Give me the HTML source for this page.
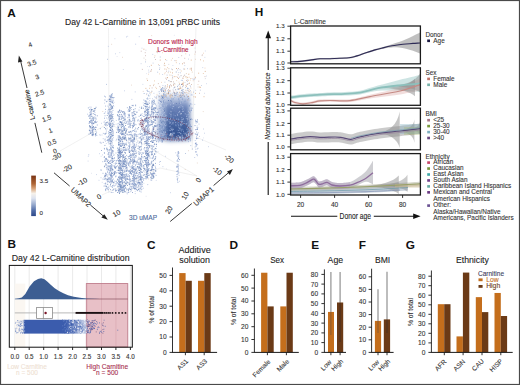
<!DOCTYPE html><html><head><meta charset="utf-8"><style>html,body{margin:0;padding:0;background:#fff;overflow:hidden}svg{display:block}text{font-family:"Liberation Sans",sans-serif}</style></head><body><svg width="520" height="385" viewBox="0 0 520 385" font-family='"Liberation Sans", sans-serif'>
<rect width="520" height="385" fill="#fff"/>
<text x="7.2" y="16.5" font-size="11.8" fill="#111" font-weight="bold">A</text>
<text x="65.0" y="24.6" font-size="9.0" fill="#222" stroke="#222" stroke-width="0.1" textLength="155" lengthAdjust="spacingAndGlyphs">Day 42 L-Carnitine in 13,091 pRBC units</text>
<line x1="108.5" y1="28.0" x2="109.0" y2="122.0" stroke="#ebebeb" stroke-width="0.7"/>
<line x1="196.0" y1="27.0" x2="192.0" y2="150.0" stroke="#ebebeb" stroke-width="0.7"/>
<line x1="60.0" y1="151.0" x2="109.0" y2="123.0" stroke="#ebebeb" stroke-width="0.7"/>
<line x1="155.0" y1="151.0" x2="197.0" y2="176.0" stroke="#ebebeb" stroke-width="0.7"/>
<line x1="196.0" y1="137.0" x2="226.0" y2="150.0" stroke="#ebebeb" stroke-width="0.7"/>
<line x1="102.0" y1="195.0" x2="160.0" y2="168.0" stroke="#ebebeb" stroke-width="0.7"/>
<line x1="109.0" y1="123.0" x2="155.0" y2="151.0" stroke="#ebebeb" stroke-width="0.7"/>
<line x1="160.0" y1="168.0" x2="197.0" y2="176.0" stroke="#ebebeb" stroke-width="0.7"/>
<defs><filter id="blur2" x="-20%" y="-20%" width="140%" height="140%"><feGaussianBlur stdDeviation="2.2"/></filter><filter id="blur05"><feGaussianBlur stdDeviation="0.35"/></filter></defs>
<g filter="url(#blur2)">
<defs><linearGradient id="g1" gradientUnits="userSpaceOnUse" x1="0" y1="90" x2="0" y2="141"><stop offset="0" stop-color="#8aa0cc" stop-opacity="0"/><stop offset="0.35" stop-color="#8aa0cc" stop-opacity="0.55"/><stop offset="1" stop-color="#5a78b2" stop-opacity="0.95"/></linearGradient></defs>
<path d="M158 92 L190 89 L190 140 L170 141 L158 139 Z" fill="url(#g1)"/>
<defs><linearGradient id="g1b" gradientUnits="userSpaceOnUse" x1="0" y1="93" x2="0" y2="140"><stop offset="0" stop-color="#8fa4d0" stop-opacity="0"/><stop offset="0.3" stop-color="#627cb4" stop-opacity="0.9"/><stop offset="0.8" stop-color="#3a5896" stop-opacity="1"/><stop offset="1" stop-color="#34508e" stop-opacity="1"/></linearGradient></defs>
<path d="M164 92 L190 90 L190 138 L166 139 Z" fill="url(#g1b)"/>
</g>
<g filter="url(#blur05)">
<path d="M122.1 57.3h0.8M119.0 165.5h0.8M148.3 179.0h0.8M202.8 111.6h0.8M196.9 163.0h0.8M178.6 82.1h0.8M184.8 169.5h0.8M189.3 112.6h0.8M124.7 140.0h0.8M151.3 35.6h0.8M102.4 111.5h0.8M131.0 85.1h0.8M111.3 44.3h0.8M195.0 59.3h0.8M165.6 141.2h0.8M188.2 150.7h0.8" stroke="#e0c8b8" stroke-width="0.8" fill="none"/>
<path d="M92.2 129.9h0.8M203.2 137.9h0.8M116.7 56.5h0.8M169.8 118.6h0.8M158.1 49.2h0.8M147.1 66.5h0.8M180.4 121.5h0.8M123.9 113.1h0.8M140.5 142.2h0.8M165.4 90.9h0.8M166.1 168.9h0.8M134.7 186.2h0.8M182.0 49.8h0.8M137.6 134.9h0.8M146.0 73.6h0.8M173.9 35.3h0.8M123.1 136.8h0.8M132.8 122.1h0.8M145.7 196.3h0.8M91.0 173.3h0.8" stroke="#d8dcea" stroke-width="0.8" fill="none"/>
<path d="M107.9 46.4h0.8M203.2 129.0h0.8M152.4 54.4h0.8M153.4 136.0h0.8M178.4 57.5h0.8M124.2 90.8h0.8M186.9 79.8h0.8M195.3 90.3h0.8M126.2 134.6h0.8M176.0 98.8h0.8M151.4 180.4h0.8M192.3 78.8h0.8M208.2 146.7h0.8M165.1 156.3h0.8M183.7 97.9h0.8M131.2 112.9h0.8M204.2 133.2h0.8M96.0 174.6h0.8M184.4 65.6h0.8M170.0 192.7h0.8M87.9 156.3h0.8M168.7 121.2h0.8M138.8 121.6h0.8M98.6 180.3h0.8M108.5 192.0h0.8M188.2 59.1h0.8M139.6 150.1h0.8M115.2 53.8h0.8M149.0 66.6h0.8M144.4 172.2h0.8M134.6 161.3h0.8M102.0 154.9h0.8M100.2 135.1h0.8M123.8 139.6h0.8M109.4 182.5h0.8M117.8 189.5h0.8M112.1 165.3h0.8M111.0 136.5h0.8M116.6 183.0h0.8M146.0 178.8h0.8M140.0 176.5h0.8M143.0 132.3h0.8M148.4 155.2h0.8M115.9 120.5h0.8M159.1 140.1h0.8M122.8 182.6h0.8M134.8 191.4h0.8M134.2 183.7h0.8M153.1 127.8h0.8M107.4 171.2h0.8M155.7 136.8h0.8M101.6 135.0h0.8M109.6 156.6h0.8M145.2 164.0h0.8M109.9 141.7h0.8M111.4 139.4h0.8M133.5 171.7h0.8M153.1 130.4h0.8" stroke="#b4c2e0" stroke-width="0.8" fill="none"/>
<path d="M135.2 170.9h0.8M128.4 124.0h0.8M138.3 134.3h0.8M134.8 193.6h0.8M155.4 108.6h0.8M99.7 142.6h0.8M127.0 147.9h0.8M126.2 36.9h0.8M136.4 138.8h0.8M131.5 99.4h0.8M138.8 36.7h0.8M189.2 55.0h0.8M134.8 91.9h0.8M154.2 149.7h0.8M135.3 44.2h0.8M162.5 166.7h0.8M199.0 136.4h0.8M148.5 72.1h0.8M141.7 189.0h0.8M194.4 104.4h0.8M135.5 181.6h0.8M159.8 126.0h0.8M148.0 160.3h0.8M112.2 142.1h0.8M112.8 190.1h0.8M125.5 138.4h0.8M157.2 126.8h0.8M113.0 185.0h0.8M114.3 185.4h0.8M123.1 178.2h0.8M159.0 164.5h0.8M153.8 127.6h0.8M116.1 172.6h0.8M109.3 136.0h0.8M139.5 137.6h0.8M138.5 186.0h0.8M105.6 158.9h0.8M130.1 160.5h0.8M138.0 163.2h0.8M148.7 134.1h0.8M125.1 177.9h0.8M135.5 171.1h0.8M135.8 181.9h0.8M137.9 178.8h0.8M100.6 177.7h0.8" stroke="#a8b8da" stroke-width="0.8" fill="none"/>
<path d="M120.1 169.1h0.8M93.4 128.0h0.8M87.7 161.1h0.8M204.5 57.4h0.8M128.0 127.1h0.8M127.3 36.3h0.8M142.5 84.4h0.8M114.4 171.2h0.8M122.9 69.5h0.8M182.7 111.3h0.8M204.2 93.3h0.8M172.5 65.5h0.8M174.2 60.6h0.8M164.5 120.5h0.8M136.4 178.5h0.8M113.7 102.4h0.8M146.4 178.6h0.8M159.1 162.4h0.8M113.7 126.0h0.8M119.4 52.6h0.8M204.9 51.0h0.8M114.5 38.7h0.8M116.3 166.3h0.8M206.0 76.0h0.8M206.1 83.7h0.8M106.4 129.4h0.8M105.9 143.5h0.8M159.2 131.5h0.8M110.3 174.1h0.8M140.5 168.7h0.8M109.3 129.7h0.8M125.4 162.0h0.8M132.2 150.1h0.8M101.8 182.3h0.8M153.4 158.8h0.8M126.6 129.4h0.8M112.9 179.0h0.8M143.5 183.3h0.8M138.0 153.6h0.8M124.3 161.5h0.8M114.7 172.1h0.8M139.2 190.0h0.8M100.7 156.3h0.8M146.5 143.2h0.8M140.9 160.4h0.8M111.0 133.8h0.8M150.2 137.0h0.8M119.7 189.5h0.8M155.8 180.4h0.8" stroke="#c0cce4" stroke-width="0.8" fill="none"/>
<path d="M168.5 103.8h0.8M140.5 187.1h0.8M181.4 45.8h0.8M179.4 128.3h0.8M88.4 154.8h0.8M143.0 131.0h0.8M107.1 59.3h0.8M159.8 57.0h0.8M192.2 149.0h0.8M147.4 184.6h0.8M185.1 153.5h0.8M145.2 160.3h0.8M158.8 65.5h0.8M202.1 140.1h0.8M190.4 145.6h0.8M159.1 69.4h0.8M192.2 108.2h0.8M106.2 84.4h0.8M145.0 61.9h0.8M137.6 182.7h0.8M132.3 135.9h0.8M131.7 154.7h0.8M142.7 157.9h0.8M109.9 137.9h0.8M105.9 136.9h0.8M131.9 167.0h0.8M129.0 125.8h0.8M124.1 130.1h0.8M155.4 130.8h0.8M143.8 178.5h0.8M154.8 166.2h0.8M131.6 160.9h0.8M124.6 128.2h0.8M139.6 146.9h0.8M122.7 176.4h0.8M107.8 140.8h0.8M120.4 130.5h0.8M122.7 147.6h0.8M105.4 183.8h0.8M123.3 186.8h0.8M133.6 166.7h0.8M123.5 147.4h0.8" stroke="#96aad2" stroke-width="0.8" fill="none"/>
<path d="M183.6 62.7h0.8M164.8 72.7h0.8M193.7 78.4h0.8M176.3 80.6h0.8M155.3 87.3h0.8M189.9 80.1h0.8M203.2 53.2h0.8M204.6 68.1h0.8M197.6 84.6h0.8M194.5 54.2h0.8M192.8 80.8h0.8M162.2 52.7h0.8M163.9 90.1h0.8M164.9 86.8h0.8M148.2 74.2h0.8M159.5 97.1h0.8M158.1 64.5h0.8M170.9 60.2h0.8M188.0 74.3h0.8M172.2 58.4h0.8M189.0 89.3h0.8M179.4 86.9h0.8M179.0 84.1h0.8M186.4 77.9h0.8M181.6 88.0h0.8M164.3 73.8h0.8M186.8 93.0h0.8M188.8 77.2h0.8M191.3 92.1h0.8M181.6 95.3h0.8M173.7 76.5h0.8M161.1 82.4h0.8M183.9 75.3h0.8M175.4 89.9h0.8M171.8 96.9h0.8M166.0 69.3h0.8M170.2 97.5h0.8M190.6 88.0h0.8M186.0 92.3h0.8M159.1 73.9h0.8M170.7 75.3h0.8M173.8 83.6h0.8M169.9 81.6h0.8M159.9 87.8h0.8M174.5 86.9h0.8M179.9 86.2h0.8M181.0 96.1h0.8M171.8 79.1h0.8" stroke="#e8c4a8" stroke-width="0.8" fill="none"/>
<path d="M185.0 50.4h0.8M159.8 60.1h0.8M149.7 85.7h0.8M187.7 90.2h0.8M182.3 84.0h0.8M184.3 69.1h0.8M171.6 95.4h0.8M176.2 68.5h0.8M204.8 71.4h0.8M175.6 60.7h0.8M182.0 63.8h0.8M147.1 80.4h0.8M143.5 49.2h0.8M167.0 84.9h0.8M187.6 99.9h0.8M173.2 84.9h0.8M179.2 88.9h0.8M195.1 77.3h0.8M178.1 78.4h0.8M172.0 72.9h0.8M185.8 86.1h0.8M166.9 86.8h0.8M164.5 69.0h0.8M170.8 81.7h0.8M173.9 92.5h0.8M150.9 65.3h0.8M188.0 96.4h0.8M190.8 68.2h0.8M188.8 83.5h0.8M164.1 63.3h0.8M182.6 83.6h0.8M195.1 97.0h0.8M168.3 93.2h0.8M169.0 87.8h0.8M163.3 95.4h0.8M169.1 86.7h0.8" stroke="#cc9064" stroke-width="0.8" fill="none"/>
<path d="M150.2 71.2h0.8M155.9 98.2h0.8M178.1 68.5h0.8M156.4 51.9h0.8M195.0 52.0h0.8M145.0 55.7h0.8M140.8 51.2h0.8M183.9 63.1h0.8M204.6 76.6h0.8M144.8 52.7h0.8M201.9 54.9h0.8M186.3 94.9h0.8M158.2 50.7h0.8M181.3 55.7h0.8M169.3 87.1h0.8M151.1 69.6h0.8M159.4 86.4h0.8M166.0 71.2h0.8M141.9 69.4h0.8M184.4 58.3h0.8M155.0 59.5h0.8M167.9 93.3h0.8M170.0 84.8h0.8M172.1 77.7h0.8M175.4 94.0h0.8M187.3 84.4h0.8M191.0 69.0h0.8M186.7 84.4h0.8M166.8 77.8h0.8M173.3 85.1h0.8M169.7 90.4h0.8M181.8 84.4h0.8M161.1 90.9h0.8M199.2 93.3h0.8M166.1 79.3h0.8M165.9 88.4h0.8M179.3 95.7h0.8M177.2 77.3h0.8M177.8 74.8h0.8M168.0 89.5h0.8M186.0 80.6h0.8M151.7 87.9h0.8M171.0 85.8h0.8M173.3 91.1h0.8M182.0 78.2h0.8M198.4 81.2h0.8M174.1 94.0h0.8" stroke="#c0a0a0" stroke-width="0.8" fill="none"/>
<path d="M163.7 65.1h0.8M154.2 57.5h0.8M145.5 50.2h0.8M194.6 48.1h0.8M204.9 78.6h0.8M168.4 64.4h0.8M175.8 71.6h0.8M172.4 77.9h0.8M185.2 85.4h0.8M165.6 94.7h0.8" stroke="#c8c8d0" stroke-width="0.8" fill="none"/>
<path d="M156.1 88.4h0.8M171.8 48.2h0.8M188.6 74.2h0.8M170.2 72.2h0.8M167.1 67.6h0.8M202.9 73.5h0.8M203.2 60.9h0.8M154.5 55.9h0.8M185.4 53.8h0.8M186.0 86.3h0.8M175.9 62.7h0.8M156.6 94.9h0.8M154.2 80.9h0.8M165.7 95.3h0.8M183.1 78.2h0.8M180.8 71.0h0.8M182.5 95.1h0.8M164.1 97.4h0.8M179.1 83.8h0.8M175.6 76.6h0.8M153.6 84.4h0.8M171.9 96.1h0.8M184.2 96.4h0.8M171.3 94.8h0.8M180.4 88.3h0.8M163.7 92.7h0.8M178.8 96.9h0.8M169.9 96.8h0.8M174.3 76.7h0.8M184.9 76.9h0.8M168.0 91.1h0.8M167.3 93.9h0.8M149.2 88.3h0.8" stroke="#e2b890" stroke-width="0.8" fill="none"/>
<path d="M157.2 52.7h0.8M182.7 85.2h0.8M142.8 91.4h0.8M172.4 93.6h0.8M156.5 51.4h0.8M186.8 50.6h0.8M197.7 87.0h0.8M146.0 94.6h0.8M180.7 75.5h0.8M143.6 58.1h0.8M145.3 59.8h0.8M201.7 55.6h0.8" stroke="#d0c0b8" stroke-width="0.8" fill="none"/>
<path d="M189.7 85.5h0.8M202.4 67.6h0.8M182.9 51.4h0.8M188.1 98.7h0.8M158.8 52.0h0.8M141.6 48.2h0.8M166.4 60.4h0.8M181.8 51.9h0.8M148.3 70.1h0.8M165.4 96.2h0.8M201.2 85.5h0.8M140.7 63.7h0.8" stroke="#b8c4de" stroke-width="0.8" fill="none"/>
<path d="M199.1 87.1h0.8M203.6 96.7h0.8M200.2 87.3h0.8M191.0 70.2h0.8M164.5 65.6h0.8M195.2 93.4h0.8M145.5 88.4h0.8M190.8 60.1h0.8M165.2 59.6h0.8M200.1 59.8h0.8M198.3 73.2h0.8M189.7 69.0h0.8M158.9 96.5h0.8M188.8 91.3h0.8M168.2 93.9h0.8M168.5 91.2h0.8M182.8 82.2h0.8M167.0 77.5h0.8M182.6 84.2h0.8M165.9 96.1h0.8M193.5 96.8h0.8M164.9 90.6h0.8M181.3 84.2h0.8M187.8 80.3h0.8M150.7 92.7h0.8M187.3 77.4h0.8M184.4 92.4h0.8M179.3 92.3h0.8M190.5 78.5h0.8M178.6 88.6h0.8" stroke="#d8a070" stroke-width="0.8" fill="none"/>
<path d="M189.1 83.0h0.8M167.8 72.7h0.8M174.6 84.1h0.8M180.5 96.5h0.8M161.8 95.5h0.8M146.5 78.8h0.8M185.9 73.6h0.8M191.8 72.1h0.8M170.9 85.9h0.8M178.6 94.0h0.8M181.1 93.0h0.8M185.7 76.6h0.8M165.0 89.7h0.8M151.5 91.2h0.8M151.0 71.0h0.8M188.3 93.2h0.8M169.4 75.0h0.8M161.5 95.3h0.8M170.2 95.3h0.8" stroke="#d8bca0" stroke-width="0.8" fill="none"/>
<path d="M169.6 91.6h0.8M165.4 78.2h0.8M180.3 94.8h0.8M179.5 95.9h0.8M168.5 68.7h0.8M183.2 94.7h0.8M153.1 85.6h0.8M183.2 85.8h0.8M177.4 96.7h0.8M169.6 95.2h0.8M176.5 92.1h0.8M180.0 88.0h0.8M172.2 69.7h0.8M191.2 84.5h0.8M166.5 93.3h0.8M173.2 81.9h0.8M157.9 83.6h0.8M183.0 76.4h0.8M185.5 90.3h0.8M169.5 96.1h0.8M180.2 88.1h0.8" stroke="#c8a898" stroke-width="0.8" fill="none"/>
<path d="M179.2 84.6h0.8M159.4 67.9h0.8M177.3 70.0h0.8M184.3 75.2h0.8M174.0 97.6h0.8M190.1 86.7h0.8M166.7 75.1h0.8M189.6 91.9h0.8M176.5 92.6h0.8M199.9 90.2h0.8M178.7 95.9h0.8M190.2 90.6h0.8M170.2 94.1h0.8M183.5 93.0h0.8M194.7 78.7h0.8M168.1 80.6h0.8" stroke="#a8b4d0" stroke-width="0.8" fill="none"/>
<path d="M173.9 93.3h0.8M173.8 83.4h0.8M152.7 63.1h0.8M187.0 81.5h0.8M193.4 79.7h0.8M180.6 75.8h0.8M180.1 72.8h0.8M178.4 72.6h0.8M167.2 90.7h0.8M162.3 74.5h0.8M169.2 90.6h0.8M160.8 95.5h0.8M162.1 97.4h0.8M193.7 79.6h0.8M184.6 82.4h0.8M181.8 90.5h0.8M179.8 96.1h0.8M160.8 90.4h0.8M165.6 94.2h0.8M179.6 69.7h0.8M178.8 97.4h0.8M164.5 82.2h0.8M179.1 63.7h0.8M188.1 91.2h0.8" stroke="#b0bedc" stroke-width="0.8" fill="none"/>
<path d="M180.9 80.3h0.8M164.9 85.6h0.8M174.4 94.3h0.8M170.7 81.5h0.8M171.3 69.1h0.8M183.3 69.0h0.8M175.8 72.3h0.8M157.3 72.2h0.8M172.2 75.9h0.8M179.3 77.1h0.8M182.2 80.4h0.8M177.8 85.2h0.8M169.0 85.5h0.8M193.2 92.1h0.8M165.4 96.4h0.8M164.5 87.0h0.8M168.4 71.2h0.8M175.0 89.6h0.8M185.2 87.6h0.8M168.8 80.8h0.8M186.9 88.4h0.8M187.0 68.7h0.8" stroke="#9fb2d6" stroke-width="0.8" fill="none"/>
<path d="M91.7 132.2h0.85M91.6 135.1h0.85M90.7 113.2h0.85M92.8 129.4h0.85M92.7 117.3h0.85M91.7 109.5h0.85M92.5 133.1h0.85M89.9 133.4h0.85M90.5 111.0h0.85M91.7 121.1h0.85M95.1 129.5h0.85M95.6 127.4h0.85M92.6 133.0h0.85M92.6 118.0h0.85M95.1 134.0h0.85M89.3 125.8h0.85M91.0 109.8h0.85M110.2 96.8h0.85M108.7 143.8h0.85M108.1 113.9h0.85M110.2 136.3h0.85M108.8 163.2h0.85M105.1 158.9h0.85M109.7 165.7h0.85M111.0 118.4h0.85M110.9 141.5h0.85M105.8 179.0h0.85M110.4 99.2h0.85M110.6 115.9h0.85M110.0 144.0h0.85M110.3 179.4h0.85M108.4 166.4h0.85M109.2 157.0h0.85M112.1 129.7h0.85M109.5 122.2h0.85M111.1 175.8h0.85M112.0 126.2h0.85M109.9 97.1h0.85M107.7 160.3h0.85M111.4 120.5h0.85M111.2 107.2h0.85M112.6 100.2h0.85M109.4 109.7h0.85M112.0 135.7h0.85M111.9 173.5h0.85M112.0 107.4h0.85M107.3 139.9h0.85M110.8 115.8h0.85M110.5 123.7h0.85M105.5 124.6h0.85M112.1 97.7h0.85M119.3 137.3h0.85M120.5 163.7h0.85M123.5 139.0h0.85M122.2 137.0h0.85M124.3 152.3h0.85M122.8 157.2h0.85M120.0 151.4h0.85M118.5 170.4h0.85M124.1 138.5h0.85M117.8 137.9h0.85M121.1 127.6h0.85M118.8 192.6h0.85M123.2 186.5h0.85M124.1 145.4h0.85M122.5 155.4h0.85M118.9 173.5h0.85M119.1 184.8h0.85M121.8 122.1h0.85M120.6 148.9h0.85M119.0 118.7h0.85M119.7 156.4h0.85M121.4 170.3h0.85M125.9 174.2h0.85M123.1 155.0h0.85M125.1 180.2h0.85M124.1 171.3h0.85M119.9 178.0h0.85M123.2 174.9h0.85M119.7 137.7h0.85M120.9 139.5h0.85M118.2 129.6h0.85M123.6 189.7h0.85M121.4 189.8h0.85M118.0 177.4h0.85M120.1 191.2h0.85M119.4 150.6h0.85M117.9 132.5h0.85M125.1 161.4h0.85M124.5 147.2h0.85M118.0 158.5h0.85M119.8 140.2h0.85M121.6 177.7h0.85M118.4 140.1h0.85M124.6 119.1h0.85M120.8 189.0h0.85M118.0 144.7h0.85M118.7 116.3h0.85M119.2 110.3h0.85M122.5 189.7h0.85M123.9 190.9h0.85M122.4 145.2h0.85M119.8 189.6h0.85M125.6 131.0h0.85M122.2 178.0h0.85M122.5 130.5h0.85M121.9 186.6h0.85M141.6 133.7h0.85M132.8 154.5h0.85M128.4 189.2h0.85M129.6 124.4h0.85M128.8 120.0h0.85M130.1 127.3h0.85M138.8 154.4h0.85M130.1 125.2h0.85M129.2 119.8h0.85M133.3 109.7h0.85M128.7 171.0h0.85M141.2 108.5h0.85M129.1 111.2h0.85M139.5 124.7h0.85M134.6 184.1h0.85M129.1 138.4h0.85M132.7 140.5h0.85M140.4 167.8h0.85M129.4 121.2h0.85M142.9 108.2h0.85M141.1 143.3h0.85M133.6 147.7h0.85M129.6 139.7h0.85M132.2 151.3h0.85M139.0 142.2h0.85M138.2 127.6h0.85M132.8 139.5h0.85M130.4 189.5h0.85M132.0 172.2h0.85M134.2 138.7h0.85M136.1 172.6h0.85M139.8 153.0h0.85M136.4 189.4h0.85M135.0 114.6h0.85M130.2 169.8h0.85M134.1 139.6h0.85M128.4 156.5h0.85M134.2 118.9h0.85M140.6 177.4h0.85M130.0 172.4h0.85M134.3 121.2h0.85M132.4 153.7h0.85M134.7 173.2h0.85M133.9 185.8h0.85M141.6 179.0h0.85M135.6 153.6h0.85M130.0 159.2h0.85M133.3 161.6h0.85M132.7 141.6h0.85M132.8 147.4h0.85M131.5 149.9h0.85M133.7 148.5h0.85M134.6 157.1h0.85M155.3 126.3h0.85M152.8 129.6h0.85M155.8 112.6h0.85M154.9 151.1h0.85M152.4 147.1h0.85M146.3 120.1h0.85M144.7 133.1h0.85M146.6 144.2h0.85M150.8 124.6h0.85M146.5 164.4h0.85M146.6 134.6h0.85M153.3 165.3h0.85M147.6 155.4h0.85M146.9 122.9h0.85M151.3 120.4h0.85M146.3 145.3h0.85M153.6 173.5h0.85M146.3 142.0h0.85M148.0 153.7h0.85M151.9 133.7h0.85M147.1 170.9h0.85M148.0 118.5h0.85M144.4 120.0h0.85M147.1 113.5h0.85M151.8 124.5h0.85M147.9 162.3h0.85M153.5 173.0h0.85M147.6 144.7h0.85M145.2 121.0h0.85M148.7 131.6h0.85M154.2 154.0h0.85M154.1 125.7h0.85M145.9 174.5h0.85M152.7 165.1h0.85M144.8 152.1h0.85M146.2 136.8h0.85M147.0 147.3h0.85M143.9 156.5h0.85M145.3 151.4h0.85M146.6 109.6h0.85M146.7 128.7h0.85M153.0 176.4h0.85M155.2 171.1h0.85M144.1 135.0h0.85M147.2 157.4h0.85M147.3 127.4h0.85M151.9 175.0h0.85M152.8 109.1h0.85M145.2 127.9h0.85M148.6 156.1h0.85M144.5 160.7h0.85M149.7 151.8h0.85M146.8 104.5h0.85M150.7 170.3h0.85M143.6 128.9h0.85M146.6 114.8h0.85M145.9 172.9h0.85M150.4 170.2h0.85M147.2 110.1h0.85M145.5 154.2h0.85M153.4 169.5h0.85M150.5 170.7h0.85M134.7 178.5h0.85M124.2 174.9h0.85M138.4 186.9h0.85M139.9 171.1h0.85M140.1 168.6h0.85M107.9 189.8h0.85M137.7 182.5h0.85M138.3 185.2h0.85M140.5 179.5h0.85M124.6 161.0h0.85M108.4 181.2h0.85M105.7 186.5h0.85M107.3 184.3h0.85M112.4 185.6h0.85M118.2 184.7h0.85M138.3 181.9h0.85M129.7 163.7h0.85M137.1 175.9h0.85M139.5 182.4h0.85M111.5 173.2h0.85M133.0 175.4h0.85M141.3 177.0h0.85M105.1 173.3h0.85M113.8 174.1h0.85M121.1 177.7h0.85M139.0 182.6h0.85M134.8 175.3h0.85M160.4 101.3h0.85M171.7 133.6h0.85M162.3 98.1h0.85M169.5 123.5h0.85M162.8 90.7h0.85M163.4 103.0h0.85M169.6 119.6h0.85M161.8 121.8h0.85M171.3 100.3h0.85M162.1 135.6h0.85M161.1 101.2h0.85M180.7 134.0h0.85M181.8 136.3h0.85M163.4 96.8h0.85M169.1 126.8h0.85M181.1 130.2h0.85M175.9 103.5h0.85M182.5 122.3h0.85M174.4 93.2h0.85M183.2 119.0h0.85M164.1 111.9h0.85M164.3 110.5h0.85M175.4 95.5h0.85M171.1 139.0h0.85M187.9 120.6h0.85M162.3 97.3h0.85M173.1 124.7h0.85M165.2 135.0h0.85M161.8 130.0h0.85M168.0 100.5h0.85M165.3 119.6h0.85M162.5 138.7h0.85M161.2 102.4h0.85M178.9 103.2h0.85M163.8 130.3h0.85M162.8 108.3h0.85M172.1 131.0h0.85M163.2 131.1h0.85M178.3 120.4h0.85M163.3 131.1h0.85M180.2 121.3h0.85M165.1 130.5h0.85M179.3 114.6h0.85M171.3 122.2h0.85M163.1 109.6h0.85M162.6 135.6h0.85M170.9 101.7h0.85" stroke="#5a76ae" stroke-width="0.85" fill="none"/>
<path d="M96.8 115.8h0.85M93.8 111.3h0.85M89.7 115.2h0.85M89.6 127.8h0.85M88.9 130.2h0.85M92.6 118.7h0.85M91.5 127.4h0.85M92.8 113.7h0.85M88.6 134.1h0.85M92.8 111.5h0.85M90.0 132.9h0.85M89.2 118.2h0.85M108.5 179.4h0.85M113.0 135.3h0.85M112.5 133.9h0.85M108.4 152.8h0.85M109.9 129.4h0.85M112.6 132.8h0.85M109.2 109.4h0.85M110.7 116.5h0.85M111.2 121.5h0.85M109.1 126.5h0.85M106.4 148.4h0.85M111.8 160.1h0.85M111.8 129.3h0.85M104.5 160.1h0.85M106.8 115.4h0.85M110.1 124.3h0.85M110.8 97.6h0.85M111.5 107.6h0.85M107.3 122.2h0.85M103.9 127.5h0.85M112.2 158.2h0.85M104.5 145.4h0.85M106.3 122.7h0.85M109.7 115.8h0.85M109.6 99.4h0.85M110.4 175.5h0.85M111.4 182.1h0.85M111.1 173.2h0.85M109.7 125.7h0.85M111.9 158.5h0.85M112.1 106.4h0.85M111.1 168.5h0.85M108.5 117.1h0.85M110.5 114.7h0.85M108.3 142.0h0.85M104.8 123.0h0.85M105.7 133.1h0.85M104.6 139.9h0.85M112.4 147.4h0.85M104.5 100.0h0.85M108.5 178.5h0.85M112.3 151.4h0.85M119.1 193.5h0.85M125.5 158.4h0.85M124.4 157.7h0.85M119.3 129.4h0.85M120.9 116.8h0.85M118.4 142.5h0.85M123.0 163.7h0.85M121.6 134.1h0.85M118.4 180.9h0.85M125.7 158.9h0.85M120.3 121.8h0.85M121.9 152.3h0.85M118.0 155.3h0.85M123.3 149.1h0.85M121.8 131.2h0.85M121.7 134.4h0.85M120.1 155.6h0.85M123.3 150.7h0.85M120.0 141.2h0.85M118.6 169.3h0.85M121.1 168.7h0.85M122.5 132.3h0.85M124.4 191.8h0.85M121.5 125.3h0.85M119.6 168.6h0.85M123.4 134.8h0.85M121.2 175.5h0.85M124.5 138.3h0.85M117.4 129.2h0.85M123.8 119.3h0.85M119.3 185.7h0.85M118.6 179.7h0.85M123.5 172.7h0.85M119.2 110.8h0.85M124.2 164.0h0.85M120.9 156.5h0.85M122.4 143.1h0.85M119.4 117.2h0.85M122.7 157.6h0.85M118.9 159.6h0.85M118.6 163.8h0.85M117.5 115.6h0.85M121.1 119.1h0.85M123.7 147.5h0.85M119.0 144.6h0.85M123.5 123.2h0.85M119.9 181.8h0.85M123.4 134.4h0.85M125.2 125.5h0.85M123.7 112.7h0.85M120.4 169.9h0.85M126.1 171.1h0.85M120.5 122.4h0.85M121.8 145.0h0.85M119.1 129.8h0.85M123.7 130.5h0.85M119.8 186.1h0.85M117.7 186.6h0.85M124.2 176.2h0.85M121.4 143.3h0.85M140.1 115.5h0.85M140.3 184.8h0.85M130.8 141.2h0.85M135.2 105.7h0.85M141.5 138.8h0.85M129.2 148.1h0.85M133.4 130.5h0.85M129.3 150.8h0.85M130.7 121.5h0.85M128.7 158.6h0.85M132.6 105.7h0.85M135.7 131.2h0.85M134.2 113.9h0.85M136.3 135.8h0.85M137.6 148.5h0.85M132.5 125.5h0.85M140.2 175.7h0.85M133.9 114.3h0.85M134.4 169.8h0.85M135.3 169.7h0.85M135.8 136.8h0.85M131.0 157.1h0.85M127.0 185.4h0.85M134.2 154.1h0.85M140.6 179.0h0.85M128.3 139.2h0.85M135.7 146.0h0.85M135.9 156.0h0.85M133.6 151.2h0.85M132.1 136.9h0.85M130.3 159.6h0.85M129.2 145.0h0.85M132.3 140.1h0.85M138.4 151.8h0.85M141.2 107.7h0.85M143.2 165.4h0.85M132.1 183.8h0.85M130.0 138.6h0.85M131.8 159.8h0.85M130.0 171.9h0.85M129.6 173.5h0.85M128.9 184.1h0.85M127.5 117.7h0.85M142.0 182.4h0.85M132.3 116.3h0.85M128.9 184.5h0.85M135.5 185.9h0.85M140.4 146.6h0.85M127.5 124.3h0.85M132.3 127.0h0.85M141.1 164.8h0.85M141.1 143.1h0.85M130.1 131.4h0.85M133.0 169.3h0.85M133.1 187.2h0.85M141.2 139.6h0.85M133.3 138.9h0.85M142.2 161.1h0.85M131.8 165.7h0.85M132.7 188.1h0.85M139.5 176.9h0.85M131.0 155.2h0.85M151.6 161.2h0.85M152.3 174.1h0.85M146.0 150.2h0.85M149.4 146.8h0.85M145.2 120.1h0.85M152.3 135.3h0.85M150.4 116.7h0.85M153.2 119.2h0.85M146.3 131.4h0.85M153.4 113.2h0.85M154.7 119.1h0.85M144.9 119.5h0.85M144.0 120.5h0.85M155.9 117.3h0.85M147.3 122.7h0.85M149.7 125.3h0.85M144.6 156.8h0.85M145.5 114.8h0.85M148.0 148.7h0.85M148.7 131.3h0.85M145.2 176.9h0.85M153.4 131.4h0.85M146.9 167.5h0.85M147.4 175.3h0.85M152.1 101.9h0.85M155.1 111.2h0.85M155.2 134.0h0.85M151.7 106.4h0.85M155.1 138.4h0.85M151.5 168.8h0.85M151.9 142.2h0.85M152.3 123.2h0.85M147.9 155.4h0.85M156.0 144.4h0.85M152.9 137.3h0.85M155.0 117.5h0.85M148.1 130.4h0.85M147.1 151.3h0.85M146.6 143.4h0.85M147.1 158.3h0.85M155.6 148.7h0.85M152.9 165.3h0.85M146.4 160.7h0.85M146.6 172.6h0.85M153.4 112.7h0.85M155.3 116.5h0.85M148.6 152.6h0.85M143.8 132.3h0.85M147.5 173.7h0.85M146.3 131.7h0.85M147.3 170.0h0.85M144.9 158.3h0.85M147.8 150.8h0.85M145.1 132.6h0.85M147.9 120.5h0.85M154.2 120.1h0.85M147.7 107.4h0.85M135.5 184.6h0.85M121.4 166.8h0.85M110.4 167.4h0.85M122.8 162.9h0.85M139.7 173.6h0.85M114.7 167.7h0.85M121.1 168.7h0.85M121.0 179.9h0.85M135.1 165.1h0.85M113.9 172.2h0.85M138.7 170.5h0.85M122.5 177.1h0.85M109.1 177.9h0.85M120.9 178.5h0.85M125.6 183.5h0.85M138.9 164.4h0.85M115.9 166.8h0.85M123.3 161.1h0.85M122.1 182.4h0.85M137.7 164.3h0.85M135.9 169.2h0.85M122.2 190.3h0.85M122.5 192.3h0.85M135.3 178.8h0.85M126.8 178.8h0.85M130.0 189.3h0.85M139.6 188.4h0.85M126.6 189.6h0.85M122.9 163.0h0.85M118.8 184.4h0.85M139.7 165.4h0.85M140.1 179.8h0.85M177.7 130.1h0.85M161.6 140.4h0.85M181.8 134.2h0.85M172.7 98.9h0.85M170.5 121.6h0.85M161.3 91.3h0.85M172.9 135.1h0.85M181.2 108.9h0.85M171.7 136.1h0.85M163.3 121.6h0.85M160.2 118.3h0.85M162.5 103.4h0.85M174.9 106.7h0.85M159.6 128.6h0.85M181.5 120.3h0.85M178.8 140.1h0.85M191.0 126.6h0.85M171.0 113.0h0.85M183.9 134.0h0.85M172.3 133.1h0.85M163.2 93.9h0.85M187.3 96.8h0.85M183.2 130.0h0.85M171.7 129.6h0.85M164.1 124.7h0.85M172.8 105.9h0.85M164.9 119.8h0.85M170.5 133.1h0.85M188.6 137.8h0.85M160.5 121.1h0.85M184.1 112.1h0.85M189.3 111.1h0.85M176.2 125.0h0.85M170.6 118.1h0.85M162.7 135.2h0.85M162.1 117.6h0.85M171.4 129.7h0.85M189.1 105.7h0.85M163.7 130.2h0.85M177.7 126.1h0.85M162.7 101.3h0.85M163.7 123.7h0.85M163.3 98.2h0.85M179.0 119.5h0.85M186.8 113.7h0.85M179.3 136.3h0.85M181.6 128.7h0.85M170.8 134.1h0.85M182.5 93.3h0.85" stroke="#6682b6" stroke-width="0.85" fill="none"/>
<path d="M93.2 127.7h0.85M92.3 131.9h0.85M90.8 131.0h0.85M91.2 114.2h0.85M89.0 125.9h0.85M91.4 123.8h0.85M90.9 132.4h0.85M91.2 113.0h0.85M89.7 113.7h0.85M90.6 114.7h0.85M89.8 117.9h0.85M90.2 130.7h0.85M90.1 120.4h0.85M90.4 128.9h0.85M93.3 127.3h0.85M90.6 130.5h0.85M91.2 132.7h0.85M95.5 135.1h0.85M96.7 121.6h0.85M94.5 112.5h0.85M87.1 114.2h0.85M90.8 107.2h0.85M111.7 180.0h0.85M108.8 173.0h0.85M111.6 130.6h0.85M111.4 145.9h0.85M109.7 140.9h0.85M112.7 118.5h0.85M106.1 118.0h0.85M110.5 125.7h0.85M111.3 114.0h0.85M110.8 183.4h0.85M111.1 108.7h0.85M110.0 147.6h0.85M111.9 181.0h0.85M110.7 153.7h0.85M105.7 179.5h0.85M112.4 140.3h0.85M109.1 162.9h0.85M111.3 177.8h0.85M105.5 160.2h0.85M108.7 167.2h0.85M107.8 165.5h0.85M110.8 107.1h0.85M108.8 178.4h0.85M111.1 109.1h0.85M109.6 127.6h0.85M112.3 126.9h0.85M110.9 166.1h0.85M107.5 112.6h0.85M107.9 109.8h0.85M110.2 148.5h0.85M104.4 113.0h0.85M104.2 103.1h0.85M105.8 173.3h0.85M111.7 177.5h0.85M110.9 124.9h0.85M112.2 114.5h0.85M108.6 111.4h0.85M110.3 170.2h0.85M106.6 167.5h0.85M124.4 160.7h0.85M123.8 171.9h0.85M119.8 129.8h0.85M124.2 163.7h0.85M125.9 142.9h0.85M121.4 150.2h0.85M119.3 122.2h0.85M121.9 117.2h0.85M126.4 140.9h0.85M121.3 141.1h0.85M123.0 125.1h0.85M121.4 115.4h0.85M123.4 114.8h0.85M119.5 144.8h0.85M119.6 176.9h0.85M120.7 122.1h0.85M124.0 134.8h0.85M126.4 150.4h0.85M118.7 123.0h0.85M119.1 184.1h0.85M119.3 138.0h0.85M121.5 124.1h0.85M120.3 111.1h0.85M118.5 117.3h0.85M119.7 185.9h0.85M117.5 123.9h0.85M119.6 146.3h0.85M120.6 110.8h0.85M119.4 172.8h0.85M120.0 130.9h0.85M126.4 175.7h0.85M119.2 109.7h0.85M122.4 134.5h0.85M118.4 183.7h0.85M119.0 140.0h0.85M118.9 114.4h0.85M124.5 179.1h0.85M123.8 189.5h0.85M119.4 153.4h0.85M118.9 145.4h0.85M119.3 172.5h0.85M119.4 149.2h0.85M120.3 183.8h0.85M122.7 185.5h0.85M120.7 140.1h0.85M121.3 153.0h0.85M123.2 150.3h0.85M124.2 136.9h0.85M124.9 120.0h0.85M118.2 190.8h0.85M122.1 149.2h0.85M118.1 128.9h0.85M120.3 150.7h0.85M123.1 168.5h0.85M122.8 128.3h0.85M120.9 174.9h0.85M120.6 125.8h0.85M121.0 152.3h0.85M118.9 152.9h0.85M117.8 123.6h0.85M118.7 166.1h0.85M124.5 162.8h0.85M117.7 112.3h0.85M123.5 161.0h0.85M122.3 184.7h0.85M134.4 136.2h0.85M133.7 113.5h0.85M132.7 164.4h0.85M128.7 183.4h0.85M135.2 127.9h0.85M136.3 180.8h0.85M138.8 159.6h0.85M131.4 148.5h0.85M136.5 186.3h0.85M127.2 159.8h0.85M130.4 153.9h0.85M137.7 119.5h0.85M134.3 129.5h0.85M129.3 172.8h0.85M130.0 120.3h0.85M135.2 104.8h0.85M134.6 134.0h0.85M140.0 137.0h0.85M137.0 112.2h0.85M128.9 117.4h0.85M136.4 172.0h0.85M139.2 124.2h0.85M131.6 114.2h0.85M141.2 115.1h0.85M129.4 118.1h0.85M133.9 144.4h0.85M134.8 171.9h0.85M134.4 118.2h0.85M134.1 169.4h0.85M135.6 132.0h0.85M131.9 167.3h0.85M130.9 170.6h0.85M126.7 167.2h0.85M141.0 159.5h0.85M128.5 111.2h0.85M129.7 127.7h0.85M139.3 157.8h0.85M133.4 152.6h0.85M132.8 115.9h0.85M129.1 177.8h0.85M131.6 105.4h0.85M133.4 168.9h0.85M133.5 141.2h0.85M131.6 131.2h0.85M129.7 132.7h0.85M131.5 115.8h0.85M154.9 156.5h0.85M150.7 176.4h0.85M143.8 166.3h0.85M153.3 169.4h0.85M152.9 164.7h0.85M152.0 167.6h0.85M151.6 151.8h0.85M151.9 154.4h0.85M149.4 163.8h0.85M152.2 167.3h0.85M147.9 147.8h0.85M146.1 140.6h0.85M146.7 176.1h0.85M146.8 124.5h0.85M147.6 138.5h0.85M144.3 174.5h0.85M146.0 151.0h0.85M152.1 98.8h0.85M152.8 112.5h0.85M153.9 173.0h0.85M145.9 133.0h0.85M146.3 110.7h0.85M150.7 121.8h0.85M145.8 139.3h0.85M149.5 112.0h0.85M148.5 164.6h0.85M145.8 107.5h0.85M151.2 118.7h0.85M146.1 136.4h0.85M151.6 124.9h0.85M146.2 150.3h0.85M146.7 153.8h0.85M154.0 119.4h0.85M147.3 125.4h0.85M146.4 169.9h0.85M155.5 139.3h0.85M148.2 171.8h0.85M144.2 168.8h0.85M144.5 150.4h0.85M152.9 127.2h0.85M153.3 109.0h0.85M147.4 125.7h0.85M147.1 147.2h0.85M148.6 117.3h0.85M153.3 149.5h0.85M147.2 162.4h0.85M145.0 135.7h0.85M145.1 150.9h0.85M155.8 105.6h0.85M154.9 138.9h0.85M147.8 102.1h0.85M147.6 148.4h0.85M147.4 156.6h0.85M143.9 114.4h0.85M147.5 143.9h0.85M147.2 137.3h0.85M147.4 99.5h0.85M154.6 108.2h0.85M145.7 139.3h0.85M153.2 172.9h0.85M147.2 162.3h0.85M105.9 165.9h0.85M120.5 175.2h0.85M120.5 166.0h0.85M139.9 182.6h0.85M121.0 187.4h0.85M105.9 180.2h0.85M133.7 164.0h0.85M113.7 186.4h0.85M121.5 168.4h0.85M110.1 181.2h0.85M135.6 167.8h0.85M107.4 188.3h0.85M121.0 169.5h0.85M115.3 185.4h0.85M123.7 177.7h0.85M111.4 164.3h0.85M132.8 182.3h0.85M135.6 168.5h0.85M121.5 189.5h0.85M121.6 182.0h0.85M125.7 180.3h0.85M131.4 167.7h0.85M126.8 169.3h0.85M140.4 178.4h0.85M132.7 174.4h0.85M133.3 180.7h0.85M139.7 172.5h0.85M106.3 174.2h0.85M111.3 158.9h0.85M126.2 190.1h0.85M136.7 170.7h0.85M115.1 163.3h0.85M126.4 161.5h0.85M125.3 174.6h0.85M107.0 159.8h0.85M134.7 187.3h0.85M121.7 175.8h0.85M135.1 165.8h0.85M106.3 169.7h0.85M178.9 181.3h0.85M178.3 161.4h0.85M177.5 161.4h0.85M177.9 173.7h0.85M175.3 152.8h0.85M178.7 175.4h0.85M178.0 157.6h0.85M178.0 171.7h0.85M177.1 173.9h0.85M198.6 124.1h0.85M194.8 140.5h0.85M196.8 154.3h0.85M196.1 146.1h0.85M196.9 149.0h0.85M196.0 136.6h0.85M196.6 144.6h0.85M196.7 126.0h0.85M194.3 157.5h0.85M196.8 138.4h0.85M197.8 132.8h0.85M196.2 154.5h0.85M196.4 145.2h0.85M197.4 127.5h0.85M157.4 131.3h0.85M149.5 107.9h0.85M159.8 119.9h0.85M143.6 120.7h0.85M158.6 103.5h0.85M161.0 138.4h0.85M146.4 93.6h0.85M143.4 135.8h0.85M157.2 109.2h0.85M157.9 130.5h0.85M147.6 122.3h0.85M161.7 133.7h0.85M144.0 105.8h0.85M147.5 98.6h0.85M144.5 106.4h0.85M158.8 98.0h0.85M149.1 100.7h0.85M159.6 111.2h0.85M157.9 131.7h0.85M161.0 133.2h0.85M158.0 100.0h0.85M144.6 113.6h0.85M156.7 112.7h0.85M152.6 108.1h0.85M156.0 116.1h0.85M151.4 91.4h0.85M152.0 103.3h0.85M143.1 138.6h0.85M161.6 119.0h0.85M166.5 104.5h0.85M165.3 136.8h0.85M160.0 116.0h0.85M163.4 127.0h0.85M159.8 124.5h0.85M164.8 132.1h0.85M176.3 119.1h0.85M190.4 120.4h0.85M163.6 133.1h0.85M170.9 133.9h0.85M170.1 104.8h0.85M164.7 138.9h0.85M186.6 114.9h0.85M165.6 134.4h0.85M164.4 134.7h0.85M187.5 131.7h0.85M188.5 101.5h0.85M188.8 128.2h0.85M165.3 136.2h0.85M178.0 107.6h0.85M165.0 125.6h0.85M160.9 129.5h0.85M163.7 126.0h0.85M182.5 111.5h0.85M186.3 94.9h0.85M184.5 124.0h0.85M183.6 133.1h0.85M171.4 100.7h0.85M162.5 85.6h0.85M162.9 110.5h0.85M182.0 123.9h0.85M162.0 118.1h0.85M162.0 135.1h0.85M164.6 132.1h0.85M183.4 95.7h0.85M166.0 137.6h0.85M163.0 89.0h0.85M174.7 97.2h0.85M162.3 115.1h0.85M176.8 140.3h0.85M180.3 94.6h0.85M164.9 97.0h0.85M177.2 115.2h0.85M188.1 133.6h0.85M170.2 134.5h0.85M179.1 111.4h0.85M163.2 129.3h0.85M181.4 121.2h0.85M189.5 112.1h0.85M163.0 109.1h0.85M172.2 134.7h0.85M187.1 90.2h0.85" stroke="#b2c1e0" stroke-width="0.85" fill="none"/>
<path d="M95.1 120.9h0.85M95.4 131.2h0.85M88.9 122.1h0.85M92.6 129.0h0.85M90.9 118.8h0.85M95.0 135.9h0.85M94.9 122.2h0.85M96.4 135.4h0.85M89.9 118.3h0.85M90.3 120.8h0.85M89.5 107.1h0.85M95.4 117.9h0.85M110.3 140.1h0.85M108.4 107.2h0.85M108.1 163.4h0.85M109.7 161.0h0.85M111.8 169.8h0.85M110.9 136.6h0.85M110.0 147.3h0.85M111.4 175.9h0.85M109.6 130.0h0.85M111.2 115.0h0.85M109.9 118.4h0.85M112.1 102.5h0.85M108.6 123.9h0.85M111.3 172.0h0.85M108.5 168.4h0.85M112.8 179.1h0.85M103.8 113.5h0.85M109.4 112.8h0.85M110.6 105.2h0.85M109.8 170.6h0.85M109.8 105.0h0.85M109.9 124.4h0.85M109.9 107.9h0.85M110.1 180.7h0.85M112.6 110.4h0.85M110.2 127.6h0.85M109.3 110.9h0.85M111.4 149.9h0.85M111.7 108.6h0.85M109.8 115.5h0.85M111.4 181.5h0.85M107.7 118.9h0.85M113.2 98.0h0.85M103.6 177.9h0.85M106.9 137.6h0.85M109.1 166.8h0.85M110.7 154.0h0.85M111.5 162.2h0.85M112.1 114.9h0.85M111.1 165.9h0.85M107.8 136.5h0.85M106.4 148.1h0.85M110.5 161.0h0.85M119.3 185.6h0.85M117.5 126.2h0.85M120.4 169.0h0.85M124.1 129.9h0.85M124.5 118.0h0.85M120.2 166.1h0.85M119.6 181.8h0.85M121.5 134.5h0.85M121.2 146.2h0.85M122.2 163.1h0.85M118.5 148.7h0.85M123.7 127.9h0.85M118.9 182.1h0.85M119.8 184.8h0.85M119.8 157.1h0.85M120.4 192.0h0.85M121.7 144.7h0.85M123.4 127.1h0.85M119.7 119.4h0.85M119.9 167.4h0.85M117.0 152.2h0.85M121.3 187.9h0.85M120.9 185.2h0.85M118.1 118.9h0.85M119.1 119.1h0.85M118.6 154.7h0.85M121.1 163.3h0.85M120.7 152.2h0.85M122.0 164.0h0.85M119.9 173.3h0.85M125.5 175.5h0.85M126.3 122.6h0.85M122.4 186.7h0.85M123.6 154.7h0.85M118.9 177.7h0.85M121.3 174.1h0.85M120.3 146.1h0.85M117.5 111.8h0.85M117.3 156.9h0.85M116.3 139.3h0.85M125.0 144.6h0.85M119.4 150.3h0.85M122.1 173.6h0.85M119.9 143.5h0.85M122.0 164.8h0.85M119.3 173.6h0.85M119.3 156.9h0.85M119.7 168.5h0.85M118.4 167.4h0.85M124.2 129.4h0.85M123.1 113.9h0.85M118.4 145.2h0.85M119.3 154.0h0.85M124.0 144.7h0.85M137.3 136.4h0.85M136.3 152.2h0.85M142.2 186.3h0.85M127.8 170.8h0.85M128.3 149.8h0.85M128.9 146.3h0.85M133.1 162.7h0.85M135.4 114.2h0.85M134.1 178.0h0.85M129.1 116.0h0.85M128.2 163.1h0.85M132.6 112.9h0.85M140.6 136.6h0.85M131.2 134.2h0.85M141.2 139.9h0.85M138.7 153.2h0.85M132.1 163.7h0.85M141.5 177.9h0.85M133.7 187.9h0.85M134.7 135.7h0.85M141.4 186.4h0.85M133.9 160.7h0.85M133.4 162.6h0.85M135.0 186.1h0.85M140.3 118.5h0.85M140.8 128.9h0.85M127.9 123.0h0.85M134.5 147.1h0.85M129.0 178.0h0.85M141.1 146.2h0.85M140.8 146.9h0.85M133.4 173.0h0.85M132.4 118.5h0.85M128.2 145.9h0.85M137.9 172.9h0.85M133.5 168.6h0.85M132.4 139.9h0.85M141.3 140.1h0.85M130.6 181.8h0.85M135.7 153.2h0.85M131.6 151.2h0.85M138.6 138.0h0.85M131.9 160.1h0.85M135.2 128.8h0.85M148.2 113.0h0.85M148.1 131.0h0.85M146.0 119.6h0.85M146.5 168.5h0.85M155.6 171.0h0.85M151.2 152.4h0.85M146.7 142.3h0.85M147.8 109.8h0.85M155.4 168.5h0.85M153.5 169.8h0.85M152.8 102.7h0.85M152.0 105.9h0.85M145.3 100.5h0.85M147.3 116.2h0.85M147.0 120.7h0.85M151.2 121.6h0.85M150.5 115.6h0.85M149.3 155.0h0.85M152.2 158.6h0.85M152.0 148.8h0.85M143.7 130.0h0.85M144.9 176.5h0.85M146.9 130.4h0.85M146.3 171.6h0.85M154.7 138.6h0.85M144.3 143.8h0.85M151.5 132.0h0.85M145.5 159.9h0.85M144.2 169.3h0.85M145.6 103.7h0.85M156.0 146.3h0.85M146.2 158.7h0.85M151.7 135.5h0.85M146.9 164.2h0.85M144.8 118.4h0.85M149.1 121.9h0.85M147.6 104.5h0.85M145.5 150.5h0.85M145.4 141.8h0.85M146.5 136.7h0.85M144.7 168.8h0.85M152.5 134.0h0.85M155.6 118.4h0.85M149.4 163.6h0.85M149.3 156.3h0.85M155.0 167.4h0.85M146.6 148.4h0.85M153.5 108.8h0.85M152.3 151.5h0.85M156.1 141.7h0.85M152.4 136.0h0.85M146.6 165.9h0.85M148.3 114.5h0.85M147.1 128.5h0.85M149.2 107.3h0.85M155.6 108.3h0.85M155.6 152.8h0.85M146.5 173.1h0.85M154.9 132.5h0.85M146.1 101.3h0.85M105.2 161.3h0.85M108.3 177.9h0.85M124.1 181.7h0.85M127.3 162.9h0.85M140.8 183.2h0.85M125.5 177.2h0.85M123.6 170.7h0.85M105.1 175.5h0.85M137.6 168.0h0.85M118.7 183.9h0.85M140.0 169.4h0.85M130.8 161.1h0.85M117.5 186.9h0.85M106.5 187.2h0.85M112.1 186.1h0.85M132.3 170.9h0.85M119.4 161.0h0.85M136.2 189.8h0.85M115.2 176.8h0.85M109.6 174.3h0.85M112.1 187.5h0.85M133.0 180.5h0.85M121.6 191.4h0.85M116.1 161.0h0.85M140.7 192.0h0.85M137.7 166.5h0.85M136.8 182.0h0.85M125.7 165.2h0.85M122.0 176.5h0.85M128.9 179.1h0.85M112.5 192.5h0.85M126.6 174.1h0.85M107.2 179.8h0.85M140.0 169.5h0.85M177.2 156.6h0.85M176.9 160.7h0.85M177.2 155.1h0.85M177.7 172.2h0.85M178.4 172.9h0.85M177.7 154.2h0.85M178.4 157.0h0.85M177.9 151.5h0.85M177.5 178.1h0.85M196.5 127.8h0.85M196.2 132.0h0.85M195.2 134.3h0.85M195.5 144.1h0.85M197.2 134.0h0.85M197.2 122.2h0.85M197.5 138.5h0.85M194.7 147.0h0.85M194.9 143.7h0.85M195.5 121.8h0.85M196.9 155.7h0.85M195.4 149.2h0.85M195.7 123.0h0.85M194.8 133.7h0.85M195.4 121.4h0.85M146.9 117.6h0.85M151.6 104.4h0.85M151.5 137.6h0.85M161.0 110.2h0.85M152.0 135.4h0.85M156.3 117.1h0.85M151.4 113.8h0.85M143.1 105.2h0.85M147.1 98.0h0.85M141.6 119.8h0.85M157.4 131.9h0.85M159.0 125.8h0.85M161.6 125.7h0.85M151.5 101.8h0.85M160.0 132.0h0.85M146.1 121.7h0.85M144.3 133.5h0.85M148.1 137.6h0.85M151.6 100.9h0.85M143.1 127.2h0.85M157.7 112.6h0.85M157.4 124.4h0.85M152.8 114.6h0.85M159.8 107.8h0.85M159.1 129.5h0.85M160.0 116.3h0.85M161.0 125.6h0.85M190.2 140.6h0.85M161.8 140.9h0.85M161.4 123.6h0.85M164.7 91.7h0.85M165.8 97.6h0.85M184.7 93.0h0.85M161.9 126.3h0.85M182.0 86.6h0.85M162.8 129.9h0.85M183.0 118.7h0.85M173.3 92.4h0.85M161.1 118.0h0.85M165.4 139.5h0.85M187.2 88.3h0.85M163.2 96.0h0.85M168.1 138.6h0.85M190.5 130.8h0.85M188.7 104.9h0.85M163.6 103.1h0.85M164.7 130.0h0.85M178.4 130.5h0.85M188.2 136.2h0.85M180.5 125.9h0.85M182.2 98.5h0.85M162.2 130.4h0.85M164.0 139.0h0.85M172.2 135.5h0.85M188.6 134.8h0.85M182.7 119.6h0.85M182.1 123.2h0.85M169.8 126.2h0.85M161.7 111.7h0.85M179.3 101.3h0.85M180.3 133.8h0.85M161.1 110.1h0.85M163.2 131.2h0.85M169.1 123.1h0.85M162.6 137.2h0.85M162.3 129.5h0.85M188.8 124.8h0.85M190.0 112.1h0.85M182.1 109.7h0.85M179.9 114.3h0.85M161.9 134.8h0.85M163.0 118.5h0.85M162.2 108.0h0.85M170.0 141.2h0.85M171.7 137.0h0.85M178.2 112.6h0.85M180.4 124.6h0.85M164.3 116.0h0.85M161.6 99.4h0.85M167.4 98.1h0.85M185.1 137.9h0.85M188.4 132.8h0.85" stroke="#9cb0d6" stroke-width="0.85" fill="none"/>
<path d="M95.4 122.6h0.85M95.1 127.1h0.85M90.5 133.3h0.85M90.4 116.8h0.85M90.6 111.6h0.85M92.9 110.3h0.85M89.2 121.6h0.85M96.2 132.2h0.85M88.9 115.1h0.85M88.4 116.2h0.85M95.5 133.8h0.85M112.4 119.0h0.85M108.1 162.8h0.85M105.0 96.9h0.85M105.7 158.3h0.85M109.5 121.0h0.85M108.8 104.2h0.85M112.7 114.4h0.85M110.1 181.9h0.85M104.6 115.8h0.85M110.8 174.7h0.85M109.9 141.0h0.85M105.1 109.4h0.85M107.5 149.6h0.85M110.0 157.1h0.85M111.0 135.0h0.85M112.7 131.0h0.85M110.5 115.2h0.85M103.9 166.8h0.85M111.5 102.6h0.85M110.9 164.5h0.85M107.6 106.1h0.85M112.2 139.0h0.85M110.8 145.8h0.85M108.9 115.4h0.85M109.1 101.4h0.85M113.9 172.8h0.85M108.0 131.8h0.85M109.8 155.3h0.85M105.2 106.1h0.85M109.5 103.6h0.85M112.6 169.7h0.85M109.7 109.1h0.85M107.9 112.8h0.85M112.4 147.6h0.85M109.3 133.0h0.85M118.8 151.7h0.85M121.1 132.7h0.85M121.0 154.5h0.85M118.3 150.5h0.85M122.2 188.0h0.85M118.7 112.2h0.85M124.2 122.2h0.85M121.1 186.5h0.85M120.1 152.9h0.85M117.3 150.3h0.85M119.0 184.0h0.85M120.3 187.2h0.85M119.5 138.2h0.85M119.6 158.2h0.85M120.3 129.5h0.85M119.5 126.0h0.85M120.9 126.7h0.85M120.1 112.5h0.85M119.6 116.3h0.85M119.2 140.2h0.85M120.7 128.1h0.85M122.7 155.8h0.85M120.3 172.7h0.85M122.5 172.8h0.85M120.5 151.4h0.85M121.4 118.2h0.85M122.4 166.6h0.85M119.3 129.8h0.85M125.3 150.3h0.85M118.6 141.2h0.85M123.9 130.5h0.85M126.4 145.1h0.85M119.7 176.6h0.85M121.1 181.5h0.85M118.6 149.3h0.85M123.5 127.2h0.85M117.5 148.0h0.85M119.9 152.9h0.85M124.3 112.3h0.85M123.7 120.5h0.85M124.5 133.4h0.85M126.2 140.2h0.85M117.8 128.9h0.85M121.4 138.6h0.85M117.8 116.0h0.85M122.1 164.9h0.85M123.0 125.5h0.85M124.5 156.9h0.85M119.8 154.7h0.85M122.3 111.9h0.85M119.1 147.3h0.85M119.4 168.9h0.85M121.4 150.5h0.85M121.4 174.9h0.85M124.9 113.9h0.85M122.2 156.3h0.85M124.6 137.3h0.85M117.1 165.8h0.85M124.2 139.2h0.85M118.3 131.0h0.85M122.3 116.6h0.85M125.0 116.1h0.85M117.0 148.3h0.85M118.1 112.7h0.85M119.6 153.3h0.85M118.1 170.3h0.85M119.1 161.2h0.85M118.7 191.4h0.85M117.8 131.8h0.85M126.2 155.4h0.85M117.9 139.6h0.85M117.7 126.2h0.85M119.3 162.8h0.85M128.7 119.8h0.85M139.0 147.9h0.85M140.6 179.3h0.85M133.3 157.2h0.85M137.1 120.8h0.85M136.0 178.9h0.85M138.7 116.3h0.85M134.3 160.5h0.85M134.9 184.3h0.85M133.0 180.2h0.85M132.2 115.3h0.85M128.2 115.2h0.85M129.3 176.5h0.85M143.0 175.4h0.85M130.8 132.2h0.85M128.8 158.5h0.85M129.7 134.5h0.85M130.4 137.4h0.85M140.9 118.0h0.85M129.0 111.2h0.85M143.2 180.1h0.85M140.0 130.7h0.85M130.1 155.3h0.85M132.6 119.0h0.85M131.9 105.5h0.85M133.8 137.0h0.85M134.7 147.7h0.85M132.1 146.5h0.85M129.4 183.4h0.85M134.8 175.5h0.85M134.3 170.0h0.85M133.8 182.6h0.85M135.5 117.2h0.85M132.5 148.6h0.85M140.9 149.0h0.85M136.7 173.5h0.85M134.8 108.7h0.85M131.4 174.7h0.85M129.3 151.1h0.85M126.9 107.7h0.85M129.7 173.5h0.85M129.8 158.0h0.85M129.1 115.1h0.85M155.2 104.2h0.85M147.7 134.5h0.85M155.0 125.8h0.85M147.9 121.9h0.85M145.0 106.3h0.85M149.0 146.0h0.85M151.2 146.7h0.85M154.4 109.2h0.85M143.9 174.8h0.85M147.2 165.7h0.85M146.4 114.3h0.85M146.6 159.8h0.85M153.2 114.9h0.85M151.0 124.5h0.85M146.4 143.2h0.85M154.8 159.8h0.85M147.3 142.7h0.85M143.4 100.0h0.85M153.3 177.5h0.85M151.3 173.8h0.85M147.2 111.8h0.85M143.7 160.4h0.85M145.7 176.2h0.85M148.1 109.4h0.85M153.5 176.7h0.85M146.7 121.5h0.85M147.2 168.9h0.85M144.4 127.4h0.85M154.6 112.5h0.85M155.8 116.5h0.85M144.2 169.6h0.85M154.4 154.3h0.85M146.0 174.6h0.85M143.9 129.1h0.85M153.2 127.5h0.85M145.8 141.0h0.85M155.7 151.4h0.85M146.7 153.8h0.85M147.7 166.5h0.85M145.8 147.7h0.85M146.8 118.0h0.85M152.2 154.0h0.85M146.5 133.6h0.85M148.2 141.2h0.85M148.0 164.3h0.85M153.3 176.9h0.85M148.6 170.6h0.85M148.1 122.2h0.85M147.0 151.5h0.85M152.0 136.1h0.85M151.6 122.8h0.85M149.1 129.0h0.85M146.2 177.5h0.85M151.3 175.0h0.85M152.9 134.8h0.85M146.8 118.7h0.85M122.4 188.9h0.85M138.4 164.2h0.85M140.0 179.0h0.85M122.0 180.8h0.85M109.4 166.3h0.85M134.2 161.4h0.85M111.4 180.3h0.85M111.4 167.7h0.85M109.1 161.5h0.85M138.9 167.3h0.85M114.7 188.8h0.85M139.5 183.8h0.85M105.3 174.8h0.85M116.1 181.3h0.85M139.8 188.9h0.85M138.3 189.6h0.85M141.0 189.7h0.85M132.0 176.6h0.85M121.1 187.3h0.85M124.4 163.1h0.85M140.3 166.0h0.85M129.2 161.3h0.85M139.5 184.6h0.85M122.2 174.4h0.85M126.7 192.8h0.85M136.9 184.0h0.85M121.7 170.7h0.85M176.5 167.3h0.85M177.1 180.8h0.85M176.6 155.2h0.85M176.6 161.0h0.85M177.9 169.2h0.85M177.0 179.1h0.85M177.7 153.1h0.85M176.7 171.2h0.85M178.3 155.9h0.85M177.5 182.4h0.85M177.9 153.2h0.85M177.4 159.4h0.85M196.4 134.3h0.85M197.0 128.8h0.85M195.5 146.0h0.85M197.5 148.3h0.85M196.9 134.9h0.85M148.4 95.7h0.85M143.7 93.5h0.85M159.3 96.2h0.85M153.7 116.5h0.85M158.8 122.0h0.85M160.2 126.6h0.85M146.5 98.7h0.85M157.5 138.9h0.85M160.2 103.9h0.85M149.4 93.1h0.85M154.8 133.0h0.85M160.7 97.1h0.85M144.0 123.4h0.85M147.3 108.6h0.85M147.3 91.4h0.85M145.5 129.8h0.85M152.1 132.6h0.85M148.5 125.3h0.85M147.1 140.0h0.85M160.0 135.2h0.85M159.6 108.5h0.85M158.7 139.0h0.85M152.9 100.4h0.85M150.9 134.0h0.85M158.3 124.6h0.85M145.2 118.7h0.85M145.9 110.6h0.85M158.8 106.1h0.85M147.9 95.1h0.85M150.4 120.9h0.85M153.0 112.9h0.85M156.4 114.4h0.85M153.9 101.3h0.85M157.1 117.4h0.85M174.0 95.6h0.85M186.6 136.2h0.85M165.6 134.2h0.85M181.9 93.8h0.85M187.5 99.8h0.85M182.8 123.5h0.85M173.1 133.0h0.85M181.8 119.4h0.85M169.3 119.6h0.85M160.9 135.3h0.85M187.7 88.4h0.85M181.1 131.0h0.85M162.7 122.9h0.85M178.0 89.2h0.85M161.4 125.2h0.85M180.1 95.6h0.85M179.3 140.1h0.85M164.3 127.9h0.85M163.3 102.3h0.85M160.2 129.0h0.85M191.2 119.3h0.85M160.1 135.2h0.85M189.5 100.1h0.85M181.1 125.2h0.85M183.0 131.5h0.85M166.2 125.0h0.85M170.5 116.2h0.85M161.6 128.0h0.85M164.5 94.7h0.85M161.8 142.1h0.85M164.5 92.1h0.85M181.7 137.8h0.85M160.5 116.5h0.85M164.7 126.7h0.85M160.2 131.0h0.85M177.1 86.6h0.85M181.7 124.3h0.85M178.4 98.4h0.85M181.4 129.7h0.85M190.6 118.4h0.85M181.1 96.8h0.85M160.5 89.7h0.85M186.7 136.5h0.85M173.1 138.0h0.85M163.0 94.4h0.85M162.3 99.9h0.85M171.7 108.7h0.85M162.6 126.8h0.85M179.8 123.1h0.85M170.0 134.1h0.85M165.2 111.0h0.85M187.5 109.7h0.85M171.4 124.3h0.85M170.6 115.9h0.85M169.3 113.4h0.85M164.9 102.1h0.85" stroke="#8ba3ce" stroke-width="0.85" fill="none"/>
<path d="M93.0 123.6h0.85M90.2 126.5h0.85M92.6 119.1h0.85M93.0 126.8h0.85M91.9 134.5h0.85M93.9 108.5h0.85M94.4 110.2h0.85M89.0 126.1h0.85M94.9 108.6h0.85M90.8 120.1h0.85M108.0 169.4h0.85M112.3 116.5h0.85M108.9 99.4h0.85M109.9 143.1h0.85M112.0 126.5h0.85M108.0 156.9h0.85M111.1 106.0h0.85M110.5 96.0h0.85M110.2 130.5h0.85M111.8 158.7h0.85M112.1 169.3h0.85M106.6 149.6h0.85M111.4 128.1h0.85M109.4 140.8h0.85M109.9 116.9h0.85M108.7 117.1h0.85M110.5 170.4h0.85M111.6 117.5h0.85M108.6 109.1h0.85M114.0 158.0h0.85M109.6 119.5h0.85M110.1 169.0h0.85M109.6 130.6h0.85M109.8 124.1h0.85M105.0 128.8h0.85M110.0 175.9h0.85M110.1 132.6h0.85M104.3 176.6h0.85M110.2 127.4h0.85M113.0 161.2h0.85M124.6 185.6h0.85M117.1 114.8h0.85M122.6 166.2h0.85M122.0 112.1h0.85M120.0 160.9h0.85M123.4 163.6h0.85M118.5 168.5h0.85M121.5 190.6h0.85M119.4 167.2h0.85M124.1 159.3h0.85M119.4 151.8h0.85M121.9 133.7h0.85M119.0 182.3h0.85M125.3 137.7h0.85M118.8 149.6h0.85M125.9 130.4h0.85M124.3 129.8h0.85M123.4 161.0h0.85M118.4 139.6h0.85M119.6 124.6h0.85M121.5 131.4h0.85M121.0 152.8h0.85M123.4 111.6h0.85M121.8 170.1h0.85M118.0 153.0h0.85M122.5 124.4h0.85M120.2 138.4h0.85M123.0 147.5h0.85M119.0 163.4h0.85M124.6 149.4h0.85M119.5 173.7h0.85M123.3 137.1h0.85M125.4 132.3h0.85M118.9 152.5h0.85M123.8 186.3h0.85M118.5 163.6h0.85M118.5 119.9h0.85M118.5 142.9h0.85M122.7 187.6h0.85M125.0 183.3h0.85M125.8 144.2h0.85M117.0 179.8h0.85M119.4 157.6h0.85M118.2 167.1h0.85M121.5 124.5h0.85M124.0 162.0h0.85M122.8 129.2h0.85M119.5 153.3h0.85M120.3 122.3h0.85M122.7 166.5h0.85M119.3 160.3h0.85M119.9 146.0h0.85M118.4 161.8h0.85M121.8 124.6h0.85M129.7 108.4h0.85M132.6 168.9h0.85M135.7 161.8h0.85M133.2 168.1h0.85M138.0 189.2h0.85M134.4 111.4h0.85M131.7 135.4h0.85M130.9 173.7h0.85M130.5 123.4h0.85M142.0 120.7h0.85M137.9 168.0h0.85M133.3 123.6h0.85M140.6 142.2h0.85M130.4 141.0h0.85M131.4 188.8h0.85M136.9 166.9h0.85M134.0 153.7h0.85M141.0 139.9h0.85M141.1 166.1h0.85M128.6 143.1h0.85M140.6 158.3h0.85M134.2 120.1h0.85M133.6 174.7h0.85M130.1 155.4h0.85M132.3 167.5h0.85M129.2 152.4h0.85M133.8 188.5h0.85M135.8 184.9h0.85M129.0 152.2h0.85M133.9 137.8h0.85M133.6 185.8h0.85M130.6 107.5h0.85M141.9 172.3h0.85M132.9 178.3h0.85M129.3 106.6h0.85M133.1 155.2h0.85M133.9 177.0h0.85M133.4 118.0h0.85M129.5 110.2h0.85M134.5 161.9h0.85M130.3 171.8h0.85M128.0 190.3h0.85M141.6 129.2h0.85M132.5 112.7h0.85M139.3 179.9h0.85M144.8 131.8h0.85M153.6 131.6h0.85M153.1 160.7h0.85M152.4 165.7h0.85M146.2 166.1h0.85M147.3 154.1h0.85M154.8 148.4h0.85M152.8 122.4h0.85M145.1 111.4h0.85M150.4 177.7h0.85M149.5 164.7h0.85M145.4 118.2h0.85M152.2 136.5h0.85M145.6 143.0h0.85M146.4 104.6h0.85M151.2 109.2h0.85M145.7 120.4h0.85M152.3 112.0h0.85M147.2 153.7h0.85M146.0 125.9h0.85M151.5 109.5h0.85M147.3 159.5h0.85M145.5 143.5h0.85M152.7 137.4h0.85M155.3 136.9h0.85M147.5 149.8h0.85M151.4 178.1h0.85M145.7 153.7h0.85M150.1 173.0h0.85M147.8 145.6h0.85M151.7 178.6h0.85M154.5 140.5h0.85M146.7 103.8h0.85M151.0 107.9h0.85M152.5 169.5h0.85M144.7 141.5h0.85M146.9 171.4h0.85M147.6 104.1h0.85M151.3 169.6h0.85M150.3 141.5h0.85M145.3 162.7h0.85M147.4 113.7h0.85M149.8 115.8h0.85M146.2 118.2h0.85M144.3 103.6h0.85M151.4 148.9h0.85M155.1 158.3h0.85M153.2 175.2h0.85M151.8 166.2h0.85M153.0 164.3h0.85M146.3 126.6h0.85M147.6 111.6h0.85M145.0 103.8h0.85M148.8 145.6h0.85M146.7 171.7h0.85M152.4 138.5h0.85M147.6 115.2h0.85M150.6 145.4h0.85M146.2 155.6h0.85M145.3 126.1h0.85M146.9 115.3h0.85M151.3 134.5h0.85M114.0 173.6h0.85M132.5 161.9h0.85M133.1 184.6h0.85M122.1 187.2h0.85M121.7 173.4h0.85M112.9 182.7h0.85M137.5 162.6h0.85M140.9 169.4h0.85M126.6 178.2h0.85M115.4 190.2h0.85M126.4 163.8h0.85M112.0 181.1h0.85M107.1 179.7h0.85M118.6 188.5h0.85M105.5 165.0h0.85M132.3 178.6h0.85M124.0 177.8h0.85M139.0 170.3h0.85M140.2 161.3h0.85M137.3 166.6h0.85M121.4 175.3h0.85M110.1 184.3h0.85M125.1 164.8h0.85M136.4 178.0h0.85M137.8 180.3h0.85M139.9 179.2h0.85M137.8 159.1h0.85M135.3 170.0h0.85M118.8 191.0h0.85M126.5 170.2h0.85M122.2 183.7h0.85M122.1 177.6h0.85M110.9 176.1h0.85M104.2 166.2h0.85M140.3 163.0h0.85M126.5 179.2h0.85M121.6 174.6h0.85M120.4 181.9h0.85M134.4 161.2h0.85M120.2 186.4h0.85M181.9 113.5h0.85M180.9 131.7h0.85M164.8 136.3h0.85M163.1 91.4h0.85M167.1 128.4h0.85M189.0 125.7h0.85M189.8 139.0h0.85M172.3 112.7h0.85M182.1 138.2h0.85M160.9 122.4h0.85M168.2 130.0h0.85M181.8 122.7h0.85M190.1 119.5h0.85M162.3 87.7h0.85M162.4 121.4h0.85M163.7 115.8h0.85M176.4 93.9h0.85M163.7 126.8h0.85M170.7 109.0h0.85M173.5 113.1h0.85M162.1 132.0h0.85M162.5 106.4h0.85M162.0 97.0h0.85M185.7 136.2h0.85M166.5 127.6h0.85M159.0 124.6h0.85M188.1 138.6h0.85M180.4 127.5h0.85M177.0 116.8h0.85M181.4 90.3h0.85M162.5 138.1h0.85M181.5 129.9h0.85M180.7 135.3h0.85M176.6 130.1h0.85M168.2 92.8h0.85M162.0 141.2h0.85M162.9 130.1h0.85M181.3 110.6h0.85M169.0 139.4h0.85M181.2 135.0h0.85M166.0 127.8h0.85M180.9 140.3h0.85M163.7 125.3h0.85M187.9 139.2h0.85M182.0 108.2h0.85M161.7 112.7h0.85M167.4 123.5h0.85M190.6 130.6h0.85M179.9 109.1h0.85M169.6 120.3h0.85" stroke="#5270a8" stroke-width="0.85" fill="none"/>
<path d="M94.2 129.0h0.85M94.5 127.6h0.85M90.4 114.6h0.85M91.1 109.6h0.85M91.7 126.0h0.85M94.2 122.9h0.85M95.4 133.8h0.85M91.2 122.1h0.85M93.1 120.1h0.85M89.0 130.4h0.85M93.2 134.8h0.85M91.6 116.4h0.85M91.2 123.2h0.85M95.1 134.7h0.85M91.5 128.4h0.85M90.3 114.4h0.85M90.0 127.4h0.85M94.3 114.4h0.85M92.5 130.7h0.85M94.6 121.7h0.85M92.9 120.3h0.85M110.1 168.5h0.85M113.0 147.9h0.85M110.0 138.5h0.85M108.7 123.4h0.85M110.2 104.3h0.85M109.9 124.4h0.85M112.5 120.4h0.85M109.2 138.0h0.85M103.7 179.4h0.85M109.8 109.5h0.85M109.1 99.3h0.85M110.1 125.3h0.85M108.5 135.2h0.85M111.2 108.7h0.85M111.9 123.7h0.85M107.6 154.2h0.85M109.3 118.8h0.85M112.6 124.0h0.85M110.0 133.9h0.85M107.0 172.1h0.85M113.7 165.9h0.85M109.7 152.9h0.85M111.1 126.8h0.85M110.4 137.1h0.85M104.1 156.8h0.85M109.0 132.4h0.85M112.2 102.7h0.85M108.7 174.8h0.85M109.2 182.1h0.85M122.1 126.5h0.85M123.2 138.6h0.85M120.1 164.5h0.85M123.4 190.3h0.85M122.3 141.6h0.85M118.0 155.9h0.85M119.2 148.1h0.85M124.7 135.4h0.85M119.4 114.6h0.85M119.5 168.0h0.85M124.0 128.3h0.85M120.1 185.3h0.85M123.9 166.5h0.85M121.4 174.7h0.85M120.1 172.7h0.85M118.1 149.8h0.85M119.9 160.4h0.85M119.3 189.9h0.85M125.4 133.2h0.85M119.3 150.8h0.85M122.7 120.6h0.85M122.2 159.0h0.85M120.3 133.0h0.85M120.9 185.8h0.85M119.5 144.0h0.85M123.7 150.4h0.85M123.5 144.1h0.85M124.3 113.5h0.85M121.0 122.4h0.85M117.8 127.6h0.85M119.9 122.1h0.85M125.6 131.5h0.85M126.1 140.2h0.85M122.3 137.4h0.85M119.6 121.5h0.85M124.2 159.3h0.85M125.1 158.8h0.85M119.6 188.8h0.85M120.2 177.9h0.85M118.1 157.2h0.85M118.1 160.9h0.85M123.7 182.2h0.85M125.7 184.4h0.85M119.7 172.0h0.85M123.4 117.7h0.85M117.4 155.8h0.85M121.5 123.5h0.85M123.2 118.2h0.85M121.0 130.0h0.85M123.7 126.6h0.85M121.5 134.8h0.85M119.4 184.6h0.85M117.8 183.2h0.85M117.3 154.5h0.85M126.2 183.1h0.85M120.6 145.8h0.85M118.7 130.9h0.85M119.9 165.6h0.85M128.3 109.3h0.85M141.6 123.2h0.85M142.6 162.6h0.85M129.4 156.5h0.85M135.1 155.7h0.85M134.2 135.2h0.85M133.4 181.4h0.85M133.4 125.3h0.85M133.4 166.5h0.85M132.6 143.9h0.85M132.0 171.2h0.85M141.9 124.3h0.85M138.4 177.6h0.85M128.4 127.0h0.85M136.9 128.8h0.85M133.9 138.7h0.85M133.8 181.8h0.85M134.2 125.2h0.85M141.7 135.8h0.85M133.3 115.5h0.85M138.8 149.3h0.85M139.4 147.0h0.85M133.5 160.9h0.85M131.1 171.4h0.85M130.7 186.6h0.85M141.8 177.5h0.85M133.4 123.1h0.85M131.7 125.4h0.85M128.7 132.1h0.85M132.0 168.5h0.85M130.9 150.3h0.85M128.7 171.3h0.85M128.6 189.1h0.85M142.2 122.9h0.85M134.0 144.8h0.85M138.8 147.2h0.85M128.8 179.5h0.85M133.7 150.7h0.85M135.2 188.5h0.85M135.8 173.6h0.85M134.1 179.5h0.85M128.2 138.0h0.85M132.3 158.2h0.85M149.2 147.1h0.85M147.6 156.7h0.85M146.7 130.8h0.85M152.1 109.1h0.85M145.0 164.4h0.85M151.1 111.9h0.85M147.5 119.3h0.85M153.3 129.2h0.85M144.2 168.3h0.85M151.3 114.0h0.85M147.6 123.6h0.85M146.8 151.3h0.85M147.0 177.1h0.85M145.3 133.2h0.85M154.2 110.2h0.85M151.6 106.7h0.85M146.5 169.4h0.85M144.4 131.1h0.85M147.9 169.0h0.85M145.7 152.9h0.85M147.8 169.7h0.85M157.0 112.4h0.85M150.9 174.1h0.85M151.0 103.0h0.85M151.9 151.9h0.85M151.9 121.7h0.85M146.5 157.8h0.85M146.4 152.7h0.85M145.8 160.6h0.85M155.4 156.9h0.85M151.3 162.0h0.85M147.1 117.2h0.85M152.1 142.4h0.85M150.2 136.3h0.85M148.3 160.6h0.85M153.4 108.1h0.85M151.5 154.3h0.85M147.1 140.2h0.85M143.4 170.9h0.85M147.9 138.3h0.85M150.1 138.1h0.85M152.9 104.1h0.85M148.8 175.1h0.85M151.6 176.9h0.85M154.3 126.4h0.85M154.8 107.7h0.85M153.2 178.0h0.85M152.4 135.4h0.85M153.0 140.7h0.85M151.1 154.0h0.85M147.2 173.9h0.85M147.4 131.2h0.85M154.7 126.1h0.85M154.1 159.2h0.85M154.3 103.7h0.85M153.0 129.7h0.85M145.7 103.0h0.85M144.7 110.1h0.85M146.7 176.1h0.85M152.5 141.0h0.85M155.1 108.3h0.85M147.9 139.2h0.85M145.3 170.1h0.85M137.2 190.6h0.85M125.2 187.8h0.85M140.0 174.4h0.85M117.5 179.0h0.85M122.2 172.0h0.85M120.7 167.8h0.85M114.7 172.1h0.85M133.2 176.6h0.85M136.5 177.7h0.85M111.8 181.9h0.85M114.1 167.7h0.85M125.6 162.2h0.85M139.0 166.8h0.85M124.6 179.1h0.85M125.3 188.1h0.85M114.6 171.6h0.85M118.2 170.6h0.85M107.5 178.2h0.85M122.5 161.4h0.85M105.8 186.6h0.85M122.5 192.4h0.85M123.8 188.2h0.85M115.6 176.1h0.85M138.4 176.7h0.85M106.1 159.0h0.85M136.6 187.5h0.85M124.9 166.6h0.85M119.4 164.2h0.85M139.4 158.8h0.85M138.4 182.6h0.85M133.5 171.8h0.85M128.3 164.8h0.85M132.1 170.6h0.85M140.2 163.0h0.85M118.8 173.6h0.85M106.9 161.3h0.85M181.8 99.3h0.85M162.8 114.7h0.85M184.5 134.9h0.85M188.4 98.3h0.85M181.4 136.5h0.85M183.9 121.3h0.85M168.6 139.3h0.85M161.5 123.0h0.85M164.3 109.0h0.85M190.8 108.1h0.85M161.6 140.2h0.85M186.9 123.4h0.85M185.7 118.5h0.85M163.4 100.3h0.85M161.3 96.2h0.85M178.2 127.4h0.85M161.1 138.8h0.85M160.6 89.9h0.85M189.1 134.7h0.85M186.4 132.4h0.85M163.5 115.2h0.85M161.4 88.6h0.85M164.4 121.9h0.85M162.8 113.3h0.85M181.4 125.0h0.85M161.8 104.9h0.85M169.8 111.2h0.85M161.5 128.0h0.85M165.4 128.6h0.85M164.0 122.9h0.85M180.2 130.1h0.85M170.1 110.8h0.85M172.5 122.8h0.85M167.4 134.7h0.85M160.8 98.6h0.85M183.8 96.2h0.85M182.6 91.6h0.85M182.6 89.6h0.85M178.3 141.2h0.85M170.2 130.7h0.85M165.0 134.3h0.85M166.8 130.6h0.85M163.7 115.6h0.85M172.6 106.6h0.85M164.8 139.4h0.85M161.5 89.1h0.85M164.4 129.7h0.85" stroke="#6e89ba" stroke-width="0.85" fill="none"/>
<path d="M89.7 131.8h0.85M89.6 112.4h0.85M90.8 116.2h0.85M91.3 110.2h0.85M92.0 127.6h0.85M87.9 107.9h0.85M93.3 134.3h0.85M94.5 118.7h0.85M95.7 119.1h0.85M90.4 109.1h0.85M88.7 123.4h0.85M92.2 131.3h0.85M96.8 125.0h0.85M94.4 117.1h0.85M91.8 124.9h0.85M91.6 130.0h0.85M92.2 123.1h0.85M91.9 134.8h0.85M93.1 126.5h0.85M95.1 115.0h0.85M90.1 122.1h0.85M111.5 140.3h0.85M111.0 132.7h0.85M108.5 124.2h0.85M110.1 174.2h0.85M105.1 134.0h0.85M112.5 158.5h0.85M106.9 125.3h0.85M112.1 93.9h0.85M111.6 144.0h0.85M113.5 124.5h0.85M108.9 125.2h0.85M110.9 172.7h0.85M111.1 153.3h0.85M112.9 151.0h0.85M110.1 137.5h0.85M112.4 101.3h0.85M104.7 133.5h0.85M111.5 152.7h0.85M114.1 166.4h0.85M113.7 174.5h0.85M109.9 118.5h0.85M104.0 118.2h0.85M104.0 153.1h0.85M110.8 165.5h0.85M108.4 154.7h0.85M106.4 122.4h0.85M109.4 115.0h0.85M110.3 101.6h0.85M112.2 117.9h0.85M110.6 167.2h0.85M109.8 101.4h0.85M109.0 96.0h0.85M109.8 125.2h0.85M104.7 175.3h0.85M123.1 188.0h0.85M121.6 137.7h0.85M125.5 148.8h0.85M120.0 161.6h0.85M119.0 182.1h0.85M119.2 155.1h0.85M125.1 132.9h0.85M122.8 143.6h0.85M119.1 136.0h0.85M126.4 167.6h0.85M117.8 135.8h0.85M122.9 178.0h0.85M121.5 190.6h0.85M119.1 157.4h0.85M119.2 124.4h0.85M124.1 166.3h0.85M119.2 178.6h0.85M125.3 123.5h0.85M122.5 190.7h0.85M118.1 144.0h0.85M120.5 162.8h0.85M123.4 164.0h0.85M125.1 180.0h0.85M120.4 145.2h0.85M117.7 127.6h0.85M118.6 130.0h0.85M118.8 180.2h0.85M122.5 131.3h0.85M118.2 181.1h0.85M122.6 160.1h0.85M123.5 174.6h0.85M120.8 185.0h0.85M122.0 139.1h0.85M119.7 141.5h0.85M117.2 182.7h0.85M118.4 181.6h0.85M120.1 154.4h0.85M119.3 151.9h0.85M123.4 185.3h0.85M125.0 152.8h0.85M121.4 133.9h0.85M117.7 190.1h0.85M124.6 143.4h0.85M118.2 151.9h0.85M120.9 165.2h0.85M124.3 114.5h0.85M121.4 175.8h0.85M119.6 187.2h0.85M119.1 131.6h0.85M121.7 118.3h0.85M122.1 175.7h0.85M123.8 182.7h0.85M120.4 187.8h0.85M123.8 145.7h0.85M122.7 165.3h0.85M124.4 185.4h0.85M119.9 141.8h0.85M122.1 170.1h0.85M125.2 168.8h0.85M120.5 182.8h0.85M120.2 174.5h0.85M121.6 183.0h0.85M128.5 116.1h0.85M133.6 160.1h0.85M131.1 139.0h0.85M128.5 148.8h0.85M132.1 155.8h0.85M132.5 137.6h0.85M140.7 133.5h0.85M132.8 186.8h0.85M142.4 121.1h0.85M130.3 157.4h0.85M133.6 169.5h0.85M134.4 189.2h0.85M133.6 183.7h0.85M129.8 181.4h0.85M141.4 154.7h0.85M140.5 114.4h0.85M141.0 154.8h0.85M132.1 127.9h0.85M132.5 120.1h0.85M130.6 180.4h0.85M134.3 131.4h0.85M129.1 147.1h0.85M132.7 154.1h0.85M132.1 142.1h0.85M132.0 180.4h0.85M132.8 126.6h0.85M128.7 146.7h0.85M140.5 163.9h0.85M132.1 167.2h0.85M129.1 115.1h0.85M134.8 184.0h0.85M134.1 188.3h0.85M134.1 159.2h0.85M138.9 172.8h0.85M132.9 168.4h0.85M142.9 137.6h0.85M134.4 147.2h0.85M145.2 129.7h0.85M145.2 122.1h0.85M144.3 116.3h0.85M146.5 138.5h0.85M147.3 132.9h0.85M146.4 129.8h0.85M148.7 168.7h0.85M152.7 112.0h0.85M152.9 156.7h0.85M142.5 135.0h0.85M144.1 164.6h0.85M147.4 113.1h0.85M152.6 157.5h0.85M145.7 170.8h0.85M146.5 161.9h0.85M147.4 157.9h0.85M146.5 176.5h0.85M146.8 177.1h0.85M145.8 131.1h0.85M155.0 115.0h0.85M154.9 123.2h0.85M151.1 163.7h0.85M152.2 173.3h0.85M144.7 119.5h0.85M143.9 134.2h0.85M145.3 132.2h0.85M146.7 112.5h0.85M154.1 154.0h0.85M146.5 112.5h0.85M148.1 162.0h0.85M145.1 108.2h0.85M145.8 121.5h0.85M151.6 158.2h0.85M155.0 163.4h0.85M153.9 107.8h0.85M150.8 162.3h0.85M146.3 126.3h0.85M146.3 116.1h0.85M145.2 161.4h0.85M144.4 132.3h0.85M145.5 106.6h0.85M145.2 115.4h0.85M151.0 151.8h0.85M147.4 139.4h0.85M153.2 142.4h0.85M149.6 119.3h0.85M148.0 165.2h0.85M147.6 164.9h0.85M144.3 160.6h0.85M144.7 134.8h0.85M153.0 173.6h0.85M155.5 126.2h0.85M146.5 125.8h0.85M148.3 175.5h0.85M151.8 101.2h0.85M146.4 158.0h0.85M146.8 120.6h0.85M147.8 112.7h0.85M144.9 103.2h0.85M145.9 174.0h0.85M143.7 148.9h0.85M145.9 106.7h0.85M152.2 106.7h0.85M146.8 155.1h0.85M152.9 109.2h0.85M148.3 126.9h0.85M145.9 147.8h0.85M132.0 168.0h0.85M140.3 178.6h0.85M123.0 164.1h0.85M125.2 185.7h0.85M105.0 189.4h0.85M140.3 158.6h0.85M127.0 182.1h0.85M125.5 171.2h0.85M114.9 164.1h0.85M120.5 188.3h0.85M139.4 183.5h0.85M139.3 176.5h0.85M111.3 166.8h0.85M122.5 180.9h0.85M110.1 189.6h0.85M121.7 166.2h0.85M129.4 170.3h0.85M140.6 171.7h0.85M118.4 190.2h0.85M110.8 192.4h0.85M106.9 161.4h0.85M126.1 162.4h0.85M116.4 183.9h0.85M123.4 185.9h0.85M106.4 174.6h0.85M121.0 187.7h0.85M113.1 189.2h0.85M120.2 164.6h0.85M122.5 166.5h0.85M121.3 172.5h0.85M105.3 190.6h0.85M112.4 170.2h0.85M128.4 176.4h0.85M119.9 179.1h0.85M113.5 174.9h0.85M104.9 178.6h0.85M129.6 179.0h0.85M106.9 181.8h0.85M126.1 168.2h0.85M176.8 179.2h0.85M176.6 171.5h0.85M176.8 165.9h0.85M176.6 176.7h0.85M176.7 166.9h0.85M178.5 153.0h0.85M196.4 121.4h0.85M195.7 151.9h0.85M196.4 144.5h0.85M195.2 129.7h0.85M195.9 138.1h0.85M196.5 121.7h0.85M195.2 120.2h0.85M151.9 137.8h0.85M160.1 125.4h0.85M143.3 116.5h0.85M159.6 132.7h0.85M149.0 137.4h0.85M158.1 112.2h0.85M153.2 121.7h0.85M148.2 126.7h0.85M148.1 124.2h0.85M144.4 131.4h0.85M150.5 114.5h0.85M158.8 108.4h0.85M159.1 100.3h0.85M159.1 117.7h0.85M148.3 111.8h0.85M144.5 101.0h0.85M156.9 125.2h0.85M153.1 102.3h0.85M148.1 138.8h0.85M155.6 131.9h0.85M160.1 101.8h0.85M159.3 124.8h0.85M151.8 131.3h0.85M161.2 122.0h0.85M158.5 116.6h0.85M159.4 121.1h0.85M161.2 136.0h0.85M173.6 115.6h0.85M181.7 95.6h0.85M173.3 114.1h0.85M178.2 124.7h0.85M171.8 130.5h0.85M162.5 138.6h0.85M164.4 112.7h0.85M164.4 112.2h0.85M166.3 118.0h0.85M189.9 126.4h0.85M170.1 128.3h0.85M188.8 106.1h0.85M170.2 107.6h0.85M191.5 95.0h0.85M180.5 123.0h0.85M164.1 108.7h0.85M175.7 125.8h0.85M172.5 132.8h0.85M162.6 105.6h0.85M178.5 128.0h0.85M166.1 137.0h0.85M179.5 129.3h0.85M162.0 134.1h0.85M178.4 125.7h0.85M163.5 104.5h0.85M160.5 108.0h0.85M190.7 110.6h0.85M169.2 130.2h0.85M178.7 101.2h0.85M163.0 101.9h0.85M160.8 119.4h0.85M164.6 95.9h0.85M178.1 125.7h0.85M184.0 109.9h0.85M177.3 124.0h0.85M181.8 129.8h0.85M189.5 134.0h0.85M161.5 141.8h0.85M189.0 123.0h0.85M165.0 117.9h0.85M166.1 135.1h0.85M180.2 133.3h0.85M171.7 130.1h0.85M160.4 118.7h0.85M188.3 115.2h0.85" stroke="#7b94c6" stroke-width="0.85" fill="none"/>
<path d="M89.2 109.7h0.85M89.6 122.4h0.85M91.5 120.6h0.85M92.7 123.6h0.85M92.5 122.7h0.85M92.3 135.6h0.85M89.4 121.6h0.85M92.4 129.2h0.85M94.5 121.7h0.85M95.6 107.3h0.85M95.8 122.3h0.85M92.1 127.4h0.85M92.1 130.8h0.85M88.7 116.1h0.85M109.2 139.1h0.85M108.2 139.2h0.85M103.8 157.3h0.85M105.9 167.8h0.85M108.7 150.6h0.85M111.8 176.0h0.85M109.2 149.5h0.85M110.8 177.6h0.85M109.2 124.7h0.85M111.2 96.8h0.85M110.4 180.6h0.85M110.9 151.9h0.85M109.9 104.7h0.85M111.4 131.3h0.85M109.5 111.3h0.85M111.3 142.9h0.85M111.3 168.9h0.85M111.1 155.6h0.85M110.4 134.6h0.85M108.2 136.7h0.85M110.1 163.4h0.85M111.8 135.6h0.85M110.3 118.0h0.85M111.5 181.2h0.85M109.3 139.3h0.85M112.0 150.6h0.85M112.3 108.3h0.85M108.1 162.5h0.85M112.2 162.3h0.85M109.3 116.2h0.85M111.9 156.7h0.85M110.9 154.6h0.85M109.1 120.4h0.85M113.5 97.5h0.85M111.4 130.9h0.85M104.2 161.3h0.85M106.7 140.5h0.85M118.3 111.4h0.85M125.2 176.6h0.85M117.7 158.2h0.85M122.0 151.8h0.85M121.8 139.9h0.85M126.5 170.3h0.85M118.1 144.8h0.85M123.6 161.0h0.85M117.3 160.1h0.85M117.2 192.5h0.85M121.6 152.7h0.85M125.2 136.0h0.85M118.3 139.2h0.85M118.7 186.7h0.85M119.6 184.5h0.85M120.9 123.3h0.85M124.4 115.9h0.85M119.5 165.9h0.85M124.1 137.8h0.85M118.4 160.5h0.85M118.6 163.1h0.85M118.7 136.2h0.85M121.1 111.1h0.85M119.5 177.3h0.85M116.0 132.4h0.85M119.8 182.1h0.85M126.5 149.7h0.85M120.2 152.9h0.85M118.2 127.4h0.85M124.0 189.3h0.85M119.8 167.8h0.85M121.1 161.1h0.85M122.8 133.5h0.85M122.7 157.7h0.85M121.2 114.4h0.85M120.2 187.7h0.85M123.9 164.6h0.85M119.7 136.7h0.85M121.5 134.2h0.85M125.4 166.0h0.85M122.0 116.2h0.85M125.4 139.2h0.85M120.4 157.0h0.85M122.5 162.8h0.85M119.7 151.3h0.85M124.8 156.6h0.85M118.4 152.5h0.85M123.0 156.7h0.85M118.2 190.7h0.85M121.6 161.7h0.85M119.4 170.7h0.85M125.4 128.7h0.85M120.6 170.5h0.85M124.9 153.2h0.85M121.9 155.1h0.85M125.7 121.8h0.85M119.7 133.7h0.85M124.7 119.7h0.85M128.8 175.5h0.85M140.8 163.8h0.85M133.5 184.2h0.85M133.8 149.4h0.85M135.4 188.9h0.85M136.8 161.1h0.85M129.0 188.2h0.85M132.8 117.8h0.85M134.2 178.8h0.85M131.4 140.5h0.85M133.8 153.5h0.85M134.5 149.4h0.85M128.7 132.2h0.85M129.5 111.0h0.85M128.4 150.0h0.85M128.6 182.8h0.85M129.4 134.6h0.85M128.8 171.8h0.85M141.1 156.5h0.85M129.1 107.6h0.85M133.1 177.1h0.85M133.4 145.9h0.85M134.4 177.5h0.85M128.4 165.1h0.85M143.2 168.4h0.85M129.1 146.6h0.85M136.2 112.2h0.85M129.9 161.3h0.85M139.1 167.8h0.85M140.2 159.9h0.85M132.8 179.4h0.85M134.8 134.3h0.85M136.1 162.9h0.85M131.2 147.4h0.85M134.3 180.6h0.85M140.9 172.4h0.85M133.2 126.5h0.85M139.5 184.0h0.85M132.3 184.0h0.85M131.6 141.6h0.85M139.9 134.5h0.85M133.1 111.6h0.85M132.5 150.8h0.85M128.3 163.7h0.85M133.9 171.8h0.85M139.8 138.1h0.85M127.6 134.9h0.85M144.2 147.6h0.85M146.4 167.2h0.85M151.8 142.4h0.85M145.2 134.1h0.85M152.1 116.3h0.85M153.7 100.2h0.85M147.6 124.9h0.85M151.6 105.7h0.85M148.3 130.0h0.85M152.6 128.3h0.85M151.1 122.5h0.85M148.0 136.9h0.85M153.2 155.8h0.85M151.8 167.8h0.85M151.4 140.6h0.85M148.0 132.1h0.85M147.1 171.9h0.85M145.9 137.9h0.85M148.2 154.4h0.85M147.1 154.2h0.85M145.4 101.5h0.85M144.2 141.8h0.85M144.6 112.5h0.85M151.8 175.3h0.85M153.6 122.0h0.85M147.5 163.9h0.85M152.4 138.9h0.85M146.4 109.8h0.85M151.0 141.3h0.85M146.4 163.4h0.85M153.9 144.6h0.85M153.5 116.3h0.85M150.6 180.0h0.85M147.4 177.9h0.85M155.7 144.3h0.85M146.1 165.3h0.85M153.9 102.0h0.85M146.6 143.5h0.85M151.3 111.9h0.85M148.6 164.4h0.85M146.4 151.9h0.85M152.7 176.4h0.85M145.8 140.9h0.85M145.3 153.4h0.85M146.1 117.5h0.85M147.8 163.0h0.85M145.0 158.1h0.85M146.5 134.5h0.85M152.2 142.3h0.85M149.6 158.0h0.85M144.4 134.0h0.85M148.2 143.5h0.85M154.8 117.0h0.85M145.9 162.8h0.85M151.4 154.9h0.85M153.3 146.4h0.85M149.0 103.2h0.85M147.0 122.0h0.85M146.2 165.0h0.85M146.3 158.2h0.85M155.2 138.6h0.85M154.4 173.8h0.85M151.3 167.0h0.85M145.3 106.4h0.85M152.2 136.6h0.85M144.3 121.1h0.85M153.4 134.7h0.85M150.6 174.1h0.85M154.7 120.3h0.85M151.8 135.9h0.85M146.8 129.3h0.85M147.7 170.5h0.85M126.2 167.7h0.85M140.2 177.1h0.85M111.2 174.9h0.85M128.9 180.8h0.85M121.8 180.7h0.85M113.3 182.4h0.85M139.0 172.5h0.85M131.7 183.5h0.85M128.5 179.4h0.85M128.3 192.5h0.85M105.2 183.2h0.85M121.1 175.5h0.85M115.2 167.4h0.85M118.2 177.1h0.85M128.8 162.4h0.85M116.3 163.4h0.85M115.5 173.2h0.85M133.6 172.5h0.85M126.8 182.4h0.85M138.8 168.2h0.85M105.2 163.8h0.85M110.6 160.3h0.85M130.9 168.2h0.85M125.7 166.2h0.85M126.9 176.4h0.85M126.4 175.9h0.85M126.0 165.3h0.85M107.6 169.8h0.85M125.4 160.4h0.85M105.0 176.8h0.85M123.8 186.3h0.85M121.2 179.5h0.85M105.7 188.8h0.85M107.7 187.3h0.85M119.3 189.7h0.85M104.8 175.5h0.85M132.5 162.4h0.85M107.6 181.8h0.85M178.0 158.5h0.85M179.1 159.6h0.85M176.6 174.6h0.85M178.0 166.1h0.85M177.9 168.0h0.85M177.6 164.3h0.85M177.7 152.1h0.85M176.6 166.6h0.85M177.6 170.6h0.85M197.0 119.9h0.85M196.1 138.7h0.85M197.1 129.3h0.85M196.4 129.5h0.85M196.7 135.0h0.85M195.0 143.3h0.85M195.8 143.1h0.85M195.4 151.9h0.85M194.6 125.6h0.85M158.5 139.0h0.85M159.8 101.4h0.85M156.3 125.9h0.85M149.7 124.4h0.85M151.7 136.6h0.85M157.2 133.4h0.85M153.0 112.7h0.85M151.9 130.1h0.85M157.1 114.7h0.85M152.5 126.6h0.85M144.2 111.5h0.85M146.7 90.3h0.85M155.2 120.4h0.85M159.0 126.3h0.85M148.6 137.2h0.85M149.2 133.5h0.85M151.4 110.8h0.85M157.1 129.3h0.85M159.2 131.6h0.85M148.0 109.7h0.85M146.9 106.3h0.85M142.6 124.3h0.85M160.0 120.2h0.85M161.2 137.3h0.85M159.7 99.9h0.85M147.3 109.8h0.85M181.0 84.5h0.85M177.5 89.1h0.85M178.2 119.9h0.85M162.5 127.0h0.85M181.6 138.9h0.85M189.8 125.0h0.85M190.9 110.0h0.85M160.9 123.9h0.85M168.9 126.6h0.85M180.3 97.5h0.85M170.0 100.6h0.85M181.9 107.8h0.85M169.0 134.8h0.85M165.0 119.1h0.85M169.8 138.7h0.85M170.1 123.3h0.85M163.5 126.7h0.85M173.2 117.6h0.85M187.8 134.9h0.85M174.3 87.3h0.85M181.6 92.4h0.85M167.0 134.1h0.85M163.5 111.9h0.85M173.4 106.6h0.85M176.6 113.7h0.85M173.7 108.0h0.85M170.4 117.8h0.85M183.6 115.9h0.85M174.3 110.3h0.85M181.3 123.2h0.85M175.6 111.3h0.85M189.9 103.9h0.85M184.3 138.8h0.85M184.6 101.3h0.85M162.5 126.3h0.85M163.5 135.2h0.85M178.4 99.3h0.85M162.6 131.7h0.85M177.2 114.1h0.85M181.2 102.2h0.85M162.5 122.9h0.85M188.1 134.0h0.85" stroke="#7088be" stroke-width="0.85" fill="none"/>
<path d="M110.0 124.7h0.85M103.5 122.2h0.85M111.0 137.6h0.85M107.5 163.7h0.85M104.8 120.5h0.85M109.0 177.7h0.85M110.2 155.0h0.85M110.5 180.6h0.85M113.4 106.6h0.85M109.3 109.2h0.85M109.7 110.3h0.85M109.1 171.8h0.85M106.9 101.4h0.85M111.1 113.3h0.85M110.8 112.3h0.85M111.8 125.8h0.85M105.9 174.0h0.85M109.5 112.3h0.85M109.1 150.0h0.85M111.0 165.4h0.85M111.2 107.4h0.85M109.9 180.5h0.85M111.2 99.0h0.85M109.0 171.0h0.85M109.8 179.0h0.85M111.2 94.5h0.85M111.4 96.4h0.85M109.5 117.6h0.85M112.5 131.3h0.85M110.2 116.4h0.85M110.1 133.6h0.85M110.3 95.9h0.85M105.0 141.5h0.85M110.8 178.1h0.85M104.2 134.1h0.85M107.5 142.1h0.85M109.4 157.0h0.85M112.2 123.3h0.85M110.5 169.8h0.85M111.8 112.5h0.85M129.8 191.7h0.85M141.6 134.4h0.85M131.3 160.3h0.85M141.7 113.6h0.85M140.6 140.2h0.85M133.4 151.2h0.85M138.2 157.3h0.85M134.2 153.5h0.85M132.4 147.7h0.85M131.7 131.6h0.85M132.6 136.9h0.85M143.3 174.2h0.85M130.5 166.3h0.85M133.4 157.6h0.85M134.0 114.9h0.85M134.4 179.2h0.85M137.6 129.4h0.85M133.5 168.7h0.85M129.2 180.0h0.85M132.5 130.5h0.85M136.5 183.0h0.85M141.1 118.5h0.85M127.7 114.4h0.85M133.2 111.5h0.85M134.9 187.6h0.85M133.1 139.0h0.85M130.4 171.6h0.85M141.3 106.6h0.85M138.7 162.4h0.85M133.6 124.1h0.85M140.5 139.7h0.85M129.8 123.8h0.85M132.4 168.2h0.85M129.9 163.2h0.85M138.4 174.8h0.85M132.8 176.9h0.85M128.4 140.3h0.85M134.4 147.1h0.85M139.2 107.3h0.85M140.6 161.9h0.85M129.8 127.0h0.85M131.6 112.9h0.85M141.2 154.6h0.85M134.0 112.1h0.85M140.9 146.3h0.85M133.0 122.6h0.85M135.1 168.2h0.85M130.4 144.4h0.85M139.6 174.5h0.85M138.7 164.5h0.85M133.4 154.8h0.85M132.0 118.7h0.85M130.2 122.0h0.85M133.2 142.3h0.85M126.5 162.9h0.85M120.3 165.7h0.85M119.0 191.4h0.85M126.8 160.9h0.85M137.1 161.2h0.85M123.8 189.2h0.85M106.8 162.2h0.85M137.2 161.1h0.85M140.1 167.4h0.85M121.2 162.9h0.85M111.6 171.2h0.85M122.0 186.8h0.85M122.3 171.9h0.85M139.4 173.8h0.85M124.6 167.9h0.85M122.4 186.2h0.85M127.1 168.3h0.85M122.6 177.4h0.85M113.6 163.3h0.85M140.7 172.4h0.85M131.4 166.6h0.85M122.2 163.6h0.85M138.9 162.8h0.85M127.9 176.6h0.85M140.8 181.4h0.85M126.3 161.2h0.85M125.7 162.8h0.85M105.4 160.3h0.85M133.7 186.9h0.85M126.5 162.5h0.85M111.3 165.8h0.85M139.7 191.2h0.85M107.3 189.5h0.85M111.4 177.5h0.85M130.0 191.1h0.85M110.0 161.3h0.85M139.3 189.1h0.85M124.6 172.0h0.85M111.4 168.9h0.85M149.4 118.7h0.85M142.8 102.9h0.85M158.4 102.2h0.85M152.6 117.3h0.85M158.9 117.9h0.85M152.5 137.8h0.85M160.8 103.0h0.85M143.5 124.2h0.85M153.4 122.4h0.85M151.2 141.0h0.85M143.6 137.5h0.85M159.0 121.1h0.85M149.9 94.8h0.85M153.5 102.5h0.85M160.0 118.9h0.85M149.0 118.9h0.85M157.6 124.8h0.85M158.3 136.9h0.85M156.7 131.5h0.85M145.2 133.4h0.85M151.5 113.5h0.85M147.9 127.5h0.85M151.4 122.4h0.85M159.6 133.0h0.85M158.0 97.0h0.85M179.9 103.2h0.85M163.8 124.2h0.85M173.2 106.4h0.85M172.9 119.2h0.85M170.7 135.0h0.85M173.1 103.6h0.85M164.2 93.7h0.85M162.2 103.9h0.85M165.6 115.5h0.85M164.0 112.4h0.85M179.5 128.3h0.85M170.5 114.4h0.85M164.7 88.0h0.85M171.5 129.5h0.85M182.0 137.1h0.85M164.6 116.8h0.85M187.6 83.5h0.85M186.7 118.5h0.85M169.8 134.4h0.85M162.4 122.0h0.85M163.8 120.9h0.85M180.5 113.5h0.85M177.9 122.0h0.85M186.3 116.4h0.85M161.7 141.0h0.85M177.8 135.7h0.85M190.4 95.1h0.85M162.9 132.2h0.85M162.6 103.5h0.85M180.3 124.8h0.85M181.3 100.0h0.85M170.1 133.6h0.85M163.3 126.1h0.85M175.8 97.2h0.85M165.9 105.8h0.85M167.7 138.4h0.85M182.3 138.2h0.85M187.1 127.3h0.85M162.5 133.6h0.85M189.6 93.8h0.85M160.4 109.0h0.85M162.0 114.5h0.85M191.7 132.5h0.85M181.2 113.7h0.85M162.5 139.1h0.85M175.6 96.2h0.85M170.6 111.7h0.85M179.5 137.6h0.85M169.4 135.5h0.85M160.8 124.1h0.85" stroke="#c0cce4" stroke-width="0.85" fill="none"/>
<path d="M110.7 95.1h0.85M104.1 96.2h0.85M110.7 119.7h0.85M112.0 97.5h0.85M110.6 102.2h0.85M110.6 112.1h0.85M105.9 101.4h0.85M110.2 169.1h0.85M110.9 149.9h0.85M112.6 153.7h0.85M110.2 106.9h0.85M112.2 101.9h0.85M105.5 123.3h0.85M104.0 148.6h0.85M110.3 145.2h0.85M112.0 161.9h0.85M110.4 127.2h0.85M110.1 163.4h0.85M109.7 140.9h0.85M109.5 112.8h0.85M111.2 149.7h0.85M112.3 161.4h0.85M110.3 148.4h0.85M112.8 145.5h0.85M112.4 152.4h0.85M109.8 134.3h0.85M109.1 134.8h0.85M111.2 95.2h0.85M113.2 155.2h0.85M112.3 131.3h0.85M103.9 148.4h0.85M109.4 105.3h0.85M112.9 175.3h0.85M108.6 173.1h0.85M110.4 140.3h0.85M112.2 126.0h0.85M111.0 96.7h0.85M112.5 173.1h0.85M107.7 99.9h0.85M111.0 148.3h0.85M110.1 179.2h0.85M105.9 131.0h0.85M110.1 178.7h0.85M109.2 172.5h0.85M111.1 94.3h0.85M106.1 101.7h0.85M106.0 164.2h0.85M111.5 147.3h0.85M111.5 95.6h0.85M109.6 98.3h0.85M113.1 105.4h0.85M108.0 133.3h0.85M129.3 109.2h0.85M140.0 179.9h0.85M140.8 149.7h0.85M135.9 144.3h0.85M134.3 124.3h0.85M132.5 115.5h0.85M142.8 153.3h0.85M132.9 123.3h0.85M141.6 152.8h0.85M128.4 151.9h0.85M130.0 134.7h0.85M131.0 187.2h0.85M126.9 121.1h0.85M133.6 156.0h0.85M134.0 145.2h0.85M130.1 173.6h0.85M138.6 110.1h0.85M134.6 183.9h0.85M130.0 154.1h0.85M133.1 159.4h0.85M127.1 134.3h0.85M132.5 120.7h0.85M128.4 114.8h0.85M132.8 163.2h0.85M129.8 151.3h0.85M129.3 123.7h0.85M127.8 142.1h0.85M130.8 134.8h0.85M134.1 183.7h0.85M129.4 145.8h0.85M140.5 170.9h0.85M136.0 172.9h0.85M133.6 168.2h0.85M129.4 162.7h0.85M131.8 180.7h0.85M141.4 144.6h0.85M139.2 133.9h0.85M135.6 150.7h0.85M141.4 127.0h0.85M133.8 139.7h0.85M131.7 135.3h0.85M141.6 156.8h0.85M133.0 177.0h0.85M129.8 155.8h0.85M127.8 111.3h0.85M129.9 179.3h0.85M132.9 176.2h0.85M133.9 173.6h0.85M135.1 151.4h0.85M141.5 165.0h0.85M141.4 175.2h0.85M142.9 153.0h0.85M141.5 166.1h0.85M134.3 141.2h0.85M125.8 171.5h0.85M141.9 181.5h0.85M108.6 179.6h0.85M127.3 182.7h0.85M129.8 186.9h0.85M112.2 176.9h0.85M105.6 185.3h0.85M132.3 186.1h0.85M120.3 167.2h0.85M116.2 190.6h0.85M125.6 170.7h0.85M112.2 190.2h0.85M138.1 174.9h0.85M139.3 191.2h0.85M107.3 168.1h0.85M127.9 191.0h0.85M110.4 168.4h0.85M119.4 182.9h0.85M126.2 171.1h0.85M118.2 173.0h0.85M140.2 176.9h0.85M125.7 174.2h0.85M124.1 188.8h0.85M124.9 178.7h0.85M135.0 176.0h0.85M111.3 166.3h0.85M111.3 186.7h0.85M123.4 177.2h0.85M107.0 166.1h0.85M114.2 160.4h0.85M133.2 175.1h0.85M122.6 190.7h0.85M115.1 168.2h0.85M125.1 161.7h0.85M115.2 168.5h0.85M115.3 191.3h0.85M160.5 134.0h0.85M158.3 115.7h0.85M147.4 120.8h0.85M157.0 118.8h0.85M148.7 114.3h0.85M158.4 140.9h0.85M148.8 125.3h0.85M158.9 129.1h0.85M146.6 108.9h0.85M152.1 133.4h0.85M143.2 123.6h0.85M155.5 97.7h0.85M153.3 108.3h0.85M152.7 136.2h0.85M160.3 130.2h0.85M158.9 128.8h0.85M148.5 91.5h0.85M149.4 137.0h0.85M148.8 125.7h0.85M158.4 111.0h0.85M158.7 91.7h0.85M158.2 129.3h0.85M159.5 138.7h0.85M159.5 114.5h0.85M151.7 116.3h0.85M145.5 126.4h0.85M142.3 130.6h0.85M153.1 117.2h0.85M147.3 110.7h0.85M143.6 139.3h0.85M146.5 102.3h0.85M141.9 129.9h0.85M180.4 93.0h0.85M181.6 97.4h0.85M180.4 133.3h0.85M161.7 113.7h0.85M170.1 134.0h0.85M162.7 104.3h0.85M163.8 103.9h0.85M171.0 98.2h0.85M162.4 137.9h0.85M179.1 137.7h0.85M188.8 117.6h0.85M159.4 140.8h0.85M161.2 114.5h0.85M173.4 133.6h0.85M179.7 107.2h0.85M165.3 103.2h0.85M176.3 136.6h0.85M163.8 88.8h0.85M161.7 112.7h0.85M170.7 133.7h0.85M183.3 102.1h0.85M178.8 100.7h0.85M180.3 121.9h0.85M161.7 90.0h0.85M161.9 104.5h0.85M186.4 129.3h0.85M181.8 135.5h0.85M185.0 133.2h0.85M165.5 120.8h0.85M164.0 124.5h0.85M176.0 140.9h0.85M177.6 132.7h0.85M164.4 99.7h0.85M175.1 125.0h0.85M186.2 135.0h0.85M188.1 141.6h0.85M191.0 130.1h0.85M182.2 106.6h0.85M163.7 139.6h0.85M162.8 116.4h0.85M184.9 100.1h0.85M163.8 126.0h0.85M176.3 138.3h0.85M174.9 115.7h0.85M161.5 107.4h0.85M161.2 121.1h0.85M171.9 95.5h0.85M181.1 122.7h0.85M172.2 123.1h0.85M179.8 137.4h0.85M171.1 138.3h0.85M160.1 121.6h0.85M162.0 128.2h0.85M177.1 92.6h0.85M162.4 136.6h0.85" stroke="#96aad2" stroke-width="0.85" fill="none"/>
<path d="M108.3 109.7h0.85M105.0 125.5h0.85M110.8 175.9h0.85M109.0 157.2h0.85M110.8 128.7h0.85M110.9 113.5h0.85M111.1 101.3h0.85M110.5 122.3h0.85M111.8 111.0h0.85M110.8 100.8h0.85M111.8 116.0h0.85M112.1 160.7h0.85M109.1 113.9h0.85M109.5 100.3h0.85M107.7 140.1h0.85M108.5 123.1h0.85M112.8 103.5h0.85M108.0 170.0h0.85M108.6 109.5h0.85M110.8 111.5h0.85M111.6 138.6h0.85M110.2 138.2h0.85M110.0 166.5h0.85M109.6 111.6h0.85M108.5 155.2h0.85M110.8 149.8h0.85M109.0 170.2h0.85M140.0 132.1h0.85M128.9 166.2h0.85M132.2 140.5h0.85M129.3 108.3h0.85M131.4 155.3h0.85M133.8 182.1h0.85M132.4 181.1h0.85M129.2 126.8h0.85M138.0 120.2h0.85M132.6 120.8h0.85M141.1 184.9h0.85M140.0 141.8h0.85M140.6 186.3h0.85M130.1 162.7h0.85M129.7 167.1h0.85M129.3 155.5h0.85M130.8 140.9h0.85M127.8 121.4h0.85M132.8 105.3h0.85M131.2 166.9h0.85M129.5 155.0h0.85M130.3 184.1h0.85M134.3 146.0h0.85M134.1 122.8h0.85M142.8 167.1h0.85M134.8 124.4h0.85M131.7 136.7h0.85M143.1 178.4h0.85M141.9 153.0h0.85M133.9 157.2h0.85M131.7 146.3h0.85M132.5 170.0h0.85M133.7 143.4h0.85M128.0 165.5h0.85M140.7 187.8h0.85M134.2 158.0h0.85M140.2 150.6h0.85M140.8 149.8h0.85M131.6 184.0h0.85M131.0 174.4h0.85M132.9 166.5h0.85M139.2 179.1h0.85M132.6 147.2h0.85M141.7 184.6h0.85M126.0 181.9h0.85M104.7 185.1h0.85M125.5 178.8h0.85M126.0 163.2h0.85M108.8 170.2h0.85M108.7 188.3h0.85M125.3 191.7h0.85M136.8 171.6h0.85M131.1 190.8h0.85M111.7 168.6h0.85M107.3 181.0h0.85M114.1 166.4h0.85M129.6 179.7h0.85M141.0 176.4h0.85M123.3 176.1h0.85M109.7 168.3h0.85M118.1 183.6h0.85M126.4 188.6h0.85M120.8 176.1h0.85M104.7 178.6h0.85M115.2 166.3h0.85M115.2 183.9h0.85M137.2 183.6h0.85M121.6 180.3h0.85M124.4 182.5h0.85M125.2 178.2h0.85M125.6 181.3h0.85M127.6 164.2h0.85M108.3 166.8h0.85M122.2 181.1h0.85M116.2 182.2h0.85M140.1 164.6h0.85M122.7 167.5h0.85M132.0 170.5h0.85M138.0 183.6h0.85M133.1 184.8h0.85M135.7 185.9h0.85M106.7 168.8h0.85M106.6 188.5h0.85M139.3 163.6h0.85M138.2 169.8h0.85M157.8 138.4h0.85M156.1 96.8h0.85M156.7 140.1h0.85M161.4 105.1h0.85M157.5 109.2h0.85M159.0 108.6h0.85M143.7 135.6h0.85M160.9 101.4h0.85M160.3 124.3h0.85M160.5 128.2h0.85M148.5 139.6h0.85M144.0 112.3h0.85M156.0 107.1h0.85M145.2 132.9h0.85M154.3 96.9h0.85M144.7 133.2h0.85M149.1 121.4h0.85M149.5 114.2h0.85M149.1 106.2h0.85M152.0 104.8h0.85M143.4 135.4h0.85M149.5 98.4h0.85M147.0 119.9h0.85M158.6 100.4h0.85M149.3 137.1h0.85M148.5 115.7h0.85M161.7 113.4h0.85M148.1 139.4h0.85M161.3 129.1h0.85M160.8 137.1h0.85M188.1 133.5h0.85M165.0 139.7h0.85M181.4 122.1h0.85M164.7 123.4h0.85M182.3 140.6h0.85M162.5 124.0h0.85M177.0 114.7h0.85M179.3 111.9h0.85M181.8 121.6h0.85M164.4 134.2h0.85M163.0 127.5h0.85M162.1 107.3h0.85M186.0 125.0h0.85M164.3 94.4h0.85M181.6 119.4h0.85M162.6 131.4h0.85M166.7 120.0h0.85M174.2 133.1h0.85M181.7 102.4h0.85M162.9 114.0h0.85M163.4 105.0h0.85M172.5 106.3h0.85M162.3 112.4h0.85M162.0 98.6h0.85M160.3 110.2h0.85M172.8 122.9h0.85M171.8 108.3h0.85M177.5 94.8h0.85M185.9 123.5h0.85M160.6 98.1h0.85M181.4 117.7h0.85M171.2 135.8h0.85M191.8 119.5h0.85M163.1 108.4h0.85M161.1 133.4h0.85M190.1 140.8h0.85M187.9 114.7h0.85M169.8 130.3h0.85M182.6 137.4h0.85M163.8 134.0h0.85M163.3 115.9h0.85M165.2 140.5h0.85M182.6 108.6h0.85M174.3 120.4h0.85M162.9 134.6h0.85M185.6 102.0h0.85M188.3 125.9h0.85M171.9 134.1h0.85M180.7 105.8h0.85M187.1 119.8h0.85M173.6 102.4h0.85M163.4 135.5h0.85M163.0 113.5h0.85M182.4 101.2h0.85M161.6 138.0h0.85M183.7 123.6h0.85" stroke="#a8b8da" stroke-width="0.85" fill="none"/>
<path d="M104.7 134.0h0.85M104.7 138.9h0.85M112.6 166.0h0.85M103.9 121.9h0.85M109.3 96.3h0.85M110.9 169.1h0.85M107.2 111.1h0.85M109.5 149.7h0.85M109.9 171.6h0.85M109.4 105.0h0.85M107.2 113.5h0.85M109.8 179.6h0.85M112.3 136.6h0.85M107.8 137.1h0.85M110.4 100.4h0.85M109.0 173.2h0.85M108.3 109.9h0.85M112.9 137.7h0.85M109.1 178.9h0.85M109.8 134.5h0.85M111.8 101.9h0.85M109.5 155.4h0.85M106.7 128.2h0.85M110.8 167.4h0.85M112.8 132.9h0.85M110.4 165.7h0.85M109.5 146.7h0.85M105.8 175.9h0.85M110.8 154.2h0.85M110.1 171.4h0.85M109.8 177.5h0.85M112.4 123.0h0.85M111.7 157.0h0.85M110.3 178.8h0.85M112.4 131.1h0.85M111.4 155.9h0.85M110.5 96.2h0.85M105.1 111.8h0.85M132.7 141.7h0.85M141.2 157.5h0.85M139.8 174.8h0.85M129.4 142.6h0.85M138.3 164.3h0.85M131.2 109.5h0.85M132.5 182.0h0.85M128.8 114.1h0.85M129.1 139.8h0.85M142.9 166.5h0.85M127.5 156.6h0.85M128.1 174.6h0.85M139.0 152.9h0.85M142.6 157.2h0.85M135.0 153.3h0.85M141.5 125.4h0.85M132.2 118.4h0.85M129.8 142.9h0.85M127.8 110.5h0.85M133.3 186.7h0.85M140.7 140.9h0.85M133.9 147.3h0.85M129.2 162.0h0.85M140.9 143.5h0.85M135.6 164.5h0.85M129.3 189.0h0.85M135.4 157.6h0.85M133.3 169.0h0.85M141.9 184.3h0.85M132.6 183.2h0.85M129.4 124.1h0.85M131.5 186.4h0.85M129.1 121.9h0.85M133.7 144.9h0.85M135.8 124.7h0.85M128.5 121.8h0.85M140.8 108.2h0.85M135.6 169.1h0.85M129.4 146.3h0.85M129.4 158.7h0.85M132.9 124.3h0.85M132.5 135.3h0.85M129.3 183.1h0.85M134.5 133.6h0.85M142.2 115.7h0.85M141.9 182.0h0.85M141.3 181.8h0.85M128.5 171.4h0.85M111.0 162.6h0.85M124.8 183.1h0.85M131.8 184.2h0.85M122.4 186.3h0.85M134.2 174.9h0.85M133.2 177.9h0.85M113.0 172.4h0.85M115.4 162.3h0.85M111.2 167.2h0.85M139.7 161.2h0.85M124.9 174.6h0.85M126.8 193.9h0.85M130.9 184.6h0.85M115.3 181.4h0.85M141.5 183.2h0.85M112.5 181.6h0.85M106.0 175.2h0.85M124.7 187.0h0.85M136.1 184.5h0.85M124.8 167.2h0.85M106.8 188.6h0.85M122.8 190.0h0.85M143.6 129.2h0.85M158.1 116.7h0.85M152.6 110.5h0.85M159.4 123.8h0.85M159.2 136.0h0.85M147.7 128.5h0.85M157.8 95.6h0.85M148.7 108.9h0.85M147.0 117.2h0.85M142.4 137.8h0.85M159.3 104.3h0.85M161.4 99.2h0.85M158.1 102.9h0.85M158.4 96.6h0.85M148.6 96.2h0.85M149.2 139.4h0.85M147.7 137.2h0.85M150.7 122.8h0.85M147.9 126.3h0.85M145.4 129.6h0.85M152.4 113.2h0.85M158.9 113.0h0.85M142.0 136.1h0.85M153.5 93.3h0.85M145.0 130.9h0.85M147.2 135.8h0.85M150.3 132.9h0.85M152.0 106.3h0.85M159.2 93.6h0.85M160.4 141.0h0.85M159.9 133.2h0.85M161.1 112.8h0.85M158.4 127.4h0.85M151.3 134.4h0.85M175.3 122.6h0.85M178.0 139.9h0.85M190.6 103.7h0.85M169.9 135.8h0.85M165.6 120.1h0.85M178.8 106.9h0.85M184.8 113.9h0.85M164.1 95.5h0.85M163.4 123.2h0.85M167.1 119.8h0.85M188.7 116.8h0.85M163.5 119.6h0.85M161.4 124.2h0.85M162.5 112.2h0.85M178.9 132.6h0.85M177.9 119.2h0.85M164.3 118.7h0.85M174.1 120.1h0.85M171.5 128.2h0.85M165.2 89.7h0.85M163.4 128.1h0.85M187.6 136.2h0.85M162.3 107.2h0.85M188.8 125.6h0.85M191.3 94.2h0.85M191.4 104.4h0.85M188.1 111.4h0.85M164.7 122.0h0.85M170.0 119.0h0.85M172.6 89.9h0.85M185.6 134.0h0.85M182.5 107.0h0.85M161.3 118.7h0.85M165.0 132.2h0.85M164.2 95.8h0.85M164.2 124.9h0.85M173.4 88.0h0.85M169.8 122.6h0.85M165.4 118.1h0.85M171.6 120.0h0.85M172.9 129.3h0.85M164.6 115.1h0.85" stroke="#b4c2e0" stroke-width="0.85" fill="none"/>
<path d="M136.4 175.8h0.8M129.6 185.8h0.8M111.3 134.4h0.8M104.1 124.4h0.8M105.8 125.9h0.8M108.8 152.0h0.8M118.0 177.6h0.8M140.3 188.1h0.8M112.9 158.9h0.8M111.1 150.9h0.8M116.7 129.2h0.8M140.9 133.8h0.8M136.5 142.6h0.8M122.1 179.2h0.8M112.5 126.2h0.8M122.2 171.7h0.8M143.2 179.9h0.8M128.6 138.5h0.8M122.1 151.9h0.8M117.6 172.5h0.8M153.4 171.1h0.8M128.2 157.9h0.8M117.9 136.8h0.8M119.6 178.6h0.8M143.8 120.8h0.8M113.8 182.9h0.8M122.4 143.3h0.8M148.1 138.6h0.8M102.8 138.7h0.8M139.5 124.8h0.8M137.4 141.2h0.8" stroke="#9cb0d6" stroke-width="0.8" fill="none"/>
<path d="M100.7 170.4h0.8M115.8 160.5h0.8M100.6 169.7h0.8M119.2 176.1h0.8M155.7 175.4h0.8M141.1 126.5h0.8M110.1 149.9h0.8M151.9 150.2h0.8M152.2 164.2h0.8M121.8 160.7h0.8M102.9 133.4h0.8M139.6 120.8h0.8M103.9 152.8h0.8M140.4 137.8h0.8M130.3 155.5h0.8M132.9 168.6h0.8M111.9 179.9h0.8M116.8 170.3h0.8M102.4 161.7h0.8M145.2 151.4h0.8M113.6 121.9h0.8M131.3 173.3h0.8M158.0 141.9h0.8M140.6 159.2h0.8M115.6 153.0h0.8M111.1 178.8h0.8" stroke="#8ba3ce" stroke-width="0.8" fill="none"/>
<path d="M137.8 146.1h0.8M115.5 190.2h0.8M125.5 150.5h0.8M100.7 143.1h0.8M145.4 178.7h0.8M101.0 150.5h0.8M132.2 192.5h0.8M141.0 180.8h0.8M136.4 134.5h0.8M99.9 128.7h0.8M132.8 151.7h0.8M154.2 143.9h0.8M156.4 141.2h0.8M142.8 121.3h0.8M132.5 160.2h0.8M153.0 134.9h0.8M133.7 134.2h0.8M132.8 146.3h0.8M102.8 142.4h0.8M109.9 185.9h0.8M106.3 159.2h0.8M147.5 141.2h0.8M103.7 186.1h0.8M131.5 170.4h0.8M141.6 139.1h0.8" stroke="#7088be" stroke-width="0.8" fill="none"/>
<path d="M126.4 123.3h0.8M146.9 132.6h0.8M128.0 132.5h0.8M108.5 186.2h0.8M127.6 171.3h0.8M140.6 172.2h0.8M119.8 177.2h0.8M119.7 154.6h0.8M118.4 168.6h0.8M103.8 183.5h0.8M102.3 179.1h0.8M119.9 171.1h0.8M124.1 188.5h0.8M143.0 188.2h0.8M157.6 151.8h0.8M131.8 160.7h0.8M101.2 123.3h0.8M104.2 149.3h0.8M107.6 181.3h0.8M99.0 134.8h0.8M147.1 125.2h0.8M128.7 122.6h0.8M104.2 175.4h0.8M114.3 154.9h0.8M117.8 156.8h0.8M99.1 153.7h0.8M130.1 127.0h0.8M142.8 167.2h0.8M114.2 181.1h0.8M115.7 140.7h0.8M148.0 130.5h0.8M128.9 148.6h0.8M115.7 124.2h0.8M99.8 142.1h0.8M141.2 182.6h0.8M150.8 138.1h0.8M137.2 162.1h0.8M128.5 131.6h0.8" stroke="#b2c1e0" stroke-width="0.8" fill="none"/>
<path d="M120.3 168.9h0.8M155.2 170.2h0.8M149.0 143.7h0.8M149.2 139.3h0.8M152.9 128.0h0.8M126.5 129.3h0.8M121.2 146.6h0.8M132.6 130.7h0.8M117.5 130.4h0.8M123.4 147.2h0.8M112.4 146.4h0.8M107.1 151.0h0.8M111.2 157.9h0.8M159.8 161.5h0.8M123.7 169.9h0.8M108.2 153.1h0.8M107.3 176.2h0.8M111.4 134.8h0.8M138.5 143.2h0.8M152.3 145.8h0.8M122.2 141.4h0.8M124.6 191.7h0.8M117.5 186.0h0.8M108.0 140.1h0.8M102.6 173.3h0.8M127.2 179.5h0.8M130.9 161.4h0.8M135.0 147.4h0.8M151.5 170.2h0.8M110.2 127.9h0.8" stroke="#7b94c6" stroke-width="0.8" fill="none"/>
</g>
<g filter="url(#blur05)">
<path d="M190.2 132.9h0.8M151.4 132.9h0.8M186.8 137.5h0.8M175.1 137.6h0.8M143.9 131.4h0.8M148.6 133.0h0.8M184.4 135.8h0.8M167.6 138.2h0.8M171.9 136.0h0.8M156.9 136.5h0.8M186.4 135.2h0.8M177.2 137.8h0.8M166.8 137.2h0.8M142.9 127.5h0.8M140.9 123.0h0.8M151.6 135.5h0.8M167.4 139.7h0.8M144.3 131.1h0.8M162.7 139.4h0.8M144.6 129.0h0.8M169.7 136.7h0.8M163.4 139.7h0.8M147.3 133.1h0.8M153.8 135.4h0.8M176.0 135.3h0.8" stroke="#6a5070" stroke-width="0.8" fill="none"/>
<path d="M141.5 126.3h0.8M175.6 137.9h0.8M143.2 121.0h0.8M184.9 140.6h0.8M143.4 122.2h0.8M142.3 126.0h0.8M154.8 132.7h0.8M156.7 134.2h0.8M150.4 133.6h0.8M141.6 119.8h0.8M140.3 120.5h0.8M192.0 133.6h0.8M172.3 136.9h0.8M186.0 138.5h0.8M183.7 136.7h0.8M177.9 138.3h0.8M142.4 124.3h0.8M141.6 126.7h0.8M141.6 120.2h0.8" stroke="#7a4a68" stroke-width="0.8" fill="none"/>
<path d="M141.6 120.1h0.8M181.8 141.0h0.8M142.9 125.6h0.8M141.8 124.5h0.8M166.3 134.0h0.8M188.0 132.6h0.8M154.8 135.8h0.8M153.4 128.9h0.8M152.3 134.2h0.8M178.1 139.1h0.8M140.0 122.3h0.8M191.6 134.9h0.8M143.9 129.1h0.8M185.1 139.2h0.8M189.7 128.3h0.8M170.9 138.0h0.8M157.6 137.8h0.8M186.4 137.6h0.8M183.5 139.5h0.8M141.7 124.3h0.8M188.3 136.3h0.8M192.5 132.9h0.8M188.6 137.3h0.8" stroke="#8a4a62" stroke-width="0.8" fill="none"/>
<path d="M191.9 133.7h0.8M141.9 122.7h0.8M170.9 140.2h0.8M148.3 131.1h0.8M186.5 134.2h0.8M148.7 133.2h0.8M141.7 127.2h0.8M171.0 139.0h0.8M172.4 136.1h0.8M163.7 137.3h0.8M138.7 123.9h0.8M159.3 135.6h0.8M150.3 134.3h0.8M147.3 131.3h0.8M166.7 139.3h0.8M150.9 133.1h0.8M139.7 123.4h0.8M143.2 124.9h0.8M157.8 133.6h0.8M161.1 135.4h0.8M159.6 138.7h0.8" stroke="#c0a0b0" stroke-width="0.8" fill="none"/>
<path d="M179.7 136.8h0.8M157.3 135.6h0.8M180.1 137.9h0.8M164.7 139.8h0.8M145.6 129.6h0.8M159.4 135.0h0.8M142.3 127.7h0.8M146.1 130.4h0.8M162.5 135.2h0.8M150.0 135.1h0.8M174.9 140.9h0.8M187.9 134.6h0.8M190.0 133.8h0.8M176.8 137.8h0.8M188.0 135.3h0.8M170.3 134.1h0.8M178.9 137.1h0.8M142.8 127.9h0.8M165.0 140.0h0.8M153.0 134.0h0.8M186.0 135.1h0.8M145.9 129.1h0.8" stroke="#e8e0e8" stroke-width="0.8" fill="none"/>
</g>
<ellipse cx="166" cy="128.5" rx="25.8" ry="10.5" transform="rotate(12 166 128.5)" fill="none" stroke="#6a2440" stroke-width="0.8" stroke-opacity="0.75" stroke-dasharray="1.2 1.1"/>
<text x="172.9" y="43.6" font-size="6.7" fill="#b81848" stroke="#b81848" stroke-width="0.1" text-anchor="middle" textLength="49.6" lengthAdjust="spacingAndGlyphs">Donors with high</text>
<text x="172.9" y="51.6" font-size="6.5" fill="#b81848" stroke="#b81848" stroke-width="0.1" text-anchor="middle" textLength="31.2" lengthAdjust="spacingAndGlyphs">L-Carnitine</text>
<line x1="27.0" y1="88.0" x2="20.4" y2="60.0" stroke="#222" stroke-width="0.9"/>
<path d="M18.9 55.4 L22.4 61.5 L18.0 62.5 Z" fill="#222"/>
<line x1="34.9" y1="122.9" x2="41.8" y2="152.7" stroke="#222" stroke-width="0.9"/>
<text x="31.9" y="104.2" font-size="6.7" fill="#222" stroke="#222" stroke-width="0.1" text-anchor="middle" textLength="30.8" lengthAdjust="spacingAndGlyphs" transform="rotate(-102 31.9 104.2)">L-carnitine</text>
<text x="31.0" y="46.8" font-size="6.6" fill="#333" stroke="#333" stroke-width="0.1" text-anchor="middle" transform="rotate(-20 31.0 46.8)">4</text>
<text x="32.6" y="65.2" font-size="6.6" fill="#333" stroke="#333" stroke-width="0.1" text-anchor="middle" transform="rotate(-20 32.6 65.2)">3.5</text>
<text x="38.0" y="79.2" font-size="6.6" fill="#333" stroke="#333" stroke-width="0.1" text-anchor="middle" transform="rotate(-20 38.0 79.2)">3</text>
<text x="40.4" y="95.2" font-size="6.6" fill="#333" stroke="#333" stroke-width="0.1" text-anchor="middle" transform="rotate(-20 40.4 95.2)">2.5</text>
<text x="45.0" y="107.7" font-size="6.6" fill="#333" stroke="#333" stroke-width="0.1" text-anchor="middle" transform="rotate(-20 45.0 107.7)">2</text>
<text x="47.4" y="120.6" font-size="6.6" fill="#333" stroke="#333" stroke-width="0.1" text-anchor="middle" transform="rotate(-20 47.4 120.6)">1.5</text>
<text x="51.2" y="132.5" font-size="6.6" fill="#333" stroke="#333" stroke-width="0.1" text-anchor="middle" transform="rotate(-20 51.2 132.5)">1</text>
<text x="52.7" y="144.6" font-size="6.6" fill="#333" stroke="#333" stroke-width="0.1" text-anchor="middle" transform="rotate(-20 52.7 144.6)">0.5</text>
<text x="55.8" y="153.2" font-size="6.6" fill="#333" stroke="#333" stroke-width="0.1" text-anchor="middle" transform="rotate(-20 55.8 153.2)">0</text>
<line x1="54.0" y1="172.8" x2="69.6" y2="186.0" stroke="#222" stroke-width="0.9"/>
<text x="79.2" y="199.0" font-size="7.4" fill="#333" stroke="#333" stroke-width="0.1" text-anchor="middle" textLength="24.6" lengthAdjust="spacingAndGlyphs" transform="rotate(43 79.2 199.0)">UMAP2</text>
<line x1="90.4" y1="205.0" x2="104.5" y2="217.0" stroke="#222" stroke-width="0.9"/>
<path d="M107.8 219.8 L101.4 217.6 L104.3 214.2 Z" fill="#222"/>
<text x="57.4" y="158.8" font-size="7.0" fill="#333" stroke="#333" stroke-width="0.1" text-anchor="middle" transform="rotate(-30 57.4 158.8)">-30</text>
<text x="68.3" y="170.5" font-size="7.0" fill="#333" stroke="#333" stroke-width="0.1" text-anchor="middle" transform="rotate(-30 68.3 170.5)">-20</text>
<text x="83.4" y="183.9" font-size="7.0" fill="#333" stroke="#333" stroke-width="0.1" text-anchor="middle" transform="rotate(-30 83.4 183.9)">-10</text>
<text x="100.2" y="198.7" font-size="7.0" fill="#333" stroke="#333" stroke-width="0.1" text-anchor="middle" transform="rotate(-30 100.2 198.7)">0</text>
<text x="117.7" y="215.6" font-size="7.0" fill="#333" stroke="#333" stroke-width="0.1" text-anchor="middle" transform="rotate(-30 117.7 215.6)">10</text>
<line x1="170.2" y1="221.5" x2="191.8" y2="203.5" stroke="#222" stroke-width="0.9"/>
<text x="205.4" y="198.3" font-size="7.4" fill="#333" stroke="#333" stroke-width="0.1" text-anchor="middle" textLength="24.4" lengthAdjust="spacingAndGlyphs" transform="rotate(-42 205.4 198.3)">UMAP1</text>
<line x1="213.6" y1="185.5" x2="229.8" y2="171.6" stroke="#222" stroke-width="0.9"/>
<path d="M232.9 168.9 L229.9 175.0 L227.0 171.6 Z" fill="#222"/>
<text x="171.0" y="211.2" font-size="7.0" fill="#333" stroke="#333" stroke-width="0.1" text-anchor="middle" transform="rotate(-60 171.0 211.2)">20</text>
<text x="187.3" y="196.9" font-size="7.0" fill="#333" stroke="#333" stroke-width="0.1" text-anchor="middle" transform="rotate(-60 187.3 196.9)">10</text>
<text x="200.5" y="181.2" font-size="7.0" fill="#333" stroke="#333" stroke-width="0.1" text-anchor="middle" transform="rotate(-60 200.5 181.2)">0</text>
<text x="215.6" y="172.4" font-size="7.0" fill="#333" stroke="#333" stroke-width="0.1" text-anchor="middle" transform="rotate(40 215.6 172.4)">-10</text>
<text x="227.5" y="160.6" font-size="7.0" fill="#333" stroke="#333" stroke-width="0.1" text-anchor="middle" transform="rotate(40 227.5 160.6)">-20</text>
<defs><linearGradient id="cb" x1="0" y1="0" x2="0" y2="1"><stop offset="0" stop-color="#7a3414"/><stop offset="0.2" stop-color="#ad6434"/><stop offset="0.32" stop-color="#d8a47a"/><stop offset="0.44" stop-color="#f6f1ea"/><stop offset="0.56" stop-color="#dde3f0"/><stop offset="0.72" stop-color="#95a8cc"/><stop offset="0.87" stop-color="#4e6aa6"/><stop offset="1" stop-color="#2d4888"/></linearGradient></defs>
<rect x="31.20" y="175.60" width="4.70" height="40.50" fill="url(#cb)"/>
<text x="39.5" y="183.4" font-size="6.2" fill="#333" stroke="#333" stroke-width="0.1">3.5</text>
<text x="39.5" y="214.6" font-size="6.2" fill="#333" stroke="#333" stroke-width="0.1">0</text>
<text x="129.0" y="219.9" font-size="6.5" fill="#4a6a9a" stroke="#4a6a9a" stroke-width="0.1" textLength="28" lengthAdjust="spacingAndGlyphs">3D uMAP</text>
<text x="254.8" y="16.3" font-size="11.8" fill="#111" font-weight="bold">H</text>
<text x="294.0" y="23.6" font-size="6.3" fill="#333" stroke="#333" stroke-width="0.1" textLength="32" lengthAdjust="spacingAndGlyphs">L-Carnitine</text>
<path d="M291.0 61.0 C292.5 60.9 296.8 60.9 300.0 60.6 C303.2 60.3 306.7 59.7 310.0 59.3 C313.3 58.9 316.7 58.2 320.0 58.0 C323.3 57.8 325.2 58.1 330.0 57.9 C334.8 57.7 344.5 57.5 349.0 57.0 C353.5 56.5 354.2 55.9 357.0 55.1 C359.8 54.3 363.0 53.0 366.0 52.0 C369.0 51.0 372.0 50.0 375.0 49.1 C378.0 48.2 381.2 47.6 384.0 46.8 C386.8 46.0 389.5 45.0 392.0 44.2 C394.5 43.4 396.7 42.8 399.0 42.0 C401.3 41.2 403.7 40.2 406.0 39.2 C408.3 38.2 410.7 37.1 413.0 36.0 C415.3 34.9 418.8 33.2 420.0 32.6 L420.0 53.6 C418.8 53.1 415.3 51.6 413.0 50.8 C410.7 50.0 408.3 49.3 406.0 48.8 C403.7 48.3 401.3 47.8 399.0 47.6 C396.7 47.4 394.5 47.3 392.0 47.4 C389.5 47.5 386.8 47.9 384.0 48.4 C381.2 48.9 378.0 49.8 375.0 50.7 C372.0 51.6 369.0 52.6 366.0 53.6 C363.0 54.6 359.8 55.9 357.0 56.7 C354.2 57.5 353.5 58.1 349.0 58.6 C344.5 59.1 334.8 59.3 330.0 59.5 C325.2 59.7 323.3 59.4 320.0 59.6 C316.7 59.8 313.3 60.5 310.0 60.9 C306.7 61.3 303.2 61.9 300.0 62.2 C296.8 62.5 292.5 62.5 291.0 62.6 Z" fill="#8c8c8c" fill-opacity="0.55" stroke="none"/>
<path d="M291.0 61.8 C292.5 61.7 296.8 61.7 300.0 61.4 C303.2 61.1 306.7 60.5 310.0 60.1 C313.3 59.7 316.7 59.0 320.0 58.8 C323.3 58.6 325.2 58.9 330.0 58.7 C334.8 58.5 344.5 58.3 349.0 57.8 C353.5 57.3 354.2 56.7 357.0 55.9 C359.8 55.1 363.0 53.8 366.0 52.8 C369.0 51.8 372.0 50.8 375.0 49.9 C378.0 49.0 381.2 48.3 384.0 47.6 C386.8 46.9 389.5 46.3 392.0 45.8 C394.5 45.3 396.7 45.1 399.0 44.8 C401.3 44.5 403.7 44.2 406.0 44.0 C408.3 43.8 410.7 43.6 413.0 43.4 C415.3 43.2 418.8 43.1 420.0 43.0" fill="none" stroke="#2d2a55" stroke-width="1.15" stroke-opacity="1" stroke-linejoin="round"/>
<path d="M291.0 95.6 C292.5 95.4 296.8 94.8 300.0 94.4 C303.2 94.1 305.0 93.8 310.0 93.5 C315.0 93.2 324.2 92.7 330.0 92.4 C335.8 92.2 340.0 92.3 345.0 92.0 C350.0 91.7 354.5 91.9 360.0 90.8 C365.5 89.7 371.3 87.4 378.0 85.6 C384.7 83.8 393.0 81.6 400.0 79.8 C407.0 78.0 416.7 75.8 420.0 75.0 L420.0 92.0 C416.7 91.8 407.0 91.0 400.0 90.8 C393.0 90.6 384.7 90.2 378.0 90.8 C371.3 91.4 365.5 93.6 360.0 94.4 C354.5 95.2 350.0 95.3 345.0 95.6 C340.0 95.9 335.8 95.8 330.0 96.0 C324.2 96.2 315.0 96.8 310.0 97.1 C305.0 97.4 303.2 97.7 300.0 98.0 C296.8 98.3 292.5 99.0 291.0 99.2 Z" fill="#9ccac8" fill-opacity="0.5" stroke="none"/>
<path d="M291.0 99.3 C291.8 99.7 294.0 101.0 296.0 101.5 C298.0 102.0 300.3 102.5 303.0 102.5 C305.7 102.5 309.2 101.8 312.0 101.3 C314.8 100.8 317.0 100.0 320.0 99.6 C323.0 99.3 325.0 99.2 330.0 99.2 C335.0 99.2 343.3 100.0 350.0 99.3 C356.7 98.6 361.7 96.8 370.0 94.8 C378.3 92.8 391.7 90.2 400.0 87.5 C408.3 84.8 416.7 80.1 420.0 78.6 L420.0 90.6 C416.7 91.2 408.3 93.2 400.0 94.5 C391.7 95.8 378.3 97.2 370.0 98.4 C361.7 99.6 356.7 101.3 350.0 101.9 C343.3 102.5 335.0 101.8 330.0 101.8 C325.0 101.8 323.0 101.9 320.0 102.2 C317.0 102.5 314.8 103.4 312.0 103.9 C309.2 104.4 305.7 105.1 303.0 105.1 C300.3 105.1 298.0 104.6 296.0 104.1 C294.0 103.6 291.8 102.3 291.0 101.9 Z" fill="#dcaaa8" fill-opacity="0.4" stroke="none"/>
<path d="M383.0 88.0 Q407.0 87.0 415.0 78.8 L415.0 96.3 Q407.0 89.0 383.0 88.0 Z" fill="#8c8c8c" fill-opacity="0.5"/>
<path d="M390.0 86.0 Q413.0 85.0 420.0 73.5 L420.0 92.3 Q413.0 87.0 390.0 86.0 Z" fill="#8c8c8c" fill-opacity="0.45"/>
<path d="M291.0 97.4 C292.5 97.2 296.8 96.6 300.0 96.2 C303.2 95.8 305.0 95.6 310.0 95.3 C315.0 95.0 324.2 94.5 330.0 94.2 C335.8 94.0 340.0 94.1 345.0 93.8 C350.0 93.5 354.5 93.5 360.0 92.6 C365.5 91.7 371.3 89.4 378.0 88.2 C384.7 87.0 393.0 86.1 400.0 85.3 C407.0 84.5 416.7 83.8 420.0 83.5" fill="none" stroke="#8cc0bc" stroke-width="1.8" stroke-opacity="1" stroke-linejoin="round"/>
<path d="M291.0 100.6 C291.8 101.0 294.0 102.3 296.0 102.8 C298.0 103.3 300.3 103.8 303.0 103.8 C305.7 103.8 309.2 103.1 312.0 102.6 C314.8 102.1 317.0 101.2 320.0 100.9 C323.0 100.6 325.0 100.5 330.0 100.5 C335.0 100.5 343.3 101.2 350.0 100.6 C356.7 99.9 361.7 98.2 370.0 96.6 C378.3 95.0 391.7 93.0 400.0 91.0 C408.3 89.0 416.7 85.7 420.0 84.6" fill="none" stroke="#c48a84" stroke-width="1.15" stroke-opacity="1" stroke-linejoin="round"/>
<path d="M291.0 134.0 C292.5 133.8 296.8 133.0 300.0 132.6 C303.2 132.2 306.7 131.6 310.0 131.6 C313.3 131.6 315.8 132.3 320.0 132.4 C324.2 132.5 331.3 132.0 335.0 132.0 C338.7 132.0 339.3 132.2 342.0 132.6 C344.7 133.0 348.0 134.4 351.0 134.3 C354.0 134.2 355.2 132.8 360.0 131.8 C364.8 130.8 373.3 129.2 380.0 128.2 C386.7 127.2 393.3 126.8 400.0 126.0 C406.7 125.2 416.7 124.0 420.0 123.6 L420.0 133.8 C416.7 134.2 406.7 135.4 400.0 136.2 C393.3 137.0 386.7 137.4 380.0 138.4 C373.3 139.4 364.8 141.0 360.0 142.0 C355.2 143.0 354.0 144.4 351.0 144.5 C348.0 144.6 344.7 143.2 342.0 142.8 C339.3 142.4 338.7 142.2 335.0 142.2 C331.3 142.2 324.2 142.7 320.0 142.6 C315.8 142.5 313.3 141.8 310.0 141.8 C306.7 141.8 303.2 142.4 300.0 142.8 C296.8 143.2 292.5 144.0 291.0 144.2 Z" fill="#8c8c8c" fill-opacity="0.45" stroke="none"/>
<path d="M376.0 133.0 Q395.9 132.0 399.7 111.6 L399.7 148.0 Q395.9 134.0 376.0 133.0 Z" fill="#8c8c8c" fill-opacity="0.5"/>
<path d="M396.0 131.0 Q413.2 130.0 414.4 119.5 L414.4 142.7 Q413.2 132.0 396.0 131.0 Z" fill="#8c8c8c" fill-opacity="0.5"/>
<path d="M405.0 130.0 Q420.5 129.0 420.0 120.0 L420.0 135.0 Q420.5 131.0 405.0 130.0 Z" fill="#8c8c8c" fill-opacity="0.45"/>
<rect x="400" y="124" width="20" height="10" fill="#7fb0c0" fill-opacity="0.35"/>
<rect x="404" y="127" width="16" height="8" fill="#a8b868" fill-opacity="0.3"/>
<path d="M291.0 139.0 C292.5 138.8 296.8 138.0 300.0 137.6 C303.2 137.2 306.7 136.6 310.0 136.6 C313.3 136.6 315.8 137.3 320.0 137.4 C324.2 137.5 331.3 137.0 335.0 137.0 C338.7 137.0 339.3 137.2 342.0 137.6 C344.7 138.0 348.0 139.4 351.0 139.3 C354.0 139.2 355.2 137.8 360.0 136.8 C364.8 135.8 373.3 134.2 380.0 133.2 C386.7 132.2 393.3 131.8 400.0 131.0 C406.7 130.2 416.7 129.0 420.0 128.6" fill="none" stroke="#5a4a78" stroke-width="1.2" stroke-opacity="1" stroke-linejoin="round"/>
<path d="M291.0 140.4 C292.5 140.2 296.8 139.4 300.0 139.0 C303.2 138.6 306.7 138.0 310.0 138.0 C313.3 138.0 315.8 138.7 320.0 138.8 C324.2 138.9 331.3 138.4 335.0 138.4 C338.7 138.4 339.3 138.6 342.0 139.0 C344.7 139.4 348.0 140.8 351.0 140.7 C354.0 140.6 355.2 139.2 360.0 138.2 C364.8 137.2 373.3 135.6 380.0 134.6 C386.7 133.6 393.3 133.2 400.0 132.4 C406.7 131.6 416.7 130.4 420.0 130.0" fill="none" stroke="#9a8aa0" stroke-width="1.0" stroke-opacity="0.8" stroke-linejoin="round"/>
<path d="M351.0 138.3 C352.5 137.9 355.2 136.8 360.0 135.8 C364.8 134.8 373.3 133.2 380.0 132.2 C386.7 131.2 393.3 130.8 400.0 130.0 C406.7 129.2 416.7 128.0 420.0 127.6" fill="none" stroke="#7aa0b0" stroke-width="1.0" stroke-opacity="0.7" stroke-linejoin="round"/>
<path d="M291.0 188.3 C295.8 188.2 310.2 188.0 320.0 187.8 C329.8 187.6 340.0 187.4 350.0 187.1 C360.0 186.8 370.3 186.5 380.0 186.0 C389.7 185.5 403.3 184.6 408.0 184.3 L408.0 190.5 C403.3 190.8 389.7 191.7 380.0 192.2 C370.3 192.7 360.0 193.0 350.0 193.3 C340.0 193.6 329.8 193.8 320.0 194.0 C310.2 194.2 295.8 194.4 291.0 194.5 Z" fill="#8296ac" fill-opacity="0.45" stroke="none"/>
<path d="M291.0 187.0 C297.5 186.8 316.8 186.4 330.0 186.0 C343.2 185.6 358.3 185.0 370.0 184.5 C381.7 184.0 391.7 183.4 400.0 183.0 C408.3 182.6 416.7 182.0 420.0 181.8 L420.0 185.8 C416.7 186.0 408.3 186.6 400.0 187.0 C391.7 187.4 381.7 188.0 370.0 188.5 C358.3 189.0 343.2 189.6 330.0 190.0 C316.8 190.4 297.5 190.8 291.0 191.0 Z" fill="#a8a890" fill-opacity="0.45" stroke="none"/>
<path d="M291.0 182.8 C292.5 182.7 297.3 182.8 300.0 182.3 C302.7 181.8 304.8 180.6 307.0 179.6 C309.2 178.6 311.8 176.5 313.3 176.2 C314.8 175.9 315.1 177.2 316.0 178.0 C316.9 178.8 317.5 180.7 318.5 181.2 C319.5 181.7 320.6 181.3 322.0 181.0 C323.4 180.7 325.3 179.1 327.0 179.3 C328.7 179.5 329.8 181.4 332.0 182.0 C334.2 182.6 337.0 183.0 340.0 183.0 C343.0 183.0 347.2 182.7 350.0 181.9 C352.8 181.1 354.3 180.0 357.0 178.2 C359.7 176.4 363.3 174.1 366.0 171.2 C368.7 168.3 371.8 162.4 373.0 160.7 L373.0 184.4 C371.8 183.9 368.7 181.5 366.0 181.7 C363.3 181.9 359.7 184.4 357.0 185.5 C354.3 186.6 352.8 187.4 350.0 188.0 C347.2 188.6 343.0 189.0 340.0 189.0 C337.0 189.0 334.2 188.6 332.0 188.0 C329.8 187.4 328.7 185.5 327.0 185.3 C325.3 185.1 323.4 186.7 322.0 187.0 C320.6 187.3 319.5 187.7 318.5 187.2 C317.5 186.7 316.9 184.8 316.0 184.0 C315.1 183.2 314.8 181.9 313.3 182.2 C311.8 182.5 309.2 184.6 307.0 185.6 C304.8 186.6 302.7 187.8 300.0 188.3 C297.3 188.8 292.5 188.7 291.0 188.8 Z" fill="#a0a0a8" fill-opacity="0.5" stroke="none"/>
<path d="M291.0 182.8 C292.5 182.7 297.3 182.8 300.0 182.3 C302.7 181.8 304.8 180.6 307.0 179.6 C309.2 178.6 311.8 176.5 313.3 176.2 C314.8 175.9 315.1 177.2 316.0 178.0 C316.9 178.8 317.5 180.7 318.5 181.2 C319.5 181.7 320.6 181.3 322.0 181.0 C323.4 180.7 325.3 179.1 327.0 179.3 C328.7 179.5 329.8 181.4 332.0 182.0 C334.2 182.6 337.0 183.0 340.0 183.0 C343.0 183.0 348.3 182.3 350.0 182.2 L350.0 188.2 C348.3 188.3 343.0 189.0 340.0 189.0 C337.0 189.0 334.2 188.6 332.0 188.0 C329.8 187.4 328.7 185.5 327.0 185.3 C325.3 185.1 323.4 186.7 322.0 187.0 C320.6 187.3 319.5 187.7 318.5 187.2 C317.5 186.7 316.9 184.8 316.0 184.0 C315.1 183.2 314.8 181.9 313.3 182.2 C311.8 182.5 309.2 184.6 307.0 185.6 C304.8 186.6 302.7 187.8 300.0 188.3 C297.3 188.8 292.5 188.7 291.0 188.8 Z" fill="#b098bc" fill-opacity="0.45" stroke="none"/>
<path d="M365.0 186.0 Q389.9 185.0 398.8 175.6 L398.8 194.0 Q389.9 187.0 365.0 186.0 Z" fill="#8c8c8c" fill-opacity="0.5"/>
<path d="M380.0 185.0 Q401.8 184.0 407.5 174.8 L407.5 192.0 Q401.8 186.0 380.0 185.0 Z" fill="#8c8c8c" fill-opacity="0.45"/>
<rect x="395" y="184" width="25" height="3.5" fill="#c8b890" fill-opacity="0.6"/>
<path d="M291.0 189.0 C297.5 188.8 316.8 188.4 330.0 188.0 C343.2 187.6 358.3 187.0 370.0 186.5 C381.7 186.0 391.7 185.4 400.0 185.0 C408.3 184.6 416.7 184.0 420.0 183.8" fill="none" stroke="#98a068" stroke-width="1.1" stroke-opacity="1" stroke-linejoin="round"/>
<path d="M291.0 191.5 C295.8 191.4 310.2 191.2 320.0 191.0 C329.8 190.8 340.0 190.6 350.0 190.3 C360.0 190.0 370.3 189.7 380.0 189.2 C389.7 188.7 403.3 187.8 408.0 187.5" fill="none" stroke="#6a98a8" stroke-width="1.0" stroke-opacity="0.7" stroke-linejoin="round"/>
<path d="M291.0 193.0 C297.5 192.9 316.8 192.8 330.0 192.6 C343.2 192.3 358.3 191.9 370.0 191.5 C381.7 191.1 395.0 190.2 400.0 190.0" fill="none" stroke="#7a8ab0" stroke-width="1.0" stroke-opacity="0.6" stroke-linejoin="round"/>
<path d="M291.0 185.8 C292.5 185.7 297.3 185.8 300.0 185.3 C302.7 184.8 304.8 183.6 307.0 182.6 C309.2 181.6 311.8 179.5 313.3 179.2 C314.8 178.9 315.1 180.2 316.0 181.0 C316.9 181.8 317.5 183.7 318.5 184.2 C319.5 184.7 320.6 184.3 322.0 184.0 C323.4 183.7 325.3 182.1 327.0 182.3 C328.7 182.5 329.8 184.4 332.0 185.0 C334.2 185.6 337.0 186.0 340.0 186.0 C343.0 186.0 347.2 185.8 350.0 185.2 C352.8 184.6 354.3 183.9 357.0 182.7 C359.7 181.5 363.3 179.9 366.0 178.2 C368.7 176.5 371.8 173.6 373.0 172.7" fill="none" stroke="#8e6c9c" stroke-width="1.3" stroke-opacity="1" stroke-linejoin="round"/>
<rect x="290.60" y="26.00" width="129.80" height="37.80" fill="none" stroke="#1c1c1c" stroke-width="1.3"/>
<line x1="287.4" y1="26.2" x2="290.6" y2="26.2" stroke="#1c1c1c" stroke-width="0.9"/>
<text x="284.6" y="28.4" font-size="6.2" fill="#333" stroke="#333" stroke-width="0.1" text-anchor="end">1.3</text>
<line x1="287.4" y1="38.8" x2="290.6" y2="38.8" stroke="#1c1c1c" stroke-width="0.9"/>
<text x="284.6" y="41.0" font-size="6.2" fill="#333" stroke="#333" stroke-width="0.1" text-anchor="end">1.2</text>
<line x1="287.4" y1="51.2" x2="290.6" y2="51.2" stroke="#1c1c1c" stroke-width="0.9"/>
<text x="284.6" y="53.4" font-size="6.2" fill="#333" stroke="#333" stroke-width="0.1" text-anchor="end">1.1</text>
<line x1="287.4" y1="63.0" x2="290.6" y2="63.0" stroke="#1c1c1c" stroke-width="0.9"/>
<text x="284.6" y="65.2" font-size="6.2" fill="#333" stroke="#333" stroke-width="0.1" text-anchor="end">1.0</text>
<rect x="290.60" y="67.80" width="129.80" height="37.50" fill="none" stroke="#1c1c1c" stroke-width="1.3"/>
<line x1="287.4" y1="68.2" x2="290.6" y2="68.2" stroke="#1c1c1c" stroke-width="0.9"/>
<text x="284.6" y="70.4" font-size="6.2" fill="#333" stroke="#333" stroke-width="0.1" text-anchor="end">1.3</text>
<line x1="287.4" y1="80.7" x2="290.6" y2="80.7" stroke="#1c1c1c" stroke-width="0.9"/>
<text x="284.6" y="82.9" font-size="6.2" fill="#333" stroke="#333" stroke-width="0.1" text-anchor="end">1.2</text>
<line x1="287.4" y1="93.0" x2="290.6" y2="93.0" stroke="#1c1c1c" stroke-width="0.9"/>
<text x="284.6" y="95.2" font-size="6.2" fill="#333" stroke="#333" stroke-width="0.1" text-anchor="end">1.1</text>
<line x1="287.4" y1="104.8" x2="290.6" y2="104.8" stroke="#1c1c1c" stroke-width="0.9"/>
<text x="284.6" y="107.0" font-size="6.2" fill="#333" stroke="#333" stroke-width="0.1" text-anchor="end">1.0</text>
<rect x="290.60" y="108.20" width="129.80" height="41.60" fill="none" stroke="#1c1c1c" stroke-width="1.3"/>
<line x1="287.4" y1="110.9" x2="290.6" y2="110.9" stroke="#1c1c1c" stroke-width="0.9"/>
<text x="284.6" y="113.1" font-size="6.2" fill="#333" stroke="#333" stroke-width="0.1" text-anchor="end">1.3</text>
<line x1="287.4" y1="123.4" x2="290.6" y2="123.4" stroke="#1c1c1c" stroke-width="0.9"/>
<text x="284.6" y="125.6" font-size="6.2" fill="#333" stroke="#333" stroke-width="0.1" text-anchor="end">1.2</text>
<line x1="287.4" y1="135.2" x2="290.6" y2="135.2" stroke="#1c1c1c" stroke-width="0.9"/>
<text x="284.6" y="137.4" font-size="6.2" fill="#333" stroke="#333" stroke-width="0.1" text-anchor="end">1.1</text>
<line x1="287.4" y1="146.9" x2="290.6" y2="146.9" stroke="#1c1c1c" stroke-width="0.9"/>
<text x="284.6" y="149.1" font-size="6.2" fill="#333" stroke="#333" stroke-width="0.1" text-anchor="end">1.0</text>
<rect x="290.60" y="153.60" width="129.80" height="41.40" fill="none" stroke="#1c1c1c" stroke-width="1.3"/>
<line x1="287.4" y1="157.2" x2="290.6" y2="157.2" stroke="#1c1c1c" stroke-width="0.9"/>
<text x="284.6" y="159.4" font-size="6.2" fill="#333" stroke="#333" stroke-width="0.1" text-anchor="end">1.3</text>
<line x1="287.4" y1="169.6" x2="290.6" y2="169.6" stroke="#1c1c1c" stroke-width="0.9"/>
<text x="284.6" y="171.8" font-size="6.2" fill="#333" stroke="#333" stroke-width="0.1" text-anchor="end">1.2</text>
<line x1="287.4" y1="182.1" x2="290.6" y2="182.1" stroke="#1c1c1c" stroke-width="0.9"/>
<text x="284.6" y="184.3" font-size="6.2" fill="#333" stroke="#333" stroke-width="0.1" text-anchor="end">1.1</text>
<line x1="287.4" y1="194.3" x2="290.6" y2="194.3" stroke="#1c1c1c" stroke-width="0.9"/>
<text x="284.6" y="196.5" font-size="6.2" fill="#333" stroke="#333" stroke-width="0.1" text-anchor="end">1.0</text>
<line x1="300.6" y1="195.0" x2="300.6" y2="197.9" stroke="#1c1c1c" stroke-width="0.9"/>
<text x="300.6" y="206.9" font-size="6.5" fill="#333" stroke="#333" stroke-width="0.1" text-anchor="middle">20</text>
<line x1="334.6" y1="195.0" x2="334.6" y2="197.9" stroke="#1c1c1c" stroke-width="0.9"/>
<text x="334.6" y="206.9" font-size="6.5" fill="#333" stroke="#333" stroke-width="0.1" text-anchor="middle">40</text>
<line x1="368.6" y1="195.0" x2="368.6" y2="197.9" stroke="#1c1c1c" stroke-width="0.9"/>
<text x="368.6" y="206.9" font-size="6.5" fill="#333" stroke="#333" stroke-width="0.1" text-anchor="middle">60</text>
<line x1="402.6" y1="195.0" x2="402.6" y2="197.9" stroke="#1c1c1c" stroke-width="0.9"/>
<text x="402.6" y="206.9" font-size="6.5" fill="#333" stroke="#333" stroke-width="0.1" text-anchor="middle">80</text>
<line x1="268.2" y1="37.0" x2="268.2" y2="70.0" stroke="#111" stroke-width="1.1"/>
<line x1="268.2" y1="142.0" x2="268.2" y2="195.0" stroke="#111" stroke-width="1.1"/>
<path d="M268.2 30.6 L271.0 38.3 L265.4 38.3 Z" fill="#111"/>
<text x="269.6" y="106.2" font-size="7.3" fill="#222" stroke="#222" stroke-width="0.1" text-anchor="middle" textLength="67" lengthAdjust="spacingAndGlyphs" font-style="italic" transform="rotate(-90 269.6 106.2)">Normalized abundance</text>
<line x1="291.0" y1="216.3" x2="337.3" y2="216.3" stroke="#111" stroke-width="1.1"/>
<line x1="373.8" y1="216.3" x2="415.0" y2="216.3" stroke="#111" stroke-width="1.1"/>
<path d="M420.6 216.3 L413.2 213.6 L413.2 219.0 Z" fill="#111"/>
<text x="339.6" y="219.2" font-size="8.4" fill="#222" stroke="#222" stroke-width="0.1" textLength="31.4" lengthAdjust="spacingAndGlyphs">Donor age</text>
<text x="425.4" y="37.2" font-size="6.6" fill="#333" stroke="#333" stroke-width="0.1" textLength="17.4" lengthAdjust="spacingAndGlyphs">Donor</text>
<rect x="427.20" y="39.50" width="2.80" height="2.60" fill="#1a1840"/>
<text x="433.3" y="42.6" font-size="6.6" fill="#333" stroke="#333" stroke-width="0.1" textLength="11.4" lengthAdjust="spacingAndGlyphs">Age</text>
<text x="425.4" y="75.0" font-size="6.6" fill="#333" stroke="#333" stroke-width="0.1" textLength="11.0" lengthAdjust="spacingAndGlyphs">Sex</text>
<rect x="427.20" y="77.60" width="2.80" height="2.60" fill="#c07468"/>
<text x="433.3" y="80.7" font-size="6.6" fill="#333" stroke="#333" stroke-width="0.1" textLength="21.3" lengthAdjust="spacingAndGlyphs">Female</text>
<rect x="427.20" y="83.50" width="2.80" height="2.60" fill="#78b2aa"/>
<text x="433.3" y="86.6" font-size="6.6" fill="#333" stroke="#333" stroke-width="0.1" textLength="13.9" lengthAdjust="spacingAndGlyphs">Male</text>
<text x="425.4" y="116.3" font-size="6.6" fill="#333" stroke="#333" stroke-width="0.1" textLength="11.4" lengthAdjust="spacingAndGlyphs">BMI</text>
<rect x="427.20" y="118.90" width="2.80" height="2.60" fill="#a87888"/>
<text x="433.3" y="122.0" font-size="6.6" fill="#333" stroke="#333" stroke-width="0.1" textLength="10.9" lengthAdjust="spacingAndGlyphs">&lt;25</text>
<rect x="427.20" y="124.80" width="2.80" height="2.60" fill="#7a9a3c"/>
<text x="433.3" y="127.9" font-size="6.6" fill="#333" stroke="#333" stroke-width="0.1" textLength="16.4" lengthAdjust="spacingAndGlyphs">25-30</text>
<rect x="427.20" y="130.80" width="2.80" height="2.60" fill="#7fb0c0"/>
<text x="433.3" y="133.9" font-size="6.6" fill="#333" stroke="#333" stroke-width="0.1" textLength="16.4" lengthAdjust="spacingAndGlyphs">30-40</text>
<rect x="427.20" y="136.70" width="2.80" height="2.60" fill="#6a4a80"/>
<text x="433.3" y="139.8" font-size="6.6" fill="#333" stroke="#333" stroke-width="0.1" textLength="10.9" lengthAdjust="spacingAndGlyphs">&gt;40</text>
<text x="425.4" y="158.8" font-size="6.6" fill="#333" stroke="#333" stroke-width="0.1" textLength="24.2" lengthAdjust="spacingAndGlyphs">Ethnicity</text>
<rect x="427.20" y="161.30" width="2.80" height="2.60" fill="#c8466a"/>
<text x="433.3" y="164.4" font-size="6.6" fill="#333" stroke="#333" stroke-width="0.1" textLength="19.9" lengthAdjust="spacingAndGlyphs">African</text>
<rect x="427.20" y="167.25" width="2.80" height="2.60" fill="#7a9640"/>
<text x="433.3" y="170.3" font-size="6.6" fill="#333" stroke="#333" stroke-width="0.1" textLength="30.2" lengthAdjust="spacingAndGlyphs">Caucasian</text>
<rect x="427.20" y="173.20" width="2.80" height="2.60" fill="#40a8a8"/>
<text x="433.3" y="176.3" font-size="6.6" fill="#333" stroke="#333" stroke-width="0.1" textLength="30.2" lengthAdjust="spacingAndGlyphs">East Asian</text>
<rect x="427.20" y="179.15" width="2.80" height="2.60" fill="#70408a"/>
<text x="433.3" y="182.2" font-size="6.6" fill="#333" stroke="#333" stroke-width="0.1" textLength="34.2" lengthAdjust="spacingAndGlyphs">South Asian</text>
<rect x="427.20" y="185.10" width="2.80" height="2.60" fill="#68aca4"/>
<text x="433.3" y="188.2" font-size="6.6" fill="#333" stroke="#333" stroke-width="0.1" textLength="77.9" lengthAdjust="spacingAndGlyphs">Caribbean Island Hispanics</text>
<rect x="427.20" y="191.05" width="2.80" height="2.60" fill="#6a3a82"/>
<text x="433.3" y="194.1" font-size="6.6" fill="#333" stroke="#333" stroke-width="0.1" textLength="58.7" lengthAdjust="spacingAndGlyphs">Mexican and Central</text>
<text x="433.3" y="200.8" font-size="6.6" fill="#333" stroke="#333" stroke-width="0.1" textLength="56.6" lengthAdjust="spacingAndGlyphs">American Hispanics</text>
<rect x="427.20" y="204.30" width="2.80" height="2.60" fill="#6a5292"/>
<text x="433.3" y="207.4" font-size="6.6" fill="#333" stroke="#333" stroke-width="0.1" textLength="17.8" lengthAdjust="spacingAndGlyphs">Other:</text>
<text x="433.3" y="213.8" font-size="6.6" fill="#333" stroke="#333" stroke-width="0.1" textLength="67.2" lengthAdjust="spacingAndGlyphs">Alaska/Hawaiian/Native</text>
<text x="433.3" y="220.1" font-size="6.6" fill="#333" stroke="#333" stroke-width="0.1" textLength="80.4" lengthAdjust="spacingAndGlyphs">Americans, Pacific Islanders</text>
<text x="7.4" y="248.0" font-size="11.8" fill="#111" font-weight="bold">B</text>
<text x="11.8" y="260.5" font-size="8.8" fill="#222" stroke="#222" stroke-width="0.1" textLength="117.8" lengthAdjust="spacingAndGlyphs">Day 42 L-Carnitine distribution</text>
<line x1="14.8" y1="266.0" x2="14.8" y2="347.0" stroke="#e4e4e4" stroke-width="0.8"/>
<line x1="29.2" y1="266.0" x2="29.2" y2="347.0" stroke="#e4e4e4" stroke-width="0.8"/>
<line x1="43.7" y1="266.0" x2="43.7" y2="347.0" stroke="#e4e4e4" stroke-width="0.8"/>
<line x1="58.1" y1="266.0" x2="58.1" y2="347.0" stroke="#e4e4e4" stroke-width="0.8"/>
<line x1="72.6" y1="266.0" x2="72.6" y2="347.0" stroke="#e4e4e4" stroke-width="0.8"/>
<line x1="87.0" y1="266.0" x2="87.0" y2="347.0" stroke="#e4e4e4" stroke-width="0.8"/>
<line x1="101.5" y1="266.0" x2="101.5" y2="347.0" stroke="#e4e4e4" stroke-width="0.8"/>
<line x1="115.9" y1="266.0" x2="115.9" y2="347.0" stroke="#e4e4e4" stroke-width="0.8"/>
<line x1="130.4" y1="266.0" x2="130.4" y2="347.0" stroke="#e4e4e4" stroke-width="0.8"/>
<rect x="14.80" y="283.60" width="10.50" height="63.40" fill="#fbf7f2"/>
<rect x="86.30" y="283.60" width="41.50" height="63.40" fill="#e8c0c7" stroke="#b87080" stroke-width="0.8"/>
<line x1="87.0" y1="284.0" x2="87.0" y2="347.0" stroke="#d8a8b2" stroke-width="0.7"/>
<line x1="101.5" y1="284.0" x2="101.5" y2="347.0" stroke="#d8a8b2" stroke-width="0.7"/>
<line x1="115.9" y1="284.0" x2="115.9" y2="347.0" stroke="#d8a8b2" stroke-width="0.7"/>
<path d="M14.8 298.9 L18.0 298.6 L21.8 297.4 L25.3 294.0 L29.6 286.4 L34.0 281.2 L38.0 278.9 L41.2 278.3 L44.5 279.3 L47.8 282.0 L51.0 285.0 L54.7 288.2 L59.0 291.0 L63.4 293.3 L68.0 295.2 L73.8 296.8 L80.0 297.8 L86.0 298.4 L95.0 298.8 L100.0 298.9 Z" fill="#3d5e92"/>
<line x1="14.8" y1="299.0" x2="86.3" y2="299.0" stroke="#3d5e92" stroke-width="0.6"/>
<line x1="86.3" y1="299.0" x2="127.8" y2="299.0" stroke="#7a4050" stroke-width="0.6"/>
<line x1="14.8" y1="312.9" x2="75.5" y2="312.9" stroke="#b0b0b0" stroke-width="0.9"/>
<rect x="36.60" y="307.50" width="15.90" height="11.00" fill="#fff" stroke="#8c8c8c" stroke-width="0.8"/>
<line x1="43.4" y1="307.5" x2="43.4" y2="318.5" stroke="#8c8c8c" stroke-width="0.8"/>
<circle cx="45.6" cy="313" r="1.2" fill="#7a1426"/>
<line x1="75.5" y1="312.9" x2="103.5" y2="312.9" stroke="#1a1012" stroke-width="1.9"/>
<circle cx="104.6" cy="312.9" r="0.95" fill="#1a1012"/>
<circle cx="106.3" cy="312.9" r="0.95" fill="#1a1012"/>
<circle cx="108.2" cy="312.9" r="0.95" fill="#1a1012"/>
<circle cx="110.0" cy="312.9" r="0.95" fill="#1a1012"/>
<circle cx="112.5" cy="312.9" r="0.95" fill="#1a1012"/>
<circle cx="115.7" cy="312.9" r="0.95" fill="#1a1012"/>
<circle cx="119.0" cy="312.9" r="0.95" fill="#1a1012"/>
<circle cx="122.3" cy="312.9" r="0.95" fill="#1a1012"/>
<circle cx="125.5" cy="312.9" r="0.95" fill="#1a1012"/>
<rect x="23.60" y="319.80" width="42.40" height="13.80" fill="#3b5cad"/>
<defs><linearGradient id="jf" x1="0" y1="0" x2="1" y2="0"><stop offset="0" stop-color="#3b5cad"/><stop offset="1" stop-color="#3b5cad" stop-opacity="0.25"/></linearGradient></defs>
<rect x="66.00" y="319.80" width="20.30" height="13.80" fill="url(#jf)"/>
<path d="M15.3 322.5h0.8M19.1 328.0h0.8M19.4 328.9h0.8M21.5 329.4h0.8M22.2 325.8h0.8M17.7 326.2h0.8M23.8 327.8h0.8M17.7 325.7h0.8M24.2 326.9h0.8M22.5 332.2h0.8M19.2 326.3h0.8M15.1 322.3h0.8M23.1 324.2h0.8M22.1 325.5h0.8M20.8 321.6h0.8M20.8 329.6h0.8M21.3 325.5h0.8M21.5 332.3h0.8M19.2 323.2h0.8M18.9 330.3h0.8M22.7 322.0h0.8M21.4 326.9h0.8M19.7 321.2h0.8M23.3 330.8h0.8M19.3 329.8h0.8M23.9 323.8h0.8M23.5 326.3h0.8M16.3 325.7h0.8M15.0 331.6h0.8" stroke="#b5c2e0" stroke-width="0.8" fill="none"/>
<path d="M24.0 331.0h0.8M20.4 324.0h0.8M18.7 322.5h0.8M21.2 321.7h0.8M20.1 332.6h0.8M16.9 332.7h0.8M20.5 322.1h0.8M23.9 331.2h0.8M21.9 322.8h0.8M18.5 325.5h0.8M19.2 325.6h0.8M15.9 333.1h0.8M19.8 330.8h0.8M14.9 328.4h0.8M16.3 332.4h0.8M18.2 324.3h0.8M24.3 321.0h0.8M17.6 320.6h0.8M15.3 330.6h0.8M19.8 321.1h0.8M15.1 331.3h0.8M18.3 331.0h0.8M22.0 329.9h0.8M24.4 331.0h0.8M21.1 331.2h0.8M16.8 324.5h0.8M16.7 322.2h0.8M21.5 320.9h0.8M18.5 322.0h0.8" stroke="#8fa3d0" stroke-width="0.8" fill="none"/>
<path d="M17.6 332.6h0.8M23.4 330.0h0.8M15.4 331.6h0.8M20.8 323.4h0.8M24.4 333.3h0.8M21.6 332.5h0.8M20.3 333.2h0.8M19.1 330.9h0.8M24.1 321.3h0.8M18.3 325.5h0.8M17.1 320.6h0.8M20.2 326.3h0.8M16.4 328.2h0.8M23.0 330.7h0.8M14.9 323.3h0.8M21.3 325.6h0.8M22.6 321.1h0.8M18.5 329.2h0.8M23.4 332.6h0.8M21.2 329.1h0.8M20.1 324.5h0.8M19.3 328.9h0.8M19.7 326.6h0.8M15.4 329.8h0.8M19.7 324.8h0.8M22.0 332.9h0.8M20.4 325.0h0.8M22.5 329.6h0.8M24.2 328.7h0.8M22.1 333.3h0.8M20.5 323.6h0.8M22.0 329.2h0.8" stroke="#6f88c4" stroke-width="0.8" fill="none"/>
<path d="M90.2 332.3h0.8M86.7 332.6h0.8M89.9 331.1h0.8M91.8 324.7h0.8M87.7 326.1h0.8M94.3 325.6h0.8M90.9 329.2h0.8M92.9 323.6h0.8M88.2 330.2h0.8M86.9 328.9h0.8M96.9 323.0h0.8M100.8 331.1h0.8M87.9 323.8h0.8M96.9 329.6h0.8M93.9 328.5h0.8M95.9 324.3h0.8M86.4 327.4h0.8M99.8 331.5h0.8M87.8 330.8h0.8M89.1 326.3h0.8M87.0 332.1h0.8M87.8 332.3h0.8M94.1 323.0h0.8M93.8 328.3h0.8M86.6 330.9h0.8M91.1 326.1h0.8M99.1 322.9h0.8M89.1 321.2h0.8M87.8 322.5h0.8M117.4 330.2h0.8M91.9 326.4h0.8M92.3 327.8h0.8M93.4 328.7h0.8M104.8 326.3h0.8M89.4 333.1h0.8M89.6 328.5h0.8M91.7 320.6h0.8M89.6 332.3h0.8" stroke="#3b5cad" stroke-width="0.8" fill="none"/>
<path d="M87.0 322.1h0.8M97.3 327.8h0.8M95.2 323.5h0.8M89.8 329.3h0.8M91.1 328.7h0.8M90.3 331.4h0.8M102.9 325.9h0.8M87.7 331.7h0.8M87.2 329.0h0.8M86.5 332.9h0.8M93.3 323.9h0.8M86.6 320.6h0.8M92.5 322.3h0.8M88.0 332.7h0.8M86.7 321.8h0.8M103.7 320.2h0.8M86.9 330.6h0.8M89.2 324.8h0.8M101.7 324.0h0.8M87.5 321.4h0.8M93.5 324.0h0.8M103.5 329.2h0.8M90.0 326.1h0.8M86.5 327.1h0.8M87.6 326.6h0.8M101.3 332.5h0.8M92.9 325.4h0.8M86.3 328.5h0.8M99.3 332.7h0.8M86.9 326.9h0.8M90.4 322.8h0.8M87.4 324.8h0.8M98.6 327.5h0.8" stroke="#5a6ab0" stroke-width="0.8" fill="none"/>
<path d="M93.5 320.8h0.8M90.1 323.1h0.8M89.9 329.9h0.8M87.3 323.0h0.8M86.5 330.1h0.8M88.9 324.7h0.8M89.4 328.6h0.8M88.2 321.1h0.8M99.1 333.3h0.8M103.4 331.5h0.8M91.8 329.0h0.8M91.2 328.3h0.8M87.0 320.7h0.8M96.3 321.5h0.8M91.4 322.5h0.8M97.9 326.9h0.8M91.6 326.1h0.8M90.9 323.7h0.8M94.1 320.3h0.8" stroke="#4a5aa0" stroke-width="0.8" fill="none"/>
<path d="M102.9 322.8h0.8M92.6 320.7h0.8M86.4 326.6h0.8M86.5 320.9h0.8M95.1 320.1h0.8M87.2 332.2h0.8M90.1 324.9h0.8M93.4 327.3h0.8M87.4 326.6h0.8M87.1 320.3h0.8M91.8 329.2h0.8M87.2 328.6h0.8M102.5 333.2h0.8M90.6 327.5h0.8M91.7 329.6h0.8M88.1 326.0h0.8M102.3 325.4h0.8M91.9 326.5h0.8M92.0 322.6h0.8M88.7 325.1h0.8M88.0 326.5h0.8M95.8 331.9h0.8M87.2 325.2h0.8M94.7 326.3h0.8M87.2 320.1h0.8M90.6 330.2h0.8M88.2 324.4h0.8M102.5 329.6h0.8M91.7 322.0h0.8" stroke="#6a4a78" stroke-width="0.8" fill="none"/>
<path d="M74.4 331.2h0.9M73.0 320.4h0.9M82.0 326.5h0.9M69.0 332.5h0.9M83.7 328.1h0.9M82.7 330.6h0.9M78.1 326.3h0.9M80.8 323.1h0.9M71.1 331.5h0.9M68.8 323.6h0.9M75.9 321.2h0.9M81.7 321.8h0.9M85.6 328.3h0.9M70.8 322.0h0.9M71.9 321.0h0.9M83.2 320.8h0.9M71.3 327.1h0.9M72.8 322.1h0.9M77.2 330.0h0.9M72.9 327.1h0.9M85.2 333.2h0.9M81.0 322.4h0.9M70.7 328.5h0.9M86.3 330.2h0.9M73.4 324.5h0.9M86.2 326.8h0.9M72.8 321.1h0.9M69.3 324.0h0.9M86.3 328.9h0.9M84.9 333.1h0.9M67.3 332.9h0.9M86.2 322.7h0.9M78.6 329.5h0.9M82.9 323.5h0.9M78.2 329.3h0.9M79.1 323.5h0.9M83.2 325.9h0.9M70.0 328.6h0.9M75.0 326.9h0.9M84.9 323.2h0.9M85.2 328.5h0.9" stroke="#c8d2ea" stroke-width="0.9" fill="none"/>
<path d="M71.7 324.8h0.9M75.1 324.8h0.9M63.9 321.1h0.9M71.4 323.8h0.9M73.6 333.3h0.9M79.5 323.2h0.9M63.4 330.1h0.9M76.0 327.9h0.9M75.6 330.6h0.9M67.3 326.3h0.9M65.2 331.4h0.9M78.8 328.4h0.9M64.0 329.7h0.9M72.9 329.6h0.9M64.3 329.8h0.9M64.0 324.5h0.9M62.0 320.0h0.9M65.0 327.8h0.9M68.2 333.0h0.9M68.2 328.6h0.9M76.6 326.0h0.9M71.8 331.5h0.9M68.6 325.6h0.9M82.5 325.0h0.9M80.0 326.5h0.9M62.0 332.6h0.9M62.4 326.6h0.9M62.3 330.9h0.9M71.0 327.9h0.9M68.7 328.1h0.9M68.4 320.0h0.9M67.5 325.0h0.9M76.3 329.6h0.9M67.4 324.8h0.9M78.9 329.8h0.9M82.7 325.9h0.9M73.1 324.5h0.9M78.6 327.8h0.9M63.4 328.6h0.9M69.7 330.5h0.9M78.8 326.7h0.9M77.8 320.1h0.9M66.9 327.5h0.9M76.0 327.2h0.9M74.2 321.3h0.9M78.3 322.9h0.9M65.8 326.0h0.9" stroke="#4a68b4" stroke-width="0.9" fill="none"/>
<path d="M77.1 331.8h0.9M77.2 322.7h0.9M64.3 320.5h0.9M80.9 322.2h0.9M74.3 332.5h0.9M73.9 320.7h0.9M85.6 328.3h0.9M81.5 327.3h0.9M80.1 333.1h0.9M83.3 323.5h0.9M70.6 329.5h0.9M64.9 330.2h0.9M79.8 320.3h0.9M84.6 324.8h0.9M70.9 328.7h0.9M83.5 329.4h0.9M86.8 320.1h0.9M84.3 327.0h0.9M63.9 324.9h0.9M74.3 325.6h0.9M80.8 324.1h0.9M82.7 331.2h0.9M78.1 323.4h0.9M84.7 327.4h0.9M86.7 328.2h0.9M71.7 326.7h0.9M84.6 332.1h0.9M73.7 325.5h0.9M81.8 328.2h0.9M69.3 320.9h0.9M79.5 331.3h0.9M83.3 328.9h0.9M71.8 333.4h0.9M77.7 322.8h0.9M82.9 329.9h0.9M66.0 321.0h0.9M82.4 329.6h0.9M82.0 323.9h0.9M79.2 321.7h0.9M75.5 324.3h0.9M76.7 328.0h0.9M78.6 322.8h0.9M79.8 324.4h0.9" stroke="#8fa3d0" stroke-width="0.9" fill="none"/>
<path d="M85.5 322.1h0.9M78.1 322.4h0.9M84.1 320.4h0.9M80.4 330.0h0.9M86.8 320.4h0.9M77.8 328.5h0.9M79.3 330.8h0.9M77.7 324.8h0.9M68.9 321.0h0.9M77.7 321.1h0.9M80.1 332.4h0.9M80.6 330.6h0.9M85.0 329.4h0.9M84.1 323.0h0.9M84.4 321.6h0.9M74.9 327.1h0.9M80.5 328.8h0.9M82.8 332.4h0.9M67.1 332.5h0.9M77.4 328.3h0.9M81.3 325.4h0.9M72.3 322.6h0.9M66.9 332.2h0.9M83.1 331.4h0.9M73.7 330.3h0.9M78.0 325.3h0.9M83.2 332.8h0.9M77.6 321.5h0.9M82.3 333.5h0.9M73.6 328.6h0.9M78.4 332.9h0.9M72.6 322.7h0.9M85.9 327.9h0.9M83.5 324.2h0.9M69.0 327.3h0.9M77.6 331.8h0.9M83.8 331.8h0.9M78.7 330.5h0.9M85.8 332.4h0.9M80.2 324.1h0.9M73.3 321.2h0.9M77.4 324.3h0.9M84.9 324.0h0.9" stroke="#ffffff" stroke-width="0.9" fill="none"/>
<path d="M71.2 324.8h0.9M65.6 320.4h0.9M79.1 330.1h0.9M67.5 333.1h0.9M74.0 327.6h0.9M81.7 331.6h0.9M71.1 325.3h0.9M79.9 323.1h0.9M71.5 324.5h0.9M70.8 320.6h0.9M63.6 326.7h0.9M62.5 329.8h0.9M80.8 327.3h0.9M72.3 331.7h0.9M76.0 330.5h0.9M81.0 327.3h0.9M64.5 327.9h0.9M63.1 330.6h0.9M68.9 332.1h0.9M76.9 325.3h0.9M64.3 329.9h0.9M62.8 324.6h0.9M65.1 328.6h0.9M70.9 323.5h0.9M63.4 320.6h0.9M62.3 327.8h0.9M74.1 320.4h0.9M69.8 327.4h0.9M68.3 321.6h0.9M62.7 331.9h0.9M73.3 328.7h0.9M67.2 330.1h0.9M62.3 332.5h0.9M65.7 328.7h0.9M64.4 320.3h0.9M76.1 322.1h0.9M76.6 322.9h0.9M74.0 332.4h0.9M64.4 331.1h0.9M64.3 332.9h0.9M63.0 330.3h0.9M66.2 329.7h0.9M63.9 323.9h0.9" stroke="#3b5cad" stroke-width="0.9" fill="none"/>
<path d="M74.0 333.4h0.9M84.9 321.7h0.9M78.8 320.4h0.9M84.4 326.6h0.9M86.6 329.4h0.9M83.3 325.5h0.9M72.2 320.3h0.9M84.0 332.6h0.9M80.8 329.6h0.9M83.9 331.1h0.9M80.4 324.8h0.9M77.0 330.6h0.9M76.7 330.5h0.9M73.1 329.7h0.9M82.0 332.1h0.9M79.7 320.1h0.9M83.6 321.7h0.9M78.2 332.1h0.9M79.6 323.2h0.9M83.6 321.2h0.9M78.4 327.4h0.9M81.3 328.9h0.9M84.4 324.8h0.9M79.3 329.0h0.9M68.7 327.1h0.9M68.2 329.1h0.9M69.9 326.6h0.9M82.7 332.8h0.9M81.1 326.7h0.9M73.1 321.6h0.9M81.2 327.5h0.9M81.5 326.8h0.9M77.0 325.6h0.9M79.8 328.5h0.9M77.9 332.7h0.9M70.4 326.5h0.9M86.4 324.7h0.9" stroke="#b5c2e0" stroke-width="0.9" fill="none"/>
<path d="M77.5 329.8h0.9M78.0 320.6h0.9M71.1 325.9h0.9M73.1 325.1h0.9M65.1 331.4h0.9M72.9 329.4h0.9M70.1 329.5h0.9M71.4 331.9h0.9M75.0 321.9h0.9M80.4 326.8h0.9M67.3 327.2h0.9M78.5 326.6h0.9M64.0 327.7h0.9M65.9 329.3h0.9M76.7 324.9h0.9M74.6 329.4h0.9M66.3 322.4h0.9M68.1 329.5h0.9M64.6 323.3h0.9M63.2 321.3h0.9M70.4 323.1h0.9M62.3 325.7h0.9M63.4 320.4h0.9M81.1 328.7h0.9M71.5 327.6h0.9M76.4 322.1h0.9M65.7 322.1h0.9M67.1 329.4h0.9M78.2 326.3h0.9M62.5 329.7h0.9M80.6 328.2h0.9M64.8 324.8h0.9M64.7 327.6h0.9M70.1 320.5h0.9M71.4 329.3h0.9M74.0 328.0h0.9M67.5 330.2h0.9M81.9 327.1h0.9M66.1 328.8h0.9M64.7 331.3h0.9M65.0 323.5h0.9M82.2 330.6h0.9M74.8 329.2h0.9M67.1 331.2h0.9M73.3 328.6h0.9M69.4 330.2h0.9" stroke="#5a78c0" stroke-width="0.9" fill="none"/>
<rect x="9.30" y="265.40" width="123.00" height="81.80" fill="none" stroke="#111" stroke-width="1.0"/>
<line x1="14.8" y1="347.2" x2="14.8" y2="350.0" stroke="#111" stroke-width="0.9"/>
<text x="14.8" y="358.8" font-size="6.3" fill="#333" stroke="#333" stroke-width="0.1" text-anchor="middle">0.0</text>
<line x1="29.2" y1="347.2" x2="29.2" y2="350.0" stroke="#111" stroke-width="0.9"/>
<text x="29.2" y="358.8" font-size="6.3" fill="#333" stroke="#333" stroke-width="0.1" text-anchor="middle">0.5</text>
<line x1="43.7" y1="347.2" x2="43.7" y2="350.0" stroke="#111" stroke-width="0.9"/>
<text x="43.7" y="358.8" font-size="6.3" fill="#333" stroke="#333" stroke-width="0.1" text-anchor="middle">1.0</text>
<line x1="58.1" y1="347.2" x2="58.1" y2="350.0" stroke="#111" stroke-width="0.9"/>
<text x="58.1" y="358.8" font-size="6.3" fill="#333" stroke="#333" stroke-width="0.1" text-anchor="middle">1.5</text>
<line x1="72.6" y1="347.2" x2="72.6" y2="350.0" stroke="#111" stroke-width="0.9"/>
<text x="72.6" y="358.8" font-size="6.3" fill="#333" stroke="#333" stroke-width="0.1" text-anchor="middle">2.0</text>
<line x1="87.0" y1="347.2" x2="87.0" y2="350.0" stroke="#111" stroke-width="0.9"/>
<text x="87.0" y="358.8" font-size="6.3" fill="#333" stroke="#333" stroke-width="0.1" text-anchor="middle">2.5</text>
<line x1="101.5" y1="347.2" x2="101.5" y2="350.0" stroke="#111" stroke-width="0.9"/>
<text x="101.5" y="358.8" font-size="6.3" fill="#333" stroke="#333" stroke-width="0.1" text-anchor="middle">3.0</text>
<line x1="115.9" y1="347.2" x2="115.9" y2="350.0" stroke="#111" stroke-width="0.9"/>
<text x="115.9" y="358.8" font-size="6.3" fill="#333" stroke="#333" stroke-width="0.1" text-anchor="middle">3.5</text>
<line x1="130.4" y1="347.2" x2="130.4" y2="350.0" stroke="#111" stroke-width="0.9"/>
<text x="130.4" y="358.8" font-size="6.3" fill="#333" stroke="#333" stroke-width="0.1" text-anchor="middle">4.0</text>
<text x="27.0" y="368.9" font-size="6.5" fill="#efdfd3" stroke="#efdfd3" stroke-width="0.1" text-anchor="middle" textLength="39.7" lengthAdjust="spacingAndGlyphs">Low Carnitine</text>
<text x="27.0" y="375.3" font-size="6.5" fill="#efdfd3" stroke="#efdfd3" stroke-width="0.1" text-anchor="middle">n = 500</text>
<text x="107.2" y="369.3" font-size="6.6" fill="#a8304f" stroke="#a8304f" stroke-width="0.1" text-anchor="middle" textLength="41.8" lengthAdjust="spacingAndGlyphs">High Carnitine</text>
<text x="107.2" y="375.2" font-size="6.6" fill="#a8304f" stroke="#a8304f" stroke-width="0.1" text-anchor="middle">n = 500</text>
<text x="146.9" y="248.6" font-size="11.8" fill="#111" font-weight="bold">C</text>
<text x="194.6" y="252.9" font-size="9.5" fill="#222" stroke="#222" stroke-width="0.1" text-anchor="middle" textLength="32.3" lengthAdjust="spacingAndGlyphs">Additive</text>
<text x="194.6" y="262.5" font-size="9.5" fill="#222" stroke="#222" stroke-width="0.1" text-anchor="middle" textLength="30.6" lengthAdjust="spacingAndGlyphs">solution</text>
<rect x="179.20" y="273.09" width="6.40" height="79.31" fill="#c46e1c"/>
<rect x="185.60" y="280.79" width="6.20" height="71.61" fill="#6b3a16"/>
<rect x="198.00" y="280.79" width="6.30" height="71.61" fill="#c46e1c"/>
<rect x="204.30" y="273.09" width="6.40" height="79.31" fill="#6b3a16"/>
<line x1="172.5" y1="267.5" x2="172.5" y2="352.9" stroke="#1a1a1a" stroke-width="0.9"/>
<line x1="169.5" y1="352.4" x2="172.5" y2="352.4" stroke="#1a1a1a" stroke-width="0.9"/>
<text x="166.6" y="354.8" font-size="6.6" fill="#333" stroke="#333" stroke-width="0.1" text-anchor="end">0</text>
<line x1="169.5" y1="337.0" x2="172.5" y2="337.0" stroke="#1a1a1a" stroke-width="0.9"/>
<text x="166.6" y="339.4" font-size="6.6" fill="#333" stroke="#333" stroke-width="0.1" text-anchor="end">10</text>
<line x1="169.5" y1="321.6" x2="172.5" y2="321.6" stroke="#1a1a1a" stroke-width="0.9"/>
<text x="166.6" y="323.9" font-size="6.6" fill="#333" stroke="#333" stroke-width="0.1" text-anchor="end">20</text>
<line x1="169.5" y1="306.2" x2="172.5" y2="306.2" stroke="#1a1a1a" stroke-width="0.9"/>
<text x="166.6" y="308.6" font-size="6.6" fill="#333" stroke="#333" stroke-width="0.1" text-anchor="end">30</text>
<line x1="169.5" y1="290.8" x2="172.5" y2="290.8" stroke="#1a1a1a" stroke-width="0.9"/>
<text x="166.6" y="293.1" font-size="6.6" fill="#333" stroke="#333" stroke-width="0.1" text-anchor="end">40</text>
<line x1="169.5" y1="275.4" x2="172.5" y2="275.4" stroke="#1a1a1a" stroke-width="0.9"/>
<text x="166.6" y="277.8" font-size="6.6" fill="#333" stroke="#333" stroke-width="0.1" text-anchor="end">50</text>
<line x1="172.5" y1="352.4" x2="217.1" y2="352.4" stroke="#1a1a1a" stroke-width="1.0"/>
<line x1="185.4" y1="352.4" x2="185.4" y2="355.2" stroke="#1a1a1a" stroke-width="0.9"/>
<line x1="204.2" y1="352.4" x2="204.2" y2="355.2" stroke="#1a1a1a" stroke-width="0.9"/>
<text x="188.6" y="361.6" font-size="6.6" fill="#333" stroke="#333" stroke-width="0.1" text-anchor="end" transform="rotate(-45 188.6 361.6)">AS1</text>
<text x="207.6" y="361.6" font-size="6.6" fill="#333" stroke="#333" stroke-width="0.1" text-anchor="end" transform="rotate(-45 207.6 361.6)">AS3</text>
<text x="154.0" y="309.6" font-size="8.0" fill="#333" stroke="#333" stroke-width="0.1" text-anchor="middle" textLength="28" lengthAdjust="spacingAndGlyphs" transform="rotate(-90 154.0 309.6)">% of total</text>
<text x="229.4" y="248.6" font-size="11.8" fill="#111" font-weight="bold">D</text>
<text x="277.1" y="262.8" font-size="9.5" fill="#222" stroke="#222" stroke-width="0.1" text-anchor="middle" textLength="13.9" lengthAdjust="spacingAndGlyphs">Sex</text>
<rect x="261.10" y="272.73" width="6.30" height="79.67" fill="#c46e1c"/>
<rect x="267.40" y="306.40" width="6.30" height="46.00" fill="#6b3a16"/>
<rect x="280.30" y="306.40" width="6.20" height="46.00" fill="#c46e1c"/>
<rect x="286.50" y="272.73" width="6.30" height="79.67" fill="#6b3a16"/>
<line x1="254.4" y1="268.5" x2="254.4" y2="352.9" stroke="#1a1a1a" stroke-width="0.9"/>
<line x1="251.4" y1="352.4" x2="254.4" y2="352.4" stroke="#1a1a1a" stroke-width="0.9"/>
<text x="248.4" y="354.8" font-size="6.6" fill="#333" stroke="#333" stroke-width="0.1" text-anchor="end">0</text>
<line x1="251.4" y1="339.5" x2="254.4" y2="339.5" stroke="#1a1a1a" stroke-width="0.9"/>
<text x="248.4" y="341.9" font-size="6.6" fill="#333" stroke="#333" stroke-width="0.1" text-anchor="end">10</text>
<line x1="251.4" y1="326.7" x2="254.4" y2="326.7" stroke="#1a1a1a" stroke-width="0.9"/>
<text x="248.4" y="329.1" font-size="6.6" fill="#333" stroke="#333" stroke-width="0.1" text-anchor="end">20</text>
<line x1="251.4" y1="313.8" x2="254.4" y2="313.8" stroke="#1a1a1a" stroke-width="0.9"/>
<text x="248.4" y="316.2" font-size="6.6" fill="#333" stroke="#333" stroke-width="0.1" text-anchor="end">30</text>
<line x1="251.4" y1="301.0" x2="254.4" y2="301.0" stroke="#1a1a1a" stroke-width="0.9"/>
<text x="248.4" y="303.4" font-size="6.6" fill="#333" stroke="#333" stroke-width="0.1" text-anchor="end">40</text>
<line x1="251.4" y1="288.1" x2="254.4" y2="288.1" stroke="#1a1a1a" stroke-width="0.9"/>
<text x="248.4" y="290.5" font-size="6.6" fill="#333" stroke="#333" stroke-width="0.1" text-anchor="end">50</text>
<line x1="251.4" y1="275.3" x2="254.4" y2="275.3" stroke="#1a1a1a" stroke-width="0.9"/>
<text x="248.4" y="277.6" font-size="6.6" fill="#333" stroke="#333" stroke-width="0.1" text-anchor="end">60</text>
<line x1="254.4" y1="352.4" x2="298.8" y2="352.4" stroke="#1a1a1a" stroke-width="1.0"/>
<line x1="267.4" y1="352.4" x2="267.4" y2="355.2" stroke="#1a1a1a" stroke-width="0.9"/>
<line x1="286.4" y1="352.4" x2="286.4" y2="355.2" stroke="#1a1a1a" stroke-width="0.9"/>
<text x="270.8" y="362.1" font-size="6.6" fill="#333" stroke="#333" stroke-width="0.1" text-anchor="end" transform="rotate(-45 270.8 362.1)">Female</text>
<text x="289.5" y="361.8" font-size="6.6" fill="#333" stroke="#333" stroke-width="0.1" text-anchor="end" transform="rotate(-45 289.5 361.8)">Male</text>
<text x="235.8" y="311.0" font-size="8.0" fill="#333" stroke="#333" stroke-width="0.1" text-anchor="middle" textLength="28" lengthAdjust="spacingAndGlyphs" transform="rotate(-90 235.8 311.0)">% of total</text>
<text x="311.3" y="248.6" font-size="11.8" fill="#111" font-weight="bold">E</text>
<text x="335.4" y="262.8" font-size="9.5" fill="#222" stroke="#222" stroke-width="0.1" text-anchor="middle" textLength="15.6" lengthAdjust="spacingAndGlyphs">Age</text>
<line x1="330.9" y1="272.0" x2="330.9" y2="312.0" stroke="#9a9a9a" stroke-width="1.3"/>
<line x1="340.1" y1="272.0" x2="340.1" y2="303.0" stroke="#9a9a9a" stroke-width="1.3"/>
<rect x="328.00" y="311.94" width="6.00" height="40.46" fill="#c46e1c"/>
<rect x="337.00" y="302.48" width="6.20" height="49.92" fill="#6b3a16"/>
<line x1="330.9" y1="312.0" x2="330.9" y2="335.0" stroke="#8a5a30" stroke-width="1.0"/>
<line x1="340.1" y1="303.0" x2="340.1" y2="342.0" stroke="#4a3020" stroke-width="1.0"/>
<line x1="324.4" y1="269.4" x2="324.4" y2="352.9" stroke="#1a1a1a" stroke-width="0.9"/>
<line x1="321.4" y1="352.4" x2="324.4" y2="352.4" stroke="#1a1a1a" stroke-width="0.9"/>
<text x="318.2" y="354.8" font-size="6.6" fill="#333" stroke="#333" stroke-width="0.1" text-anchor="end">0</text>
<line x1="321.4" y1="342.6" x2="324.4" y2="342.6" stroke="#1a1a1a" stroke-width="0.9"/>
<text x="318.2" y="345.0" font-size="6.6" fill="#333" stroke="#333" stroke-width="0.1" text-anchor="end">10</text>
<line x1="321.4" y1="332.9" x2="324.4" y2="332.9" stroke="#1a1a1a" stroke-width="0.9"/>
<text x="318.2" y="335.2" font-size="6.6" fill="#333" stroke="#333" stroke-width="0.1" text-anchor="end">20</text>
<line x1="321.4" y1="323.1" x2="324.4" y2="323.1" stroke="#1a1a1a" stroke-width="0.9"/>
<text x="318.2" y="325.5" font-size="6.6" fill="#333" stroke="#333" stroke-width="0.1" text-anchor="end">30</text>
<line x1="321.4" y1="313.4" x2="324.4" y2="313.4" stroke="#1a1a1a" stroke-width="0.9"/>
<text x="318.2" y="315.8" font-size="6.6" fill="#333" stroke="#333" stroke-width="0.1" text-anchor="end">40</text>
<line x1="321.4" y1="303.6" x2="324.4" y2="303.6" stroke="#1a1a1a" stroke-width="0.9"/>
<text x="318.2" y="306.0" font-size="6.6" fill="#333" stroke="#333" stroke-width="0.1" text-anchor="end">50</text>
<line x1="321.4" y1="293.9" x2="324.4" y2="293.9" stroke="#1a1a1a" stroke-width="0.9"/>
<text x="318.2" y="296.2" font-size="6.6" fill="#333" stroke="#333" stroke-width="0.1" text-anchor="end">60</text>
<line x1="321.4" y1="284.1" x2="324.4" y2="284.1" stroke="#1a1a1a" stroke-width="0.9"/>
<text x="318.2" y="286.5" font-size="6.6" fill="#333" stroke="#333" stroke-width="0.1" text-anchor="end">70</text>
<line x1="321.4" y1="274.4" x2="324.4" y2="274.4" stroke="#1a1a1a" stroke-width="0.9"/>
<text x="318.2" y="276.8" font-size="6.6" fill="#333" stroke="#333" stroke-width="0.1" text-anchor="end">80</text>
<line x1="324.4" y1="352.4" x2="346.0" y2="352.4" stroke="#1a1a1a" stroke-width="1.0"/>
<line x1="330.9" y1="352.4" x2="330.9" y2="355.2" stroke="#1a1a1a" stroke-width="0.9"/>
<line x1="340.1" y1="352.4" x2="340.1" y2="355.2" stroke="#1a1a1a" stroke-width="0.9"/>
<text x="332.0" y="362.6" font-size="6.6" fill="#333" stroke="#333" stroke-width="0.1" text-anchor="end" transform="rotate(-45 332.0 362.6)">Low</text>
<text x="343.6" y="361.9" font-size="6.6" fill="#333" stroke="#333" stroke-width="0.1" text-anchor="end" transform="rotate(-45 343.6 361.9)">High</text>
<text x="358.8" y="248.6" font-size="11.8" fill="#111" font-weight="bold">F</text>
<text x="382.6" y="262.6" font-size="9.5" fill="#222" stroke="#222" stroke-width="0.1" text-anchor="middle" textLength="15.3" lengthAdjust="spacingAndGlyphs">BMI</text>
<line x1="378.0" y1="289.3" x2="378.0" y2="321.0" stroke="#9a9a9a" stroke-width="1.3"/>
<line x1="387.0" y1="271.8" x2="387.0" y2="320.0" stroke="#9a9a9a" stroke-width="1.3"/>
<rect x="374.90" y="320.90" width="6.20" height="31.50" fill="#c46e1c"/>
<rect x="383.80" y="319.39" width="6.30" height="33.01" fill="#6b3a16"/>
<line x1="378.0" y1="321.0" x2="378.0" y2="333.0" stroke="#8a5a30" stroke-width="1.0"/>
<line x1="387.0" y1="320.0" x2="387.0" y2="333.0" stroke="#4a3020" stroke-width="1.0"/>
<line x1="371.6" y1="268.7" x2="371.6" y2="352.9" stroke="#1a1a1a" stroke-width="0.9"/>
<line x1="368.6" y1="352.4" x2="371.6" y2="352.4" stroke="#1a1a1a" stroke-width="0.9"/>
<text x="366.2" y="354.8" font-size="6.6" fill="#333" stroke="#333" stroke-width="0.1" text-anchor="end">0</text>
<line x1="368.6" y1="339.8" x2="371.6" y2="339.8" stroke="#1a1a1a" stroke-width="0.9"/>
<text x="366.2" y="342.1" font-size="6.6" fill="#333" stroke="#333" stroke-width="0.1" text-anchor="end">10</text>
<line x1="368.6" y1="327.2" x2="371.6" y2="327.2" stroke="#1a1a1a" stroke-width="0.9"/>
<text x="366.2" y="329.6" font-size="6.6" fill="#333" stroke="#333" stroke-width="0.1" text-anchor="end">20</text>
<line x1="368.6" y1="314.6" x2="371.6" y2="314.6" stroke="#1a1a1a" stroke-width="0.9"/>
<text x="366.2" y="316.9" font-size="6.6" fill="#333" stroke="#333" stroke-width="0.1" text-anchor="end">30</text>
<line x1="368.6" y1="302.0" x2="371.6" y2="302.0" stroke="#1a1a1a" stroke-width="0.9"/>
<text x="366.2" y="304.4" font-size="6.6" fill="#333" stroke="#333" stroke-width="0.1" text-anchor="end">40</text>
<line x1="368.6" y1="289.4" x2="371.6" y2="289.4" stroke="#1a1a1a" stroke-width="0.9"/>
<text x="366.2" y="291.8" font-size="6.6" fill="#333" stroke="#333" stroke-width="0.1" text-anchor="end">50</text>
<line x1="368.6" y1="276.8" x2="371.6" y2="276.8" stroke="#1a1a1a" stroke-width="0.9"/>
<text x="366.2" y="279.1" font-size="6.6" fill="#333" stroke="#333" stroke-width="0.1" text-anchor="end">60</text>
<line x1="371.6" y1="352.4" x2="393.6" y2="352.4" stroke="#1a1a1a" stroke-width="1.0"/>
<line x1="378.0" y1="352.4" x2="378.0" y2="355.2" stroke="#1a1a1a" stroke-width="0.9"/>
<line x1="387.0" y1="352.4" x2="387.0" y2="355.2" stroke="#1a1a1a" stroke-width="0.9"/>
<text x="379.6" y="362.6" font-size="6.6" fill="#333" stroke="#333" stroke-width="0.1" text-anchor="end" transform="rotate(-45 379.6 362.6)">Low</text>
<text x="390.6" y="361.9" font-size="6.6" fill="#333" stroke="#333" stroke-width="0.1" text-anchor="end" transform="rotate(-45 390.6 361.9)">High</text>
<text x="405.8" y="248.6" font-size="11.8" fill="#111" font-weight="bold">G</text>
<text x="472.4" y="262.8" font-size="9.5" fill="#222" stroke="#222" stroke-width="0.1" text-anchor="middle" textLength="32.9" lengthAdjust="spacingAndGlyphs">Ethnicity</text>
<rect x="437.80" y="304.20" width="6.40" height="48.20" fill="#c46e1c"/>
<rect x="444.20" y="304.20" width="6.30" height="48.20" fill="#6b3a16"/>
<rect x="456.50" y="336.40" width="6.40" height="16.00" fill="#c46e1c"/>
<rect x="462.90" y="272.58" width="6.40" height="79.82" fill="#6b3a16"/>
<rect x="475.80" y="297.15" width="6.20" height="55.25" fill="#c46e1c"/>
<rect x="482.00" y="312.11" width="6.30" height="40.29" fill="#6b3a16"/>
<rect x="494.50" y="292.96" width="6.30" height="59.44" fill="#c46e1c"/>
<rect x="500.80" y="316.01" width="6.30" height="36.39" fill="#6b3a16"/>
<line x1="431.4" y1="270.5" x2="431.4" y2="352.9" stroke="#1a1a1a" stroke-width="0.9"/>
<line x1="428.4" y1="352.4" x2="431.4" y2="352.4" stroke="#1a1a1a" stroke-width="0.9"/>
<text x="425.4" y="354.8" font-size="6.6" fill="#333" stroke="#333" stroke-width="0.1" text-anchor="end">0</text>
<line x1="428.4" y1="342.9" x2="431.4" y2="342.9" stroke="#1a1a1a" stroke-width="0.9"/>
<text x="425.4" y="345.2" font-size="6.6" fill="#333" stroke="#333" stroke-width="0.1" text-anchor="end">10</text>
<line x1="428.4" y1="333.3" x2="431.4" y2="333.3" stroke="#1a1a1a" stroke-width="0.9"/>
<text x="425.4" y="335.7" font-size="6.6" fill="#333" stroke="#333" stroke-width="0.1" text-anchor="end">20</text>
<line x1="428.4" y1="323.8" x2="431.4" y2="323.8" stroke="#1a1a1a" stroke-width="0.9"/>
<text x="425.4" y="326.2" font-size="6.6" fill="#333" stroke="#333" stroke-width="0.1" text-anchor="end">30</text>
<line x1="428.4" y1="314.3" x2="431.4" y2="314.3" stroke="#1a1a1a" stroke-width="0.9"/>
<text x="425.4" y="316.6" font-size="6.6" fill="#333" stroke="#333" stroke-width="0.1" text-anchor="end">40</text>
<line x1="428.4" y1="304.8" x2="431.4" y2="304.8" stroke="#1a1a1a" stroke-width="0.9"/>
<text x="425.4" y="307.1" font-size="6.6" fill="#333" stroke="#333" stroke-width="0.1" text-anchor="end">50</text>
<line x1="428.4" y1="295.2" x2="431.4" y2="295.2" stroke="#1a1a1a" stroke-width="0.9"/>
<text x="425.4" y="297.6" font-size="6.6" fill="#333" stroke="#333" stroke-width="0.1" text-anchor="end">60</text>
<line x1="428.4" y1="285.7" x2="431.4" y2="285.7" stroke="#1a1a1a" stroke-width="0.9"/>
<text x="425.4" y="288.1" font-size="6.6" fill="#333" stroke="#333" stroke-width="0.1" text-anchor="end">70</text>
<line x1="428.4" y1="276.2" x2="431.4" y2="276.2" stroke="#1a1a1a" stroke-width="0.9"/>
<text x="425.4" y="278.6" font-size="6.6" fill="#333" stroke="#333" stroke-width="0.1" text-anchor="end">80</text>
<line x1="431.4" y1="352.4" x2="512.7" y2="352.4" stroke="#1a1a1a" stroke-width="1.0"/>
<line x1="444.3" y1="352.4" x2="444.3" y2="355.2" stroke="#1a1a1a" stroke-width="0.9"/>
<line x1="463.1" y1="352.4" x2="463.1" y2="355.2" stroke="#1a1a1a" stroke-width="0.9"/>
<line x1="482.0" y1="352.4" x2="482.0" y2="355.2" stroke="#1a1a1a" stroke-width="0.9"/>
<line x1="500.8" y1="352.4" x2="500.8" y2="355.2" stroke="#1a1a1a" stroke-width="0.9"/>
<text x="446.8" y="362.1" font-size="6.6" fill="#333" stroke="#333" stroke-width="0.1" text-anchor="end" transform="rotate(-45 446.8 362.1)">AFR</text>
<text x="465.6" y="362.1" font-size="6.6" fill="#333" stroke="#333" stroke-width="0.1" text-anchor="end" transform="rotate(-45 465.6 362.1)">ASN</text>
<text x="484.4" y="361.6" font-size="6.6" fill="#333" stroke="#333" stroke-width="0.1" text-anchor="end" transform="rotate(-45 484.4 361.6)">CAU</text>
<text x="503.2" y="361.6" font-size="6.6" fill="#333" stroke="#333" stroke-width="0.1" text-anchor="end" transform="rotate(-45 503.2 361.6)">HISP</text>
<text x="412.8" y="312.0" font-size="8.0" fill="#333" stroke="#333" stroke-width="0.1" text-anchor="middle" textLength="28" lengthAdjust="spacingAndGlyphs" transform="rotate(-90 412.8 312.0)">% of total</text>
<text x="478.0" y="276.0" font-size="6.5" fill="#3c4060" stroke="#3c4060" stroke-width="0.1">Carnitine</text>
<rect x="478.50" y="278.40" width="4.10" height="2.80" fill="#c46e1c"/>
<text x="486.2" y="281.6" font-size="6.8" fill="#c46e1c" stroke="#c46e1c" stroke-width="0.1">Low</text>
<rect x="478.50" y="285.00" width="4.10" height="2.80" fill="#6b3a16"/>
<text x="486.2" y="288.2" font-size="6.8" fill="#6b3a16" stroke="#6b3a16" stroke-width="0.1">High</text>
<rect x="0.5" y="0.5" width="519" height="384" fill="none" stroke="#4a4a4a" stroke-width="1.2"/>
</svg></body></html>
